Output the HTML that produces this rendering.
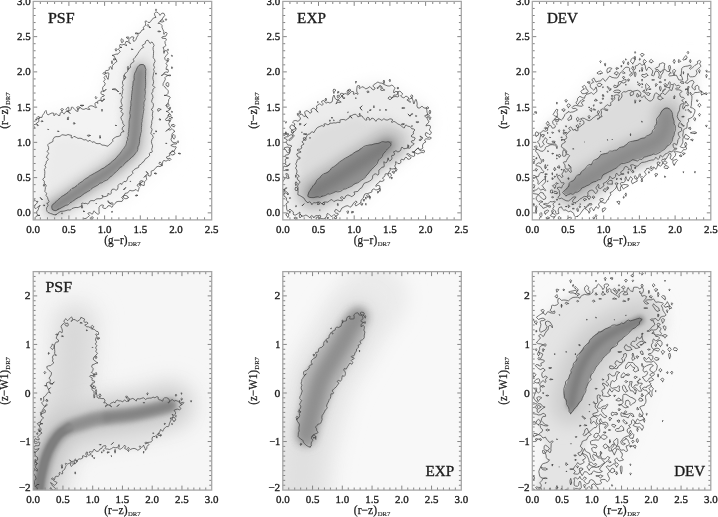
<!DOCTYPE html>
<html><head><meta charset="utf-8"><style>
html,body{margin:0;padding:0;background:#fff}
body{width:718px;height:517px;overflow:hidden}
svg{display:block}
text{font-family:"Liberation Serif",serif;fill:#1a1a1a}
.tl{font-size:10.8px;stroke:#1a1a1a;stroke-width:0.32px}
.al{font-size:12px;stroke:#1a1a1a;stroke-width:0.25px}
.sub{font-size:7px;stroke:#1a1a1a;stroke-width:0.15px}
.pn{font-size:15.1px;stroke:#1a1a1a;stroke-width:0.35px}
</style></head><body>
<svg width="718" height="517" viewBox="0 0 718 517">
<defs>
<clipPath id="c0"><rect x="33.2" y="1.4" width="178.5" height="218.5"/></clipPath>
<clipPath id="c1"><rect x="282.8" y="1.4" width="178.5" height="218.5"/></clipPath>
<clipPath id="c2"><rect x="532.3" y="1.4" width="178.5" height="218.5"/></clipPath>
<clipPath id="c3"><rect x="33.2" y="271.6" width="178.5" height="218.5"/></clipPath>
<clipPath id="c4"><rect x="282.8" y="271.6" width="178.5" height="218.5"/></clipPath>
<clipPath id="c5"><rect x="532.3" y="271.6" width="178.5" height="218.5"/></clipPath>
<filter id="b05" filterUnits="userSpaceOnUse" x="0" y="0" width="718" height="517"><feGaussianBlur stdDeviation="0.6"/></filter>
<filter id="b1" filterUnits="userSpaceOnUse" x="0" y="0" width="718" height="517"><feGaussianBlur stdDeviation="1.2"/></filter>
<filter id="b2" filterUnits="userSpaceOnUse" x="0" y="0" width="718" height="517"><feGaussianBlur stdDeviation="2.5"/></filter>
<filter id="b3" filterUnits="userSpaceOnUse" x="0" y="0" width="718" height="517"><feGaussianBlur stdDeviation="5"/></filter>
<filter id="b4" filterUnits="userSpaceOnUse" x="0" y="0" width="718" height="517"><feGaussianBlur stdDeviation="9"/></filter>
</defs>
<rect width="718" height="517" fill="#fff"/>
<g clip-path="url(#c0)">
<path d="M153.7 13.1C154.1 11.8 154.6 11.2 155.4 11.4C156.2 11.6 157.1 13.4 158.3 14.3C159.5 15.2 161.6 15.8 162.4 16.6C163.2 17.4 163.2 17.9 163 18.9C162.8 19.9 161.6 20.8 161.2 22.4C160.8 23.9 160.2 26.3 160.6 28.2C161 30.1 163 32.1 163.5 34C164 35.9 163.2 37.3 163.5 39.8C163.8 42.3 164.8 46.2 165.3 49.1C165.8 52 166.3 54.6 166.4 57.2C166.5 59.9 166.2 60.4 166 65C165.8 69.6 164.9 79.9 165.1 85C165.3 90.1 166.7 90.9 167.3 95.7C167.9 100.5 168.1 108.6 168.7 113.9C169.3 119.2 170 123.1 171 127.8C172 132.4 174.1 137.5 174.5 141.8C174.9 146.1 175.8 149.5 173.3 153.4C170.8 157.3 163.7 161.1 159.4 165C155.2 168.9 151.7 172.7 147.8 176.6C143.9 180.5 140.4 184.3 136.2 188.2C131.9 192.1 126.6 197.2 122.3 199.8C118 202.4 115.2 201.2 110.4 203.5C105.6 205.8 98.1 211 93.6 213.5C89.1 216 85.9 216.5 83.6 218.6C81.3 220.7 87.9 224.8 80 226C72.1 227.2 43.3 229.3 36 226C28.7 222.7 36.5 210 36.2 206C35.9 202 35.9 203 34.2 202C32.5 201 27.4 212.3 26 200C24.6 187.7 24.6 140 26 128C27.4 116 32.3 129 34.2 127.8C36.1 126.6 35.9 123.1 37.6 120.9C39.3 118.7 41.5 116 44.6 114.8C47.7 113.6 52 114.7 56.2 113.7C60.5 112.7 65.5 109.8 70.1 109C74.7 108.2 79.8 109.6 84 109C88.2 108.4 92.9 107.1 95.6 105.6C98.3 104.1 99.1 101.9 100.3 99.8C101.5 97.7 102 95.5 102.6 92.8C103.2 90.1 103 86.6 103.8 83.5C104.6 80.4 105.8 77.3 107.2 74.2C108.6 71.1 110.7 68.1 111.9 65C113.1 61.9 113.3 58 114.2 55.7C115.1 53.4 116.3 52.3 117.3 51C118.3 49.7 119.2 48.8 120 47.9C120.8 47 121.3 46.6 122.3 45.6C123.3 44.6 124.6 42.9 125.8 42.1C127 41.3 128 41.6 129.3 41C130.7 40.4 132.2 40.1 133.9 38.7C135.6 37.4 137.9 34.6 139.7 32.9C141.4 31.1 142.8 29.9 144.4 28.2C146 26.4 147.6 23.9 149 22.4C150.4 20.8 152.3 20.4 153.1 18.9C153.9 17.3 153.3 14.3 153.7 13.1Z" fill="#f6f6f6" filter="url(#b4)"/>
<path d="M153.7 13.1C154.1 11.8 154.6 11.2 155.4 11.4C156.2 11.6 157.1 13.4 158.3 14.3C159.5 15.2 161.6 15.8 162.4 16.6C163.2 17.4 163.2 17.9 163 18.9C162.8 19.9 161.6 20.8 161.2 22.4C160.8 23.9 160.2 26.3 160.6 28.2C161 30.1 163 32.1 163.5 34C164 35.9 163.2 37.3 163.5 39.8C163.8 42.3 164.8 46.2 165.3 49.1C165.8 52 166.3 54.6 166.4 57.2C166.5 59.9 166.2 60.4 166 65C165.8 69.6 164.9 79.9 165.1 85C165.3 90.1 166.7 90.9 167.3 95.7C167.9 100.5 168.1 108.6 168.7 113.9C169.3 119.2 170 123.1 171 127.8C172 132.4 174.1 137.5 174.5 141.8C174.9 146.1 175.8 149.5 173.3 153.4C170.8 157.3 163.7 161.1 159.4 165C155.2 168.9 151.7 172.7 147.8 176.6C143.9 180.5 140.4 184.3 136.2 188.2C131.9 192.1 126.6 197.2 122.3 199.8C118 202.4 115.2 201.2 110.4 203.5C105.6 205.8 98.1 211 93.6 213.5C89.1 216 85.9 216.5 83.6 218.6C81.3 220.7 87.9 224.8 80 226C72.1 227.2 43.3 229.3 36 226C28.7 222.7 36.5 210 36.2 206C35.9 202 35.9 203 34.2 202C32.5 201 27.4 212.3 26 200C24.6 187.7 24.6 140 26 128C27.4 116 32.3 129 34.2 127.8C36.1 126.6 35.9 123.1 37.6 120.9C39.3 118.7 41.5 116 44.6 114.8C47.7 113.6 52 114.7 56.2 113.7C60.5 112.7 65.5 109.8 70.1 109C74.7 108.2 79.8 109.6 84 109C88.2 108.4 92.9 107.1 95.6 105.6C98.3 104.1 99.1 101.9 100.3 99.8C101.5 97.7 102 95.5 102.6 92.8C103.2 90.1 103 86.6 103.8 83.5C104.6 80.4 105.8 77.3 107.2 74.2C108.6 71.1 110.7 68.1 111.9 65C113.1 61.9 113.3 58 114.2 55.7C115.1 53.4 116.3 52.3 117.3 51C118.3 49.7 119.2 48.8 120 47.9C120.8 47 121.3 46.6 122.3 45.6C123.3 44.6 124.6 42.9 125.8 42.1C127 41.3 128 41.6 129.3 41C130.7 40.4 132.2 40.1 133.9 38.7C135.6 37.4 137.9 34.6 139.7 32.9C141.4 31.1 142.8 29.9 144.4 28.2C146 26.4 147.6 23.9 149 22.4C150.4 20.8 152.3 20.4 153.1 18.9C153.9 17.3 153.3 14.3 153.7 13.1Z" fill="#f3f3f3" filter="url(#b2)"/>
<path d="M147.9 39.8C148.7 39.6 149.4 40.6 150.2 41C151 41.4 151.9 40.4 152.5 42.1C153.1 43.8 153.4 47.6 153.7 51.4C154 55.2 154.2 61.1 154.2 65C154.1 68.9 153.7 70.6 153.4 75C153.2 79.4 152.9 84.9 152.7 91.2C152.5 97.5 152.2 107.4 152 113C151.8 118.6 151.6 121.4 151.5 125C151.4 128.6 151.2 131.5 151.4 134.7C151.6 137.9 152.4 141.7 152.4 144.3C152.4 146.9 152.2 148 151.4 150.1C150.6 152.2 149.2 154.8 147.6 156.9C146 159 144.1 160.6 141.8 162.7C139.5 164.8 135.9 167.4 134 169.5C132.1 171.6 131.8 172.9 130.1 175C128.4 177.1 126.3 179.9 124 182C121.7 184.1 118.3 185.7 116 187.5C113.7 189.3 112.7 191.2 110 192.9C107.3 194.6 103 196.2 100 197.5C97 198.8 94.2 199.7 92 200.5C89.8 201.3 88.8 201.6 86.5 202.5C84.2 203.4 80.9 204.9 78 206C75.1 207.1 71.5 208.2 69 209C66.5 209.8 64.9 210.5 63 211C61.1 211.5 59.3 211.5 57.4 211.8C55.5 212.1 53.1 212.7 51.6 212.8C50.1 212.9 48.9 212.9 48.1 212.2C47.3 211.5 47 210 47 208.7C47 207.3 47.7 205.5 48.1 204.1C48.5 202.7 49.6 201.6 49.3 200C49 198.4 47.2 196.2 46.4 194.8C45.6 193.4 44.6 192.7 44.6 191.3C44.6 190 46.6 187.8 46.4 186.7C46.2 185.5 44.2 185.4 43.5 184.4C42.8 183.4 42 182.3 42.3 180.9C42.6 179.5 44.8 177.8 45.2 176.2C45.6 174.6 44.5 173.5 44.6 171.6C44.7 169.7 45.8 166.5 45.8 164.6C45.8 162.7 44.4 161.1 44.6 160C44.8 158.9 46.3 159.7 46.9 158C47.5 156.3 47.6 152.3 48 150C48.4 147.7 47.8 146.2 49.2 144.1C50.6 141.9 53.1 138.6 56.2 137.1C59.3 135.6 63.9 134.6 67.8 134.8C71.7 135 75.5 137.1 79.4 138.3C83.3 139.5 88.1 140.8 91 141.8C93.9 142.8 94.7 143.7 97 144.4C99.3 145.2 102.7 146.3 105 146.3C107.3 146.3 109 145.8 110.8 144.3C112.6 142.9 113.7 139.5 115.6 137.6C117.5 135.7 121 134.6 122.4 132.7C123.8 130.8 124 128.1 124 126C124 123.9 122.6 123.6 122.2 120.2C121.8 116.8 121.5 110.5 121.5 105.7C121.5 100.9 121.7 96 122.2 91.2C122.7 86.4 123.4 80.6 124.4 76.7C125.4 72.8 126.8 70 128 68C129.2 66 130.6 66.4 131.6 65C132.6 63.6 132.6 61.8 133.9 59.5C135.2 57.2 137.8 54.3 139.7 51.4C141.6 48.5 144.1 44 145.5 42.1C146.9 40.2 147.1 40 147.9 39.8Z" fill="#ebebeb" filter="url(#b3)"/>
<path d="M55 206.5C57.5 204.9 64.2 200.8 70 197C75.8 193.2 83.3 188 90 183.5C96.7 179 104.2 174.4 110 170C115.8 165.6 121.2 160.8 125 157C128.8 153.2 130.8 151.2 132.5 147C134.2 142.8 134.3 138.2 135 132C135.7 125.8 136 117 136.5 110C137 103 137.4 96.3 138 90C138.6 83.7 139.7 75 140 72" fill="none" stroke="#d2d2d2" stroke-width="26" stroke-linejoin="round" stroke-linecap="round" filter="url(#b3)"/>
<path d="M55 206.5C57.5 204.9 64.2 200.8 70 197C75.8 193.2 83.3 188 90 183.5C96.7 179 104.2 174.4 110 170C115.8 165.6 121.2 160.8 125 157C128.8 153.2 130.8 151.2 132.5 147C134.2 142.8 134.3 138.2 135 132C135.7 125.8 136 117 136.5 110C137 103 137.4 96.3 138 90C138.6 83.7 139.7 75 140 72" fill="none" stroke="#c0c0c0" stroke-width="16" stroke-linejoin="round" stroke-linecap="round" filter="url(#b2)"/>
<path d="M51.5 208.6C51.5 207.8 51.6 206.3 52.2 205.3C52.8 204.3 53.7 203.7 55 202.5C56.3 201.3 57.5 200.2 60 198.3C62.5 196.4 66.5 193.4 69.7 191C72.9 188.6 76.2 186 79.3 183.7C82.3 181.4 85.1 179.3 88 177.4C90.9 175.5 94 174 96.8 172.3C99.5 170.7 102.3 168.9 104.5 167.5C106.7 166.1 108 165.3 110 163.6C112 161.9 114.5 159.6 116.6 157.5C118.7 155.4 120.7 153.3 122.4 151.1C124.1 148.9 125.8 147 126.8 144.3C127.8 141.6 128.2 137.9 128.7 134.7C129.1 131.5 129.2 128.6 129.5 125C129.8 121.4 129.8 117.4 130.2 113C130.6 108.6 131.2 103.3 131.7 98.5C132.2 93.7 132.5 88.3 133.1 84C133.7 79.7 134.3 75.6 135.3 72.4C136.3 69.2 137.8 66.4 138.9 65.1C140 63.7 141 64.3 141.8 64.3C142.7 64.3 143.4 64.5 144 65.1C144.6 65.7 145.2 64.8 145.4 68C145.6 71.2 145.6 78.9 145.4 84C145.2 89.1 144.5 93.7 144 98.5C143.5 103.3 143 108.6 142.5 113C142 117.4 141.4 121.4 141 125C140.6 128.6 140.4 131.5 140 134.7C139.6 137.9 139.5 141.4 138.8 144.3C138.1 147.2 137.1 150 136 152.1C134.9 154.2 134 155 132.1 156.9C130.2 158.8 126.9 161.4 124.3 163.7C121.7 166 118.7 168.6 116.6 170.5C114.5 172.4 113.2 173.7 111.8 175C110.4 176.3 110.2 177.1 108 178.5C105.8 179.9 101.9 181.7 98.7 183.6C95.5 185.5 92.2 187.8 89 190C85.8 192.2 82.5 194.7 79.3 196.8C76.1 198.9 72.9 200.7 69.7 202.6C66.5 204.5 62.5 207.1 60 208.4C57.5 209.7 56.2 210.3 55 210.6C53.8 210.9 53.1 210.5 52.5 210.2C51.9 209.9 51.5 209.4 51.5 208.6Z" fill="#9c9c9c" filter="url(#b05)"/>
<path d="M55 206.5C57.5 204.9 64.2 200.8 70 197C75.8 193.2 83.3 188 90 183.5C96.7 179 104.2 174.4 110 170C115.8 165.6 121.2 160.8 125 157C128.8 153.2 130.8 151.2 132.5 147C134.2 142.8 134.3 138.2 135 132C135.7 125.8 136 117 136.5 110C137 103 137.4 96.3 138 90C138.6 83.7 139.7 75 140 72" fill="none" stroke="#858585" stroke-width="6" stroke-linejoin="round" stroke-linecap="round" filter="url(#b2)"/>
<path d="M156.0 10.4L155.6 9.4L156.0 8.9L156.5 9.4L156.0 10.4ZM56.0 230.2L54.7 229.4L55.5 227.4L54.5 225.4L56.0 223.9L56.4 223.4L56.0 223.1L55.3 223.4L54.0 224.7L52.0 225.0L50.0 223.4L51.2 225.4L50.0 226.9L49.3 227.4L48.0 228.2L46.0 227.8L45.0 227.4L44.0 227.2L42.0 225.4L40.0 225.0L38.0 223.4L39.3 225.4L38.0 226.2L36.0 225.4L38.0 223.4L36.0 222.4L35.3 221.4L35.0 219.4L35.2 217.4L36.0 216.4L38.0 215.4L40.0 215.4L38.0 215.4L36.7 213.4L36.7 211.4L38.0 210.4L38.3 209.4L38.8 207.4L40.0 205.9L40.2 205.4L40.0 205.1L39.7 205.4L38.0 206.9L37.2 207.4L36.0 208.6L34.0 207.4L34.4 205.4L36.0 204.3L36.7 203.4L38.0 201.4L36.0 201.4L34.0 199.4L34.0 201.4L32.0 202.4L31.0 201.4L30.4 199.4L30.0 198.9L28.0 198.7L26.7 197.4L26.4 195.4L26.5 193.4L28.0 191.4L28.0 189.4L26.0 190.8L24.0 190.4L23.0 189.4L23.1 187.4L24.0 185.9L25.2 187.4L26.0 188.0L28.0 189.4L26.4 187.4L28.0 185.4L26.0 186.4L24.7 185.4L26.0 184.6L28.0 185.4L28.4 183.4L30.0 181.8L31.0 181.4L30.0 181.0L28.0 181.2L26.0 179.4L28.0 177.4L26.0 179.4L25.3 177.4L26.0 175.4L24.0 176.4L22.9 175.4L24.0 174.3L26.0 175.4L25.0 173.4L24.0 171.4L26.0 170.1L28.0 169.4L27.0 167.4L28.0 166.7L29.3 165.4L30.0 164.7L30.6 163.4L30.0 162.7L29.0 163.4L28.0 164.4L26.0 165.4L25.3 163.4L26.0 162.4L26.2 161.4L26.7 159.4L26.7 157.4L28.0 155.9L30.0 157.4L28.4 155.4L28.0 154.6L26.8 153.4L26.0 152.1L25.3 151.4L26.0 150.7L28.0 150.4L28.3 149.4L28.0 148.6L26.0 148.1L25.6 147.4L26.0 146.7L27.0 145.4L26.0 144.6L24.8 143.4L26.0 142.5L27.0 141.4L28.0 139.4L26.0 140.3L24.8 139.4L26.0 138.4L28.0 139.4L27.2 137.4L26.0 135.9L24.5 137.4L24.0 138.1L23.0 137.4L23.0 135.4L22.9 133.4L24.0 132.3L26.0 133.4L25.0 131.4L26.0 129.4L27.5 131.4L26.0 133.4L28.0 131.7L29.7 133.4L30.0 133.9L30.4 133.4L30.0 133.2L28.2 131.4L30.0 129.9L32.0 129.4L34.0 128.1L35.0 127.4L34.0 126.4L33.5 125.4L34.0 124.7L36.0 124.1L37.0 125.4L38.0 125.8L38.5 125.4L38.0 124.9L36.3 123.4L38.0 122.1L39.0 121.4L38.7 119.4L40.0 117.4L42.0 117.4L42.5 115.4L44.0 113.4L45.0 111.4L46.0 110.4L46.4 111.4L46.7 113.4L48.0 115.0L50.0 113.8L51.0 113.4L52.0 112.9L54.0 113.4L53.7 115.4L54.0 115.6L54.7 115.4L56.0 113.4L58.0 115.4L60.0 115.4L60.0 113.4L62.0 111.9L63.5 113.4L64.0 114.1L64.5 113.4L66.0 111.4L68.0 111.4L70.0 110.4L71.3 109.4L71.3 107.4L72.0 107.0L72.7 107.4L74.0 108.4L74.8 109.4L76.0 110.9L78.0 111.4L78.0 109.4L80.0 107.4L82.0 109.0L84.0 109.4L86.0 108.4L88.0 109.4L90.0 109.4L88.0 107.4L90.0 105.9L92.0 105.8L94.0 106.7L95.2 107.4L96.0 108.0L96.6 107.4L96.0 106.6L95.2 105.4L95.0 103.4L96.0 102.1L98.0 103.4L97.3 101.4L98.0 101.1L100.0 100.1L102.0 101.4L100.8 99.4L101.3 97.4L102.0 96.6L104.0 96.1L104.4 95.4L104.0 94.9L102.0 94.4L100.8 93.4L101.3 91.4L102.0 91.0L104.0 91.4L102.6 89.4L102.7 87.4L104.0 85.7L104.7 85.4L105.2 83.4L104.0 81.9L103.6 81.4L104.0 80.9L105.2 79.4L104.0 77.4L106.0 75.4L106.8 77.4L108.0 79.4L108.5 77.4L108.6 75.4L109.0 73.4L108.0 72.7L106.0 73.4L104.0 74.6L102.8 73.4L104.0 72.5L106.0 73.4L105.1 71.4L106.0 70.5L108.0 70.4L109.3 69.4L109.3 67.4L110.0 66.6L111.3 67.4L112.0 69.4L112.2 67.4L112.4 65.4L114.0 64.1L114.5 63.4L116.0 61.9L117.0 61.4L116.0 59.4L114.0 60.0L113.0 59.4L114.0 58.6L116.0 59.4L114.7 57.4L114.0 55.9L112.0 55.4L114.0 54.9L116.0 54.1L118.0 54.1L118.4 53.4L120.0 51.8L120.3 51.4L120.0 51.0L118.4 49.4L120.0 47.4L122.0 47.4L120.0 47.4L119.6 45.4L120.0 44.4L122.0 45.0L124.0 44.3L125.6 45.4L126.0 45.7L127.0 45.4L126.0 44.7L125.2 43.4L126.0 41.4L128.0 41.7L129.7 43.4L130.0 43.9L130.5 43.4L130.0 42.7L128.7 41.4L129.0 39.4L130.0 38.4L130.7 37.4L132.0 36.7L134.0 37.4L133.0 39.4L133.7 41.4L134.0 41.6L134.3 41.4L136.0 39.4L136.7 37.4L138.0 35.4L138.0 33.4L136.0 33.9L135.0 33.4L136.0 32.7L138.0 33.4L140.0 33.1L141.1 31.4L142.0 30.0L144.0 29.4L143.2 27.4L144.0 26.6L145.5 25.4L145.6 23.4L145.0 21.4L146.0 20.9L147.0 21.4L148.0 22.4L150.0 22.4L150.7 21.4L152.0 19.4L154.0 17.8L156.0 17.4L154.8 15.4L154.4 13.4L156.0 11.8L158.0 12.7L158.7 13.4L160.0 15.4L161.6 13.4L162.0 13.1L164.0 13.4L164.8 15.4L164.0 16.7L163.0 17.4L162.0 19.4L160.0 21.4L162.0 19.4L164.0 21.4L162.0 22.1L160.0 21.4L158.0 23.4L160.0 23.4L162.0 25.4L162.0 27.4L162.8 29.4L163.8 31.4L163.6 33.4L164.0 34.4L164.4 33.4L166.0 32.1L167.1 33.4L166.3 35.4L166.0 36.1L164.0 36.4L162.0 37.0L161.8 37.4L162.0 38.1L164.0 38.4L166.0 38.7L166.4 39.4L166.0 40.4L165.0 41.4L165.1 43.4L166.0 45.4L164.0 47.2L163.0 47.4L163.8 49.4L164.0 51.4L166.0 50.4L167.2 51.4L168.0 53.4L166.3 55.4L166.0 56.1L164.7 57.4L165.0 59.4L166.0 60.6L168.0 61.4L167.2 59.4L168.0 58.1L168.8 59.4L168.0 61.4L166.0 63.4L167.3 65.4L166.4 67.4L166.0 69.4L168.0 69.4L168.4 71.4L168.0 72.4L166.0 71.9L164.0 72.9L163.8 73.4L162.0 75.2L161.3 75.4L162.0 75.7L162.4 75.4L164.0 73.8L166.0 74.6L168.0 75.4L170.0 74.9L171.0 75.4L170.0 75.8L168.0 75.4L166.0 76.4L165.0 77.4L165.3 79.4L164.3 81.4L164.0 82.1L163.2 83.4L163.0 85.4L164.0 86.4L165.5 87.4L166.0 88.4L167.0 89.4L168.0 90.4L168.3 91.4L168.0 93.4L166.0 95.4L164.0 95.4L166.0 95.4L168.0 96.1L170.0 96.9L170.3 97.4L170.0 98.1L168.7 99.4L168.5 101.4L168.0 103.4L166.0 105.4L168.0 103.4L169.3 105.4L168.0 106.5L166.0 105.4L167.2 107.4L168.0 108.5L170.0 109.4L169.7 107.4L170.0 106.9L170.5 107.4L170.0 109.4L168.0 111.0L166.0 111.4L168.0 111.9L169.5 113.4L168.0 115.4L170.0 113.8L171.0 115.4L170.0 117.0L168.0 115.4L168.0 117.4L166.0 118.5L165.5 119.4L166.0 120.6L168.0 120.4L170.0 121.4L168.8 119.4L170.0 117.9L170.9 119.4L170.0 121.4L168.7 123.4L169.3 125.4L170.0 126.4L170.5 127.4L170.0 128.1L168.0 129.4L166.0 131.4L168.0 129.4L170.0 130.1L171.0 129.4L172.0 128.6L172.8 129.4L174.0 130.9L175.0 131.4L174.0 131.8L172.4 133.4L172.0 134.4L171.8 135.4L171.8 137.4L171.0 139.4L171.8 141.4L172.0 141.7L174.0 142.7L176.0 142.7L177.0 143.4L176.0 144.1L174.0 143.9L172.0 144.7L170.8 145.4L172.0 146.0L174.0 146.9L176.0 146.7L176.3 147.4L176.0 147.7L175.0 149.4L174.0 151.4L172.0 150.7L171.6 151.4L170.0 153.0L169.3 153.4L170.0 155.4L168.0 156.4L166.0 157.4L168.0 158.9L170.0 158.2L171.0 159.4L170.0 160.5L168.0 159.9L166.0 161.2L164.0 160.4L162.8 161.4L162.5 163.4L162.0 165.4L160.0 166.6L158.0 166.2L156.0 167.4L154.5 169.4L154.0 170.1L152.0 170.8L151.0 171.4L151.3 173.4L151.0 175.4L150.0 176.2L148.0 175.4L148.2 173.4L148.0 173.1L146.0 171.4L147.7 173.4L146.0 175.4L144.0 177.4L146.0 175.4L146.3 177.4L146.7 179.4L146.0 180.2L144.8 181.4L144.3 183.4L144.3 185.4L144.0 185.7L143.0 185.4L142.0 185.0L140.0 183.4L141.0 185.4L140.0 186.1L139.3 185.4L140.0 183.4L138.0 184.1L137.0 185.4L138.0 186.2L139.2 187.4L138.7 189.4L138.0 191.4L136.0 189.4L134.0 190.6L132.0 190.9L130.0 190.3L128.7 191.4L128.0 192.7L126.0 193.2L125.0 193.4L124.0 195.4L122.0 197.0L121.6 197.4L122.0 197.9L123.2 199.4L122.0 201.4L120.0 201.4L118.0 201.4L116.0 202.1L115.2 203.4L114.0 204.6L113.0 203.4L112.0 202.7L110.0 203.4L112.0 204.4L113.2 205.4L112.0 207.4L110.0 205.7L108.0 205.8L106.9 207.4L106.0 208.4L104.0 208.4L102.6 207.4L103.5 205.4L102.0 204.9L100.5 205.4L100.0 205.9L99.0 207.4L99.0 209.4L99.0 211.4L99.3 213.4L98.0 214.4L96.7 213.4L96.0 213.1L94.5 211.4L94.0 210.8L93.5 211.4L93.0 213.4L92.0 214.2L91.0 213.4L90.0 212.6L88.0 213.2L87.8 213.4L88.0 213.8L89.6 215.4L88.0 217.0L87.5 217.4L86.0 218.4L84.0 218.7L83.0 219.4L84.0 221.4L82.0 223.4L84.0 221.4L84.4 223.4L84.0 224.4L82.0 223.4L81.0 225.4L80.0 226.2L78.5 227.4L78.0 227.8L77.3 227.4L76.0 226.6L74.0 225.4L74.0 223.4L72.0 224.8L70.0 224.2L68.0 224.6L66.0 223.4L67.3 225.4L66.0 226.7L65.0 225.4L66.0 223.4L64.0 224.3L63.0 223.4L62.0 222.9L61.0 223.4L62.0 224.4L62.9 225.4L62.0 226.9L61.6 227.4L60.0 229.0L58.7 227.4L58.0 226.4L56.7 227.4L57.3 229.4L56.0 230.2ZM166.0 19.9L165.3 19.4L166.0 18.7L166.7 19.4L166.0 19.9ZM150.2 27.4L150.0 27.1L148.3 25.4L148.0 24.4L147.0 25.4L148.0 26.4L149.0 27.4L150.0 27.7L150.2 27.4ZM160.2 31.4L160.0 31.1L158.0 31.1L157.7 31.4L158.0 31.7L160.0 31.8L160.2 31.4ZM128.0 38.4L126.0 37.4L128.0 36.9L129.0 37.4L128.0 38.4ZM122.0 42.3L121.0 41.4L121.0 39.4L122.0 38.7L122.7 39.4L123.5 41.4L122.0 42.3ZM116.0 50.7L115.0 49.4L116.0 48.7L117.3 49.4L116.0 50.7ZM132.6 49.4L132.0 48.6L131.2 49.4L132.0 49.8L132.6 49.4ZM168.0 50.1L167.5 49.4L168.0 48.9L168.4 49.4L168.0 50.1ZM164.0 51.4L164.0 53.4L164.0 51.4ZM172.0 56.1L171.3 55.4L172.0 55.0L172.3 55.4L172.0 56.1ZM112.0 63.4L111.5 61.4L112.0 60.7L112.3 61.4L112.0 63.4ZM172.0 68.2L171.0 67.4L172.0 66.8L172.7 67.4L172.0 68.2ZM168.0 86.4L166.0 85.4L166.0 83.4L168.0 82.4L168.7 83.4L168.8 85.4L168.0 86.4ZM118.2 91.4L118.0 91.2L116.3 89.4L116.0 89.0L114.0 88.7L112.0 89.4L114.0 89.6L116.0 89.9L117.7 91.4L118.0 91.9L118.2 91.4ZM106.0 89.4L104.0 91.4L106.0 89.4ZM96.0 98.4L95.0 97.4L96.0 96.5L96.9 97.4L96.0 98.4ZM104.2 99.4L104.0 98.7L103.5 99.4L102.0 101.4L104.0 99.9L104.2 99.4ZM82.0 105.8L80.0 105.4L82.0 105.1L84.0 105.4L82.0 105.8ZM68.0 111.4L66.0 109.4L67.6 107.4L68.0 107.1L68.7 107.4L68.9 109.4L68.0 111.4ZM78.0 109.4L76.7 107.4L78.0 106.7L80.0 107.4L78.0 109.4ZM62.0 111.0L60.7 109.4L62.0 108.5L63.6 109.4L62.0 111.0ZM160.8 109.4L160.0 108.8L158.0 108.7L157.5 109.4L158.0 111.4L160.0 110.0L160.8 109.4ZM102.0 109.4L102.0 111.4L102.0 109.4ZM172.0 112.1L171.3 111.4L172.0 111.0L172.4 111.4L172.0 112.1ZM70.0 113.4L68.0 111.4L70.0 113.4ZM38.0 118.7L37.0 117.4L38.0 116.4L40.0 117.4L38.0 118.7ZM68.2 119.4L68.7 117.4L68.0 116.9L67.6 117.4L67.3 119.4L68.0 119.6L68.2 119.4ZM172.0 117.8L171.0 117.4L172.0 117.0L172.3 117.4L172.0 117.8ZM36.0 119.9L35.7 119.4L36.0 118.7L37.0 119.4L36.0 119.9ZM160.3 119.4L160.0 118.6L159.0 119.4L160.0 120.4L160.3 119.4ZM42.6 121.4L42.0 120.4L41.0 121.4L42.0 121.9L42.6 121.4ZM74.7 123.4L74.0 122.3L73.4 123.4L74.0 124.4L74.7 123.4ZM28.0 125.9L27.5 125.4L28.0 125.0L28.5 125.4L28.0 125.9ZM116.2 125.4L116.0 125.0L115.3 125.4L116.0 125.7L116.2 125.4ZM174.0 126.6L172.0 125.9L171.0 125.4L172.0 124.7L174.0 124.4L174.9 125.4L174.0 126.6ZM22.0 127.9L21.3 127.4L22.0 126.4L23.0 127.4L22.0 127.9ZM30.0 128.2L29.2 127.4L30.0 126.6L31.3 127.4L30.0 128.2ZM24.0 129.9L23.7 129.4L24.0 128.7L26.0 129.4L24.0 129.9ZM48.3 129.4L48.0 129.2L47.7 129.4L48.0 129.7L48.3 129.4ZM58.6 131.4L58.0 130.7L57.5 131.4L58.0 132.0L58.6 131.4ZM156.3 131.4L156.0 130.6L155.7 131.4L156.0 132.1L156.3 131.4ZM90.1 135.4L90.0 135.2L88.0 135.1L87.3 135.4L88.0 136.4L90.0 135.7L90.1 135.4ZM174.0 138.6L172.5 137.4L172.5 135.4L174.0 134.5L174.9 135.4L175.2 137.4L174.0 138.6ZM100.3 137.4L100.0 135.4L99.8 137.4L100.0 138.4L100.3 137.4ZM24.0 142.1L23.6 141.4L24.0 140.7L24.4 141.4L24.0 142.1ZM178.0 142.4L177.3 141.4L178.0 140.7L178.5 141.4L178.0 142.4ZM166.5 143.4L166.0 143.1L165.6 143.4L166.0 143.7L166.5 143.4ZM24.0 150.7L23.1 149.4L24.0 148.4L25.3 149.4L24.0 150.7ZM174.0 154.4L172.0 155.2L170.2 153.4L172.0 151.6L174.0 151.4L175.0 153.4L174.0 154.4ZM180.0 153.8L178.0 153.4L180.0 153.1L180.4 153.4L180.0 153.8ZM24.0 156.1L22.0 156.7L21.2 155.4L22.0 154.4L24.0 154.4L25.0 155.4L24.0 156.1ZM162.0 165.4L161.5 163.4L160.0 161.9L158.8 163.4L160.0 164.4L162.0 165.4ZM30.2 173.4L30.0 173.1L28.0 173.4L26.0 175.4L28.0 173.4L30.0 173.6L30.2 173.4ZM156.0 173.7L154.0 173.4L156.0 172.9L156.5 173.4L156.0 173.7ZM28.0 177.4L26.0 175.4L28.0 177.4ZM22.0 179.8L21.3 179.4L22.0 178.7L22.3 179.4L22.0 179.8ZM130.3 181.4L130.0 181.2L129.9 181.4L130.0 181.6L130.3 181.4ZM143.0 181.4L142.0 180.6L140.0 181.2L139.8 181.4L140.0 183.4L142.0 182.1L143.0 181.4ZM124.2 189.4L126.0 187.4L124.0 189.0L123.6 189.4L124.0 189.6L124.2 189.4ZM24.0 197.4L23.0 195.4L24.0 194.4L25.3 195.4L24.0 197.4ZM136.0 195.7L135.5 195.4L136.0 194.9L138.0 195.4L136.0 195.7ZM128.0 197.8L126.0 198.9L124.0 198.1L123.0 197.4L124.0 195.4L126.0 195.4L128.0 196.7L128.4 197.4L128.0 197.8ZM26.0 200.4L25.0 199.4L26.0 198.7L26.7 199.4L26.0 200.4ZM42.1 199.4L42.0 199.2L40.0 197.4L41.7 199.4L42.0 199.7L42.1 199.4ZM28.0 203.7L26.0 203.4L26.5 201.4L28.0 200.2L29.5 201.4L29.0 203.4L28.0 203.7ZM110.0 203.4L108.5 201.4L108.0 200.7L107.9 201.4L108.0 202.1L110.0 203.4ZM96.2 203.4L96.0 203.3L95.8 203.4L96.0 203.6L96.2 203.4ZM44.4 205.4L44.0 204.7L43.4 205.4L44.0 206.1L44.4 205.4ZM84.3 211.4L84.0 210.7L83.0 211.4L84.0 211.7L84.3 211.4ZM112.0 212.1L111.6 211.4L112.0 211.0L112.5 211.4L112.0 212.1ZM92.0 219.9L91.0 219.4L91.2 217.4L92.0 216.6L93.3 217.4L92.3 219.4L92.0 219.9ZM88.0 221.7L87.3 221.4L88.0 220.7L88.5 221.4L88.0 221.7ZM32.0 223.9L31.7 223.4L32.0 222.9L33.0 223.4L32.0 223.9ZM34.0 228.0L32.0 227.4L34.0 226.6L34.6 227.4L34.0 228.0ZM40.0 228.2L39.2 227.4L40.0 226.1L41.3 227.4L40.0 228.2ZM68.0 228.2L67.0 227.4L68.0 226.4L68.7 227.4L68.0 228.2ZM38.0 231.4L37.2 229.4L38.0 228.6L38.8 229.4L38.0 231.4ZM72.0 230.2L70.0 230.4L69.5 229.4L70.0 229.0L72.0 227.8L73.6 229.4L72.0 230.2Z" fill="none" stroke="#404040" stroke-width="0.72" stroke-linejoin="round" stroke-linecap="round"/>
<path d="M56.0 214.6L54.0 214.8L52.0 213.9L50.3 213.4L50.0 213.2L48.0 212.5L47.1 211.4L46.5 209.4L46.8 207.4L48.0 205.9L48.1 205.4L48.0 204.4L46.7 203.4L48.0 203.1L49.1 201.4L48.0 199.4L47.5 197.4L46.0 195.4L46.6 193.4L46.0 192.7L44.8 191.4L45.2 189.4L45.4 187.4L46.0 186.3L46.2 185.4L46.0 184.9L44.2 183.4L44.4 181.4L44.0 181.1L42.8 179.4L44.0 177.7L44.8 177.4L44.6 175.4L44.8 173.4L44.8 171.4L44.4 169.4L45.8 167.4L44.9 165.4L46.0 163.8L46.1 163.4L46.4 161.4L48.0 159.9L48.3 159.4L48.0 158.6L46.3 157.4L47.4 155.4L48.0 154.5L48.7 153.4L48.0 152.5L46.9 151.4L48.0 150.5L48.6 149.4L48.6 147.4L48.0 145.8L47.7 145.4L48.0 144.4L49.0 143.4L50.0 143.1L52.0 142.0L53.0 141.4L53.0 139.4L54.0 137.9L54.2 137.4L56.0 136.6L58.0 136.7L60.0 136.3L61.2 135.4L62.0 134.7L64.0 135.0L66.0 135.4L68.0 134.5L70.0 135.1L71.5 135.4L71.0 137.4L72.0 138.1L73.0 137.4L74.0 136.3L76.0 137.2L76.3 137.4L78.0 138.4L80.0 138.2L82.0 138.7L82.9 139.4L84.0 140.0L86.0 139.6L88.0 141.4L90.0 140.2L91.1 141.4L92.0 142.3L94.0 141.7L96.0 143.4L98.0 143.7L100.0 143.5L102.0 145.1L104.0 145.2L105.0 145.4L106.0 145.8L108.0 146.2L108.5 145.4L110.0 144.2L110.9 143.4L112.0 142.3L112.9 141.4L112.6 139.4L114.0 138.2L115.3 137.4L116.0 136.8L118.0 136.5L120.0 135.7L120.6 135.4L120.8 133.4L122.0 131.9L124.0 131.6L124.1 131.4L124.0 131.1L122.0 129.4L122.5 127.4L124.0 126.1L124.5 125.4L124.0 124.7L122.7 123.4L122.7 121.4L122.0 120.4L121.4 119.4L120.9 117.4L122.0 115.5L122.5 115.4L123.2 113.4L122.0 112.6L120.7 111.4L122.0 109.8L122.2 109.4L122.0 108.4L120.0 108.4L119.8 107.4L120.0 107.0L122.0 106.4L122.2 105.4L122.0 104.6L121.5 103.4L121.0 101.4L121.4 99.4L122.0 98.4L122.6 97.4L122.0 96.3L121.6 95.4L122.0 94.2L122.3 93.4L122.5 91.4L123.0 89.4L122.1 87.4L123.3 85.4L122.5 83.4L122.6 81.4L124.0 79.4L126.0 77.6L126.1 77.4L126.0 77.2L124.0 75.4L125.3 77.4L124.0 79.4L123.6 77.4L124.0 75.4L125.0 73.4L126.0 72.9L127.5 71.4L128.0 69.4L130.0 67.9L130.6 67.4L130.3 65.4L131.3 63.4L132.0 63.0L134.0 61.5L134.1 61.4L134.0 60.9L133.1 59.4L134.0 58.7L135.2 57.4L136.0 55.8L136.7 55.4L137.9 53.4L138.0 53.2L139.2 51.4L140.0 50.3L140.6 49.4L142.0 48.2L143.6 47.4L142.2 45.4L144.0 44.2L145.3 43.4L145.5 41.4L146.0 40.9L148.0 40.1L148.7 41.4L150.0 43.4L152.0 41.9L153.1 43.4L154.0 45.1L154.2 45.4L154.0 45.6L153.1 47.4L153.1 49.4L153.6 51.4L153.5 53.4L153.4 55.4L153.2 57.4L154.0 58.9L154.5 59.4L155.1 61.4L154.0 63.4L153.6 65.4L154.0 66.1L154.6 67.4L154.0 68.5L153.5 69.4L154.0 70.6L154.2 71.4L154.0 72.0L153.5 73.4L153.3 75.4L152.8 77.4L153.0 79.4L153.6 81.4L153.4 83.4L152.5 85.4L154.0 86.7L155.1 87.4L154.0 88.5L152.8 89.4L152.9 91.4L152.0 92.8L151.6 93.4L152.0 94.3L152.6 95.4L153.0 97.4L152.2 99.4L152.0 99.8L151.6 101.4L152.0 102.3L153.1 103.4L153.5 105.4L152.9 107.4L152.0 109.0L151.2 109.4L152.0 110.0L152.9 111.4L152.5 113.4L152.3 115.4L152.8 117.4L152.4 119.4L152.0 120.4L151.7 121.4L151.8 123.4L151.3 125.4L150.9 127.4L152.0 129.1L152.1 129.4L152.0 129.9L151.5 131.4L150.8 133.4L152.0 134.8L152.5 135.4L153.3 137.4L152.0 139.4L151.4 141.4L151.7 143.4L152.0 144.2L152.5 145.4L152.4 147.4L152.0 148.2L151.7 149.4L152.0 150.3L152.4 151.4L152.0 152.2L150.0 152.6L149.4 153.4L149.6 155.4L148.0 157.2L147.8 157.4L146.0 158.5L144.9 159.4L144.0 161.4L142.0 162.7L141.8 163.4L140.0 164.9L138.9 165.4L138.6 167.4L138.0 167.7L136.0 168.4L134.5 169.4L134.0 169.7L132.4 171.4L132.9 173.4L132.0 174.3L130.7 175.4L130.0 176.0L128.0 177.1L127.9 177.4L127.4 179.4L126.3 181.4L126.0 181.7L124.0 181.4L122.3 183.4L122.0 184.4L120.0 183.4L118.0 185.4L118.0 187.4L117.5 189.4L116.0 190.3L114.8 189.4L114.0 189.1L112.0 189.4L111.2 191.4L111.3 193.4L110.0 194.4L108.2 193.4L108.0 193.3L107.9 193.4L108.0 195.4L106.0 196.4L104.0 196.7L102.2 195.4L102.0 195.2L101.9 195.4L102.0 195.7L103.1 197.4L102.0 198.2L100.0 198.8L98.0 198.7L96.0 199.1L95.7 199.4L94.0 200.8L92.0 200.5L90.0 201.0L89.6 201.4L88.7 203.4L88.0 204.1L86.3 203.4L86.0 203.2L85.0 203.4L84.0 203.6L83.6 203.4L82.0 203.0L81.6 203.4L82.0 205.4L80.0 206.7L78.4 207.4L78.0 207.6L76.0 207.4L74.0 207.8L72.0 208.6L71.3 209.4L70.0 210.1L68.0 209.9L66.0 210.6L64.0 211.1L62.0 211.3L61.0 211.4L60.0 211.8L58.0 213.2L57.7 213.4L56.0 214.6ZM128.0 69.4L127.4 67.4L128.0 66.3L128.7 67.4L128.0 69.4ZM156.0 73.8L155.2 73.4L156.0 73.1L156.5 73.4L156.0 73.8ZM120.0 93.6L119.9 93.4L120.0 93.2L120.7 93.4L120.0 93.6ZM154.0 133.7L153.7 133.4L154.0 133.2L154.1 133.4L154.0 133.7ZM44.0 185.8L43.3 185.4L44.0 184.1L44.8 185.4L44.0 185.8ZM82.0 207.7L81.3 207.4L82.0 205.4L82.7 207.4L82.0 207.7ZM62.0 213.6L61.8 213.4L62.0 212.7L62.1 213.4L62.0 213.6Z" fill="none" stroke="#404040" stroke-width="0.72" stroke-linejoin="round" stroke-linecap="round"/>
<path d="M58.0 209.4L56.0 210.7L54.0 210.4L52.3 209.4L52.0 208.3L51.8 207.4L51.9 205.4L52.0 205.3L54.0 203.6L54.2 203.4L56.0 201.8L56.3 201.4L58.0 199.7L58.4 199.4L60.0 198.2L60.7 197.4L62.0 196.3L63.8 195.4L64.0 195.1L66.0 193.9L66.7 193.4L68.0 192.4L69.0 191.4L70.0 190.3L71.0 189.4L72.0 188.4L74.0 187.8L74.4 187.4L76.0 186.3L77.0 185.4L78.0 184.4L79.3 183.4L80.0 182.8L82.0 181.6L82.4 181.4L84.0 179.8L84.6 179.4L86.0 178.5L88.0 177.4L90.0 175.6L90.6 175.4L92.0 174.7L94.0 173.5L94.3 173.4L96.0 172.4L97.9 171.4L98.0 171.3L100.0 170.1L101.0 169.4L102.0 168.7L104.0 168.0L104.6 167.4L106.0 166.3L107.4 165.4L108.0 164.9L110.0 163.6L110.1 163.4L112.0 161.6L112.2 161.4L114.0 160.0L114.7 159.4L116.0 158.3L116.6 157.4L118.0 155.7L118.3 155.4L120.0 153.5L120.1 153.4L121.5 151.4L122.0 150.7L122.9 149.4L124.0 148.2L124.4 147.4L125.8 145.4L126.0 144.8L126.4 143.4L126.7 141.4L127.7 139.4L127.3 137.4L128.0 136.5L128.4 135.4L128.2 133.4L128.7 131.4L128.7 129.4L129.0 127.4L129.1 125.4L129.1 123.4L129.1 121.4L129.4 119.4L130.0 117.4L130.0 117.2L130.2 115.4L130.0 114.2L129.7 113.4L130.0 111.4L130.4 109.4L130.4 107.4L130.9 105.4L130.9 103.4L130.9 101.4L131.5 99.4L131.5 97.4L131.6 95.4L131.9 93.4L132.0 92.1L132.0 91.4L132.5 89.4L132.3 87.4L132.9 85.4L133.0 83.4L133.2 81.4L134.0 80.2L134.2 79.4L134.0 77.4L134.2 75.4L134.6 73.4L135.7 71.4L136.0 70.7L136.5 69.4L137.4 67.4L138.0 66.5L139.1 65.4L140.0 64.8L142.0 64.4L144.0 64.9L144.5 65.4L145.2 67.4L145.9 69.4L145.6 71.4L145.7 73.4L145.6 75.4L145.4 77.4L145.6 79.4L145.6 81.4L145.7 83.4L145.6 85.4L145.6 87.4L145.0 89.4L145.3 91.4L145.3 93.4L144.9 95.4L144.8 97.4L145.2 99.4L144.3 101.4L144.0 102.3L143.9 103.4L144.0 105.0L144.1 105.4L144.0 105.6L143.6 107.4L143.9 109.4L143.5 111.4L143.2 113.4L142.8 115.4L142.7 117.4L142.1 119.4L142.1 121.4L142.0 121.7L141.6 123.4L141.7 125.4L141.4 127.4L141.3 129.4L141.3 131.4L140.7 133.4L140.5 135.4L140.0 137.0L139.9 137.4L139.6 139.4L139.6 141.4L139.3 143.4L138.8 145.4L138.0 146.8L137.9 147.4L137.8 149.4L137.0 151.4L136.0 152.5L135.4 153.4L134.0 155.4L132.0 157.1L131.6 157.4L130.0 158.9L129.4 159.4L128.0 160.8L127.0 161.4L126.0 162.3L124.7 163.4L124.0 164.3L123.2 165.4L122.0 166.6L120.0 167.4L118.6 169.4L118.0 170.0L116.4 171.4L116.0 171.9L114.0 173.4L112.4 175.4L112.0 175.9L110.0 177.0L109.7 177.4L108.1 179.4L108.0 179.5L106.0 180.4L104.0 181.2L103.8 181.4L102.0 182.8L100.0 183.1L99.5 183.4L98.0 185.0L97.2 185.4L96.0 186.0L94.0 187.1L93.5 187.4L92.0 188.3L90.9 189.4L90.0 190.4L88.0 191.3L87.9 191.4L86.0 192.6L84.5 193.4L84.0 193.8L82.0 195.3L81.9 195.4L80.0 196.9L78.5 197.4L78.0 197.7L76.0 198.9L75.3 199.4L74.0 200.4L72.4 201.4L72.0 201.8L70.0 202.8L69.5 203.4L68.0 204.9L66.0 205.2L65.6 205.4L64.0 206.4L62.0 207.4L60.0 208.6L58.0 209.4Z" fill="none" stroke="#404040" stroke-width="0.72" stroke-linejoin="round" stroke-linecap="round"/>
</g>
<g clip-path="url(#c1)">
<path d="M290.1 213.6C288.3 211.8 287.5 207.9 286.6 204.7C285.7 201.4 285.2 197.6 284.8 194.1C284.4 190.6 283.9 188.2 283.9 183.4C283.9 178.7 284.4 171.5 284.8 165.6C285.2 159.7 286.2 152.4 286.6 147.8C287.1 143.2 286.5 141.7 287.5 138C288.5 134.3 290.9 129.1 292.7 125.8C294.5 122.5 295.9 120.4 298.5 118C301.1 115.6 304.9 113.2 308.1 111.3C311.3 109.4 314.6 108 317.8 106.4C321 104.8 324.3 102.9 327.5 101.6C330.7 100.3 334 100.2 337.2 98.7C340.4 97.2 343.6 94.4 346.8 92.9C350 91.4 353.6 90.5 356.5 89.5C359.4 88.5 361.6 87.6 364.2 87C366.8 86.4 369.7 86.5 372 86C374.3 85.5 375.5 84.3 378.1 84C380.7 83.7 385.5 83.2 387.6 84C389.8 84.8 389.4 87.5 391 89C392.6 90.5 394.9 91.7 397 93C399.1 94.3 401.5 95.9 403.8 97C406.1 98.1 408.3 98.7 410.6 99.8C412.9 100.9 414.9 102.7 417.4 103.8C419.9 104.9 423.9 105 425.5 106.6C427.1 108.2 426.4 110.8 426.9 113.3C427.3 115.8 427.8 119 428.2 121.4C428.6 123.8 430.1 125.2 429.6 127.5C429.1 129.8 426.2 133.1 425.2 135.3C424.2 137.5 424.9 138.9 423.4 140.7C421.9 142.5 418.7 143.9 416.3 146C413.9 148.1 411.5 151 409.1 153.1C406.7 155.2 404.7 156.4 402 158.5C399.3 160.6 395.8 163.2 393.1 165.6C390.4 168 388.4 170 386 172.7C383.6 175.4 381.2 179.2 378.9 181.6C376.6 184 374.6 184.2 372 186.9C369.4 189.6 366.1 194.6 363.1 197.6C360.1 200.6 357.8 202.6 354.2 204.7C350.6 206.8 345.8 208.3 341.7 210.1C337.6 211.9 333.1 213.9 329.3 215.4C325.5 216.9 321.9 218.7 318.6 219C315.3 219.3 313.3 217.8 309.7 217.2C306.1 216.6 300.5 216 297.2 215.4C293.9 214.8 291.9 215.4 290.1 213.6Z" fill="#f0f0f0" filter="url(#b4)"/>
<path d="M290.1 213.6C288.3 211.8 287.5 207.9 286.6 204.7C285.7 201.4 285.2 197.6 284.8 194.1C284.4 190.6 283.9 188.2 283.9 183.4C283.9 178.7 284.4 171.5 284.8 165.6C285.2 159.7 286.2 152.4 286.6 147.8C287.1 143.2 286.5 141.7 287.5 138C288.5 134.3 290.9 129.1 292.7 125.8C294.5 122.5 295.9 120.4 298.5 118C301.1 115.6 304.9 113.2 308.1 111.3C311.3 109.4 314.6 108 317.8 106.4C321 104.8 324.3 102.9 327.5 101.6C330.7 100.3 334 100.2 337.2 98.7C340.4 97.2 343.6 94.4 346.8 92.9C350 91.4 353.6 90.5 356.5 89.5C359.4 88.5 361.6 87.6 364.2 87C366.8 86.4 369.7 86.5 372 86C374.3 85.5 375.5 84.3 378.1 84C380.7 83.7 385.5 83.2 387.6 84C389.8 84.8 389.4 87.5 391 89C392.6 90.5 394.9 91.7 397 93C399.1 94.3 401.5 95.9 403.8 97C406.1 98.1 408.3 98.7 410.6 99.8C412.9 100.9 414.9 102.7 417.4 103.8C419.9 104.9 423.9 105 425.5 106.6C427.1 108.2 426.4 110.8 426.9 113.3C427.3 115.8 427.8 119 428.2 121.4C428.6 123.8 430.1 125.2 429.6 127.5C429.1 129.8 426.2 133.1 425.2 135.3C424.2 137.5 424.9 138.9 423.4 140.7C421.9 142.5 418.7 143.9 416.3 146C413.9 148.1 411.5 151 409.1 153.1C406.7 155.2 404.7 156.4 402 158.5C399.3 160.6 395.8 163.2 393.1 165.6C390.4 168 388.4 170 386 172.7C383.6 175.4 381.2 179.2 378.9 181.6C376.6 184 374.6 184.2 372 186.9C369.4 189.6 366.1 194.6 363.1 197.6C360.1 200.6 357.8 202.6 354.2 204.7C350.6 206.8 345.8 208.3 341.7 210.1C337.6 211.9 333.1 213.9 329.3 215.4C325.5 216.9 321.9 218.7 318.6 219C315.3 219.3 313.3 217.8 309.7 217.2C306.1 216.6 300.5 216 297.2 215.4C293.9 214.8 291.9 215.4 290.1 213.6Z" fill="#ececec" filter="url(#b2)"/>
<path d="M313.2 131.8C315.1 130.1 315.4 128 317.8 126.7C320.2 125.4 324.3 124.6 327.5 123.8C330.7 123 334 122.9 337.2 121.9C340.4 120.9 343.6 119.3 346.8 118C350 116.7 353.6 114.2 356.5 114.2C359.4 114.2 361.3 117 364.2 118C367.1 119 370.8 119.9 373.9 120C377 120.1 380.4 118.8 383 118.5C385.6 118.2 387.3 117.5 389.3 118C391.3 118.5 393.2 120.5 395.1 121.8C397 123.1 398.6 124.9 400.9 125.7C403.2 126.5 406.4 126.1 408.7 126.7C411 127.3 413.8 128.4 414.5 129.6C415.2 130.8 413.3 132.8 412.7 134C412.1 135.2 410.9 135.4 410.9 137.1C410.9 138.8 413.6 142.4 412.7 144.2C411.8 146 407.7 146.9 405.6 147.8C403.5 148.7 402 148.7 400.2 149.6C398.4 150.5 397 151.3 394.9 153.1C392.8 154.9 390.2 157.8 387.8 160.2C385.4 162.6 383.1 165 380.7 167.4C378.3 169.8 376.1 171.7 373.6 174.5C371.1 177.3 369 181 365.8 184.3C362.6 187.6 358.4 191.6 354.3 194.1C350.2 196.6 345.5 197.7 341.1 199.1C336.7 200.5 332.4 201.8 328 202.4C323.6 203 318.5 203.1 314.8 202.6C311.1 202.1 308 200.4 306 199.5C304 198.6 303.8 197.6 302.6 197C301.4 196.4 299.9 197.5 299 195.8C298.1 194.1 297.2 189.9 297.2 186.9C297.2 183.9 299.1 181 299 178C298.9 175 296.6 172.1 296.3 169.1C296 166.1 296.8 163.1 297.2 160.2C297.6 157.2 298.4 154.1 299 151.4C299.6 148.7 299.6 146.6 300.8 144.2C302 141.8 304 139.2 306.1 137.1C308.2 135 311.2 133.5 313.2 131.8Z" fill="#dddddd" filter="url(#b3)"/>
<path d="M314 193C315.8 191.7 320.7 187.8 325 185C329.3 182.2 335 179.2 340 176C345 172.8 350.3 169 355 166C359.7 163 363.8 160.7 368 158C372.2 155.3 376.7 152.2 380 150C383.3 147.8 386.7 145.8 388 145" fill="none" stroke="#c4c4c4" stroke-width="36" stroke-linejoin="round" stroke-linecap="round" filter="url(#b3)"/>
<path d="M307.4 195C307.4 193.7 309 191.5 310 190C311 188.5 311.6 188 313.2 185.9C314.8 183.8 317.5 179.9 319.7 177.7C321.9 175.5 324.1 174.5 326.3 172.8C328.5 171.2 330.4 169.7 332.9 167.8C335.4 165.9 338.4 163.1 341.1 161.2C343.8 159.3 346.6 158.1 349.3 156.3C352.1 154.5 354.9 152.2 357.6 150.6C360.4 148.9 363.1 147.5 365.8 146.4C368.5 145.3 371.3 144.7 374 144C376.7 143.3 379.4 142.8 382.2 142.3C384.9 141.9 388.8 141.3 390.5 141.3C392.2 141.3 392.4 141.6 392.3 142.3C392.2 143 391.3 143.5 389.6 145.6C387.9 147.7 384.8 151.3 382.2 154.7C379.6 158.1 376.7 162.6 374 166.2C371.3 169.8 368.5 173.4 365.8 176.1C363.1 178.8 360.4 180.8 357.6 182.6C354.9 184.4 352.1 185.5 349.3 186.7C346.6 187.9 343.8 189 341.1 190C338.4 191 335.6 191.7 332.9 192.5C330.2 193.3 327.4 194.2 324.7 195C321.9 195.8 318.9 197 316.4 197.4C313.9 197.8 311.4 198 309.9 197.6C308.4 197.2 307.4 196.3 307.4 195Z" fill="#939393" filter="url(#b05)"/>
<path d="M314 193C315.8 191.7 320.7 187.8 325 185C329.3 182.2 335 179.2 340 176C345 172.8 350.3 169 355 166C359.7 163 363.8 160.7 368 158C372.2 155.3 376.7 152.2 380 150C383.3 147.8 386.7 145.8 388 145" fill="none" stroke="#7a7a7a" stroke-width="13" stroke-linejoin="round" stroke-linecap="round" filter="url(#b3)"/>
<path d="M389.9 81.3L388.9 80.0L389.9 79.2L390.6 80.0L389.9 81.3ZM355.9 82.7L355.5 82.0L355.9 81.0L356.6 82.0L355.9 82.7ZM383.9 83.3L383.1 82.0L383.9 80.0L384.7 82.0L383.9 83.3ZM317.9 222.0L316.9 220.0L315.9 218.0L317.9 217.0L319.9 218.0L320.9 216.0L319.9 215.3L317.9 215.7L315.9 215.6L315.2 216.0L313.9 218.0L312.6 216.0L311.9 215.5L310.9 216.0L309.9 218.0L307.9 216.0L305.9 215.0L303.9 216.0L301.9 216.0L299.9 218.0L299.2 216.0L299.9 214.0L299.9 212.0L297.9 213.7L297.2 214.0L295.9 215.0L293.9 215.0L293.2 214.0L293.4 212.0L291.9 210.8L290.6 210.0L289.9 209.0L289.2 210.0L287.9 211.3L286.9 210.0L286.6 208.0L286.6 206.0L285.9 204.0L287.9 202.4L288.6 202.0L287.9 201.7L286.2 200.0L286.6 198.0L285.9 197.3L283.9 196.0L283.9 194.0L281.9 195.3L279.9 195.0L279.2 194.0L279.9 193.0L280.9 192.0L280.9 190.0L281.9 188.0L281.9 186.0L280.9 184.0L281.9 183.0L282.6 182.0L283.9 180.0L285.2 178.0L283.9 177.3L282.6 176.0L282.7 174.0L281.9 173.0L281.1 172.0L281.9 171.0L282.9 170.0L283.2 168.0L283.9 166.0L285.9 166.7L287.9 166.0L289.9 164.3L290.1 164.0L289.9 163.5L289.5 164.0L287.9 166.0L285.9 164.7L284.9 164.0L285.9 162.0L285.1 160.0L285.9 158.7L287.9 158.4L288.6 158.0L287.9 157.7L285.9 157.3L284.6 156.0L285.9 155.0L287.9 154.7L289.1 154.0L289.9 152.0L287.9 153.0L286.9 152.0L285.9 150.0L283.9 148.0L285.9 147.3L287.9 147.0L289.9 148.0L291.9 146.0L289.9 145.2L287.9 145.0L287.2 144.0L285.9 142.0L287.5 140.0L285.9 139.0L283.9 138.0L285.9 136.9L287.9 136.7L288.9 136.0L289.9 135.0L291.9 134.7L292.9 136.0L291.9 136.8L290.7 138.0L289.9 139.0L288.6 140.0L289.9 140.6L290.5 140.0L291.9 138.8L292.4 138.0L293.9 136.3L294.3 136.0L293.9 135.3L292.3 134.0L293.9 132.0L291.9 133.0L291.2 132.0L291.9 130.0L293.9 132.0L295.9 130.0L295.9 128.0L293.9 129.6L291.9 130.0L289.9 128.0L290.2 126.0L291.9 124.8L293.9 126.0L294.9 124.0L293.9 123.4L292.5 122.0L293.9 120.8L295.9 120.5L297.9 121.3L299.9 120.0L300.6 118.0L299.9 117.3L298.6 116.0L299.9 114.7L301.9 114.0L303.4 116.0L303.9 116.5L305.9 116.0L305.1 114.0L304.6 112.0L305.9 110.7L307.9 111.0L309.1 112.0L309.9 113.3L311.9 112.0L310.9 110.0L311.9 108.8L313.9 108.0L315.9 110.0L316.9 108.0L316.4 106.0L317.9 105.0L319.4 104.0L319.9 103.6L320.4 104.0L321.9 105.5L323.4 104.0L321.9 102.5L321.5 102.0L321.9 101.0L323.9 100.5L324.9 102.0L325.9 103.2L327.9 102.2L329.9 103.0L331.9 102.0L332.6 100.0L332.6 98.0L333.4 96.0L333.9 95.0L334.4 96.0L334.9 98.0L335.9 99.3L337.9 100.0L339.9 98.0L341.9 96.0L343.9 94.0L341.9 96.0L339.9 94.0L341.9 93.2L343.9 94.0L345.9 93.5L346.6 94.0L347.9 95.0L349.2 94.0L349.9 93.0L350.9 92.0L351.9 91.3L353.9 92.0L353.2 94.0L353.9 94.4L354.9 94.0L355.9 93.0L357.2 94.0L357.9 94.4L358.1 94.0L357.9 93.3L356.9 92.0L356.7 90.0L356.9 88.0L357.2 86.0L357.9 85.5L359.9 86.0L358.9 88.0L359.9 88.7L360.6 88.0L361.9 86.7L363.9 87.3L364.4 88.0L365.9 88.9L367.9 88.0L369.9 86.6L371.3 88.0L371.9 89.0L373.9 90.0L375.2 88.0L373.9 87.2L372.9 86.0L373.9 84.5L374.9 84.0L375.9 83.3L377.9 82.0L379.9 83.0L381.9 83.2L383.2 84.0L383.9 84.4L385.9 85.3L387.9 86.0L389.9 86.0L391.9 85.0L393.2 86.0L393.9 86.7L395.2 88.0L393.9 90.0L393.6 92.0L393.9 93.0L394.9 92.0L395.9 91.3L397.9 92.0L399.9 91.0L400.9 92.0L401.9 93.0L402.7 94.0L401.9 94.7L400.6 96.0L401.9 97.0L403.9 98.0L405.9 96.0L407.9 97.2L408.9 98.0L407.9 99.3L406.9 100.0L407.9 100.5L409.4 102.0L409.9 102.3L410.6 102.0L409.9 101.5L408.4 100.0L409.9 98.8L411.9 98.0L412.9 100.0L413.2 102.0L413.9 104.0L414.6 102.0L415.4 100.0L415.9 99.3L416.4 100.0L416.9 102.0L417.2 104.0L416.9 106.0L417.9 108.0L419.9 108.0L421.9 106.0L423.9 108.0L425.9 108.0L427.9 106.7L428.9 108.0L427.9 108.7L425.9 108.0L426.9 110.0L426.9 112.0L427.9 114.0L425.9 115.2L424.6 116.0L425.9 117.0L426.9 118.0L427.9 120.0L429.1 122.0L427.9 123.2L426.9 124.0L425.9 126.0L427.9 125.3L429.9 125.5L430.4 126.0L430.3 128.0L429.9 128.7L429.2 130.0L429.9 130.8L431.4 132.0L430.7 134.0L429.9 134.8L428.6 134.0L427.9 133.3L425.9 132.5L425.2 134.0L425.9 136.0L427.9 137.5L429.9 137.0L431.4 138.0L429.9 139.2L427.9 139.0L425.9 138.8L424.4 140.0L425.9 142.0L423.9 142.9L423.0 144.0L422.4 146.0L422.9 148.0L421.9 149.0L419.9 149.5L417.9 148.0L419.5 150.0L419.9 150.5L421.9 151.0L423.9 150.0L424.6 152.0L423.9 152.7L421.9 152.5L419.9 153.0L417.9 154.0L415.9 153.2L413.9 152.0L414.6 154.0L414.6 156.0L413.9 156.5L411.9 156.0L409.9 155.0L409.2 154.0L407.9 153.6L406.6 154.0L407.9 155.3L408.9 156.0L409.9 156.4L411.2 158.0L409.9 159.0L407.9 159.3L407.1 158.0L405.9 157.0L404.9 158.0L403.9 160.0L401.9 159.2L400.6 160.0L401.0 162.0L399.9 163.6L397.9 163.5L396.4 162.0L395.9 161.5L395.5 162.0L395.9 164.0L394.7 166.0L395.9 168.0L393.9 168.7L391.9 169.1L389.9 168.0L390.4 170.0L389.9 171.0L388.9 172.0L387.9 174.0L385.9 173.6L385.2 174.0L384.9 176.0L383.9 177.0L382.4 178.0L383.9 179.5L384.3 180.0L383.9 180.5L381.9 181.5L379.9 181.0L379.6 182.0L377.9 183.2L376.9 184.0L375.9 185.5L375.7 186.0L375.9 186.5L376.6 186.0L377.9 185.2L379.9 186.0L379.9 188.0L377.9 189.5L375.9 190.0L373.9 188.8L371.9 190.0L371.9 192.0L369.9 192.7L367.9 193.5L365.9 193.7L364.9 194.0L363.9 196.0L363.3 198.0L361.9 199.4L361.1 200.0L360.9 202.0L359.9 203.3L358.9 204.0L357.9 204.7L355.9 206.0L354.9 204.0L355.9 203.3L357.2 202.0L355.9 201.0L354.6 202.0L353.9 203.0L352.9 204.0L351.9 206.0L349.9 207.3L348.6 206.0L347.9 205.7L345.9 206.0L343.9 207.0L341.9 208.0L340.9 210.0L339.9 212.0L337.9 210.7L337.2 210.0L335.9 209.3L335.1 210.0L334.7 212.0L335.9 213.2L337.9 213.3L338.3 214.0L337.9 215.0L335.9 216.0L333.9 214.5L332.4 216.0L331.9 216.7L330.9 216.0L329.9 215.3L328.6 214.0L327.9 213.3L326.9 214.0L326.9 216.0L325.9 217.0L325.2 218.0L323.9 218.8L321.9 218.7L319.9 218.0L319.1 220.0L317.9 222.0ZM384.3 90.0L383.9 89.8L382.2 88.0L381.9 86.7L380.9 86.0L379.9 85.3L379.4 86.0L377.9 87.5L376.9 88.0L377.9 88.7L378.2 88.0L379.9 86.3L381.4 88.0L380.6 90.0L381.9 90.6L383.9 90.2L384.3 90.0ZM397.9 88.5L396.9 88.0L397.9 87.3L398.9 88.0L397.9 88.5ZM333.9 93.0L333.4 92.0L333.1 90.0L333.9 89.0L335.9 90.0L334.3 92.0L333.9 93.0ZM347.9 93.2L346.9 92.0L347.9 90.0L349.9 89.2L350.9 90.0L349.9 91.3L347.9 90.0L349.4 92.0L347.9 93.2ZM337.9 92.8L337.2 92.0L337.9 91.3L339.2 92.0L337.9 92.8ZM368.6 92.0L367.9 90.7L366.8 92.0L367.9 92.9L368.6 92.0ZM397.9 92.0L397.9 94.0L397.9 92.0ZM337.9 97.5L336.9 96.0L337.9 95.0L339.9 96.0L337.9 97.5ZM391.9 98.0L393.9 96.7L395.9 96.5L397.9 97.0L398.9 96.0L397.9 94.0L395.9 95.1L393.9 95.0L393.6 96.0L391.9 98.0L389.9 96.5L387.9 98.0L389.9 100.0L391.9 98.0ZM411.9 98.0L410.4 96.0L411.9 94.8L412.9 96.0L411.9 98.0ZM344.4 98.0L343.9 97.5L341.9 96.0L342.9 98.0L343.9 99.0L344.4 98.0ZM325.9 100.5L324.9 100.0L325.9 98.0L326.6 100.0L325.9 100.5ZM317.9 102.5L317.4 102.0L317.9 101.5L318.3 102.0L317.9 102.5ZM340.6 102.0L339.9 101.0L337.9 100.0L336.9 102.0L335.9 104.0L337.9 102.3L339.9 102.6L340.6 102.0ZM361.9 106.0L359.9 108.0L361.9 106.0ZM373.9 106.0L373.9 108.0L373.9 106.0ZM404.4 108.0L403.9 107.6L401.9 107.7L401.6 108.0L401.9 108.4L403.9 108.4L404.4 108.0ZM361.9 110.0L359.9 108.0L361.9 110.0ZM370.7 110.0L369.9 109.6L369.5 110.0L369.9 111.0L370.7 110.0ZM380.1 110.0L379.9 109.8L379.4 110.0L379.9 110.3L380.1 110.0ZM386.3 110.0L385.9 109.3L385.1 110.0L385.9 110.3L386.3 110.0ZM299.9 113.3L298.9 112.0L299.9 110.7L300.9 112.0L299.9 113.3ZM317.9 112.0L315.9 110.0L317.9 112.0ZM429.9 113.5L428.9 112.0L429.9 110.0L430.9 112.0L429.9 113.5ZM297.9 115.0L296.9 114.0L297.9 113.3L298.9 114.0L297.9 115.0ZM412.3 114.0L411.9 113.5L411.4 114.0L409.9 116.0L411.9 114.3L412.3 114.0ZM409.9 116.0L407.9 114.0L409.9 116.0ZM416.4 116.0L415.9 115.5L415.2 116.0L415.9 116.3L416.4 116.0ZM427.9 117.2L426.7 116.0L427.9 114.0L429.4 116.0L427.9 117.2ZM307.9 118.0L305.9 116.0L307.9 118.0ZM332.1 118.0L331.9 117.0L331.6 118.0L331.9 118.2L332.1 118.0ZM429.9 119.3L428.9 118.0L429.9 116.7L431.2 118.0L429.9 119.3ZM285.9 122.7L285.5 122.0L285.9 121.6L286.6 122.0L285.9 122.7ZM418.3 122.0L417.9 121.7L415.9 122.0L417.9 122.8L418.3 122.0ZM300.6 124.0L299.9 123.1L299.4 124.0L299.9 125.2L300.6 124.0ZM305.9 124.0L303.9 126.0L305.9 124.0ZM295.9 128.0L293.9 126.0L295.9 128.0ZM287.9 135.0L285.9 134.0L283.9 135.3L282.9 134.0L283.9 133.2L285.9 134.0L285.4 132.0L285.9 131.6L286.4 132.0L285.9 134.0L287.9 133.5L288.9 134.0L287.9 135.0ZM420.9 140.0L421.9 139.0L422.9 138.0L421.9 137.0L419.9 136.0L421.6 138.0L419.9 139.7L418.9 140.0L419.9 140.4L420.9 140.0ZM277.9 148.8L276.6 148.0L277.9 147.3L278.9 148.0L277.9 148.8ZM290.1 150.0L289.9 148.0L288.9 150.0L289.9 152.0L290.1 150.0ZM417.9 148.0L415.9 150.0L417.9 148.0ZM413.9 152.0L415.9 150.0L413.9 152.0L411.9 152.0L413.9 152.0ZM281.9 158.0L280.6 156.0L281.9 155.2L283.2 156.0L281.9 158.0ZM279.9 160.5L279.5 160.0L279.9 159.5L280.9 160.0L279.9 160.5ZM281.9 166.0L281.2 164.0L281.9 163.5L282.9 164.0L281.9 166.0ZM288.1 170.0L287.9 169.5L285.9 169.6L285.2 170.0L285.9 170.5L287.9 170.4L288.1 170.0ZM395.9 171.0L394.9 170.0L395.9 168.0L397.2 170.0L395.9 171.0ZM393.9 173.0L391.9 172.0L393.9 171.0L394.9 172.0L393.9 173.0ZM279.9 175.0L278.9 174.0L279.9 173.5L280.6 174.0L279.9 175.0ZM288.8 178.0L288.4 176.0L287.9 174.0L285.9 173.5L285.4 174.0L285.9 174.5L287.1 176.0L286.4 178.0L287.9 178.5L288.8 178.0ZM389.9 177.5L388.4 176.0L387.9 174.0L389.9 173.0L390.9 174.0L391.4 176.0L389.9 177.5ZM279.9 178.8L279.1 178.0L279.9 176.7L281.2 178.0L279.9 178.8ZM391.9 178.4L390.9 178.0L391.9 177.0L392.3 178.0L391.9 178.4ZM286.4 188.0L285.9 187.6L285.4 188.0L283.9 190.0L285.9 188.7L286.4 188.0ZM283.9 190.0L281.9 188.0L283.9 190.0ZM379.9 191.0L378.9 190.0L379.9 188.0L380.6 190.0L379.9 191.0ZM288.1 194.0L287.9 193.0L286.9 192.0L285.9 191.3L283.9 190.0L283.9 192.0L283.9 194.0L285.9 192.7L287.2 194.0L287.9 195.0L288.1 194.0ZM377.9 192.7L377.4 192.0L377.9 191.0L378.9 192.0L377.9 192.7ZM275.9 198.7L275.4 198.0L275.4 196.0L275.9 195.5L276.4 196.0L276.6 198.0L275.9 198.7ZM367.9 197.0L366.4 196.0L367.9 194.5L369.9 196.0L367.9 197.0ZM290.2 198.0L289.9 197.8L289.2 198.0L289.9 198.5L290.2 198.0ZM365.9 198.7L365.2 198.0L365.9 197.0L366.4 198.0L365.9 198.7ZM369.9 198.5L369.4 198.0L369.9 196.0L370.6 198.0L369.9 198.5ZM363.9 200.7L362.9 200.0L363.9 199.0L364.9 200.0L363.9 200.7ZM361.9 204.9L360.4 204.0L361.9 202.8L363.1 204.0L361.9 204.9ZM365.9 204.7L365.2 204.0L365.9 203.3L366.3 204.0L365.9 204.7ZM303.9 204.0L301.9 206.0L303.9 204.0ZM289.9 212.5L288.9 212.0L289.9 211.0L290.4 212.0L289.9 212.5ZM347.9 213.0L346.6 212.0L347.9 210.7L348.9 212.0L347.9 213.0ZM351.9 212.7L351.2 212.0L351.9 211.3L353.9 212.0L351.9 212.7ZM287.9 217.0L286.6 216.0L285.9 214.0L287.9 213.0L288.4 214.0L288.9 216.0L287.9 217.0ZM301.9 216.0L299.9 214.0L301.9 216.0ZM295.9 219.3L293.9 218.0L295.9 217.0L296.6 218.0L295.9 219.3ZM327.9 218.5L326.9 218.0L327.9 217.0L328.6 218.0L327.9 218.5ZM335.9 218.8L333.9 218.0L335.9 216.0L336.9 218.0L335.9 218.8ZM329.9 220.8L329.1 220.0L329.9 219.0L330.9 220.0L329.9 220.8ZM289.9 223.0L287.9 222.0L289.9 221.3L290.6 222.0L289.9 223.0ZM293.9 223.0L293.2 222.0L293.9 221.5L294.9 222.0L293.9 223.0ZM305.9 223.0L303.9 222.0L305.9 221.6L306.6 222.0L305.9 223.0ZM327.9 222.7L325.9 222.0L323.9 222.8L322.6 222.0L323.9 221.2L325.9 222.0L327.9 221.5L328.4 222.0L327.9 222.7ZM311.9 224.7L311.4 224.0L311.9 223.0L312.3 224.0L311.9 224.7ZM319.9 225.5L318.7 224.0L319.9 223.0L320.9 224.0L319.9 225.5ZM329.9 225.0L328.7 224.0L329.9 223.0L330.8 224.0L329.9 225.0Z" fill="none" stroke="#404040" stroke-width="0.72" stroke-linejoin="round" stroke-linecap="round"/>
<path d="M355.9 98.2L355.4 98.0L355.9 97.8L356.2 98.0L355.9 98.2ZM347.9 112.3L347.7 112.0L347.9 111.8L348.2 112.0L347.9 112.3ZM367.9 112.2L367.7 112.0L367.9 111.7L368.1 112.0L367.9 112.2ZM359.9 115.3L358.9 114.0L359.9 113.3L360.2 114.0L359.9 115.3ZM311.9 204.2L311.6 204.0L310.2 202.0L309.9 201.8L308.6 202.0L307.9 203.0L307.2 202.0L305.9 201.3L305.1 200.0L303.9 198.0L301.9 196.8L300.6 196.0L299.9 195.6L297.9 194.7L297.7 194.0L297.9 193.3L298.1 192.0L297.9 190.0L295.9 190.7L295.1 190.0L295.2 188.0L295.9 187.0L297.4 188.0L297.9 190.0L298.1 188.0L297.9 187.0L297.4 186.0L297.9 185.3L298.3 184.0L299.9 182.6L300.3 182.0L299.9 181.5L297.9 180.0L297.1 178.0L297.9 177.6L299.3 176.0L297.9 174.9L296.3 174.0L297.0 172.0L296.8 170.0L295.9 168.7L295.4 168.0L295.9 167.3L296.8 166.0L295.9 164.4L295.7 164.0L295.9 163.5L296.8 162.0L297.2 160.0L297.9 159.2L299.9 158.8L300.3 158.0L299.9 157.3L297.9 157.0L297.4 156.0L296.6 154.0L297.9 153.2L299.9 152.5L301.1 152.0L299.9 151.1L297.9 150.9L297.0 150.0L297.9 149.1L299.9 149.3L301.9 148.0L301.1 146.0L301.9 145.3L303.9 144.3L304.2 144.0L303.9 143.6L301.9 142.0L303.9 140.0L305.9 140.3L306.0 140.0L305.9 138.0L303.9 140.0L303.2 138.0L303.9 137.6L305.9 138.0L306.8 136.0L307.9 134.3L309.9 134.0L311.4 132.0L311.9 131.7L312.9 132.0L313.9 132.7L314.2 132.0L315.5 130.0L315.9 129.3L316.9 128.0L317.9 127.3L319.9 126.4L320.9 126.0L321.9 125.5L322.9 126.0L323.9 126.6L324.5 126.0L323.9 124.0L325.9 123.8L326.1 124.0L327.9 124.8L329.7 124.0L329.9 123.0L331.9 123.3L333.9 122.8L335.9 123.0L337.9 122.2L339.9 122.7L340.1 122.0L339.9 120.0L341.9 119.5L343.9 119.5L345.4 120.0L345.9 120.2L346.1 120.0L347.9 118.6L349.1 118.0L349.9 116.0L351.9 115.5L353.9 114.4L355.9 114.3L357.5 116.0L357.9 116.9L359.9 116.1L360.9 116.0L361.9 115.8L362.1 116.0L363.4 118.0L363.9 118.6L365.5 120.0L365.9 120.2L366.9 120.0L366.6 118.0L367.9 117.2L369.2 118.0L369.2 120.0L369.9 120.2L370.4 120.0L371.9 118.0L373.9 118.8L374.9 120.0L375.9 121.4L376.8 120.0L377.9 118.8L379.9 119.1L381.0 120.0L381.9 120.4L382.3 120.0L383.9 118.7L385.9 120.0L387.9 120.0L389.9 118.8L391.9 119.1L392.8 120.0L391.9 121.1L391.3 122.0L391.9 122.5L393.0 122.0L393.9 121.3L395.1 122.0L395.9 122.4L397.9 124.0L399.9 124.8L401.6 126.0L401.9 126.3L403.6 128.0L403.9 128.2L404.3 128.0L405.1 126.0L405.9 124.9L407.6 126.0L407.9 126.2L409.9 126.6L411.4 128.0L411.9 128.8L413.9 129.0L415.0 130.0L413.9 131.0L413.2 132.0L413.5 134.0L411.9 135.0L411.1 136.0L411.9 137.0L413.9 137.3L415.2 138.0L414.3 140.0L413.9 140.7L411.9 140.7L411.1 142.0L411.9 142.5L413.9 143.6L414.3 144.0L413.9 144.4L411.9 145.5L411.1 146.0L410.2 148.0L409.9 148.2L407.9 148.0L405.9 148.4L403.9 148.8L403.3 148.0L401.9 147.1L401.3 148.0L400.8 150.0L399.9 151.1L397.9 152.0L395.9 150.7L393.9 151.9L393.4 152.0L393.9 152.4L394.6 154.0L393.9 155.3L391.9 155.4L391.5 156.0L391.9 157.5L392.2 158.0L391.9 158.5L391.1 160.0L389.9 161.1L388.5 160.0L388.4 158.0L387.9 157.8L387.8 158.0L387.6 160.0L386.9 162.0L385.9 163.0L384.1 162.0L383.9 161.7L383.8 162.0L383.9 163.0L384.1 164.0L384.2 166.0L383.9 167.0L381.9 167.2L381.5 168.0L379.9 169.2L378.9 170.0L378.8 172.0L378.8 174.0L377.9 175.2L376.2 174.0L375.9 173.8L374.9 174.0L373.9 174.4L372.6 176.0L372.6 178.0L371.9 179.2L371.3 180.0L369.9 180.9L367.9 182.0L365.9 182.6L363.9 183.5L363.7 184.0L362.6 186.0L361.9 187.6L361.2 188.0L359.9 188.7L359.0 190.0L357.9 191.4L355.9 191.7L353.9 192.0L354.9 194.0L353.9 195.2L352.7 196.0L351.9 196.7L350.6 196.0L349.9 195.7L347.9 194.9L345.9 195.9L345.7 196.0L344.8 198.0L343.9 199.0L343.1 198.0L341.9 196.4L340.3 198.0L341.9 199.2L342.9 200.0L341.9 200.7L339.9 200.5L337.9 200.0L335.9 200.5L333.9 201.6L332.3 200.0L331.9 199.5L330.6 200.0L329.9 200.3L328.2 202.0L327.9 202.2L325.9 202.0L323.9 202.0L321.9 204.0L319.9 202.0L317.9 202.0L315.9 202.9L313.9 202.6L312.2 204.0L311.9 204.2ZM351.9 118.0L349.9 116.0L351.9 118.0ZM329.9 121.0L329.6 120.0L329.9 119.8L330.3 120.0L329.9 121.0ZM333.9 120.4L333.5 120.0L333.9 119.7L334.2 120.0L333.9 120.4ZM403.9 124.2L401.9 125.0L401.5 124.0L401.9 123.7L403.9 123.8L404.3 124.0L403.9 124.2ZM411.9 126.4L411.6 126.0L411.9 125.5L412.4 126.0L411.9 126.4ZM301.9 132.3L301.7 132.0L301.9 131.8L302.1 132.0L301.9 132.3ZM305.9 134.4L303.9 134.4L303.3 134.0L303.9 133.6L305.9 133.8L306.9 134.0L305.9 134.4ZM310.0 138.0L309.9 137.6L309.6 138.0L309.9 138.2L310.0 138.0ZM408.7 146.0L407.9 144.7L407.6 146.0L407.9 148.0L408.7 146.0ZM295.9 177.0L295.2 176.0L295.9 174.8L296.4 176.0L295.9 177.0ZM295.9 185.2L295.2 184.0L295.6 182.0L295.9 181.7L296.4 182.0L297.3 184.0L295.9 185.2ZM317.9 204.4L317.7 204.0L317.9 202.0L319.9 204.0L317.9 204.4ZM323.9 204.5L321.9 204.0L323.9 202.0L324.9 204.0L323.9 204.5ZM337.9 205.3L337.1 204.0L337.9 203.3L338.4 204.0L337.9 205.3ZM295.9 206.4L295.5 206.0L295.9 205.4L296.6 206.0L295.9 206.4ZM319.9 210.2L319.7 210.0L319.9 209.8L320.1 210.0L319.9 210.2Z" fill="none" stroke="#404040" stroke-width="0.72" stroke-linejoin="round" stroke-linecap="round"/>
<path d="M321.9 196.3L319.9 197.4L317.9 196.8L315.9 197.0L313.9 197.6L311.9 197.6L309.9 197.5L307.9 196.5L307.5 196.0L307.9 195.5L308.4 194.0L308.9 192.0L309.9 190.8L310.3 190.0L311.5 188.0L311.9 187.6L312.8 186.0L313.9 184.7L315.0 184.0L315.9 182.2L316.0 182.0L316.9 180.0L317.9 179.1L319.6 178.0L319.9 177.7L321.0 176.0L321.9 175.1L323.7 174.0L323.9 173.8L325.9 173.1L327.9 172.2L328.1 172.0L329.9 170.4L330.3 170.0L331.5 168.0L331.9 167.6L333.9 166.8L334.8 166.0L335.9 165.1L337.5 164.0L337.9 163.4L339.5 162.0L339.9 161.8L341.9 160.3L342.5 160.0L343.9 159.0L345.6 158.0L345.9 157.9L347.9 156.8L349.4 156.0L349.9 155.4L351.9 154.6L352.5 154.0L353.9 152.9L355.3 152.0L355.9 151.5L357.9 150.9L359.5 150.0L359.9 149.2L361.9 148.1L362.0 148.0L363.9 146.5L365.1 146.0L365.9 145.7L367.9 145.3L369.9 144.8L371.9 144.8L373.9 144.0L375.9 143.6L377.9 143.5L379.9 142.8L381.4 142.0L381.9 141.7L383.9 141.7L384.9 142.0L385.9 142.1L386.9 142.0L387.9 141.7L389.0 142.0L389.9 142.4L391.1 144.0L390.6 146.0L389.9 146.7L388.3 148.0L387.9 148.4L386.6 150.0L385.9 150.7L385.0 152.0L383.9 153.2L383.1 154.0L382.4 156.0L381.9 156.9L380.9 158.0L379.9 158.6L378.6 160.0L377.9 161.7L377.8 162.0L376.9 164.0L375.9 165.0L375.0 166.0L373.9 167.1L373.1 168.0L371.9 169.3L371.1 170.0L369.9 171.4L369.5 172.0L368.0 174.0L367.9 174.1L366.0 176.0L365.9 176.3L364.8 178.0L363.9 178.6L361.9 179.9L361.7 180.0L359.9 181.3L359.1 182.0L357.9 182.8L355.9 183.4L354.7 184.0L353.9 184.4L352.1 186.0L351.9 186.1L349.9 187.0L347.9 187.8L347.7 188.0L345.9 188.9L343.9 189.1L342.4 190.0L341.9 190.6L339.9 191.5L337.9 191.9L335.9 191.6L335.0 192.0L333.9 192.6L331.9 193.3L330.2 194.0L329.9 194.2L328.9 194.0L327.9 193.9L327.8 194.0L325.9 195.2L323.9 195.9L323.1 196.0L321.9 196.3Z" fill="none" stroke="#404040" stroke-width="0.72" stroke-linejoin="round" stroke-linecap="round"/>
</g>
<g clip-path="url(#c2)">
<path d="M543.6 212.8C540.4 212.2 537.5 210.2 535.9 207C534.3 203.8 534 198.3 534 193.5C534 188.7 535.8 183.2 535.9 178C536 172.8 534.9 167.4 534.9 162.6C534.9 157.8 535.4 153.5 535.9 149C536.4 144.5 536.9 138.5 537.8 135.5C538.7 132.5 540.2 132.9 541.3 131.2C542.4 129.4 543.1 126.8 544.4 125C545.7 123.2 547.2 122 549 120.4C550.8 118.9 552.9 117.2 555.2 115.7C557.5 114.2 560.7 112.9 563 111.1C565.3 109.3 567.2 106.7 569.2 104.9C571.2 103.1 573.2 101.8 575.3 100.2C577.3 98.7 580 97.4 581.5 95.6C583 93.8 583.3 91.2 584.6 89.4C585.9 87.6 588.3 86.6 589.3 84.8C590.3 83 589.2 80.1 590.8 78.6C592.3 77 596 76.5 598.6 75.5C601.2 74.5 604.1 73.4 606.3 72.4C608.5 71.4 609.8 69.9 612 69.3C614.2 68.7 616.5 70 619.7 69C622.9 68 627.8 64.8 631.3 63.2C634.8 61.6 638.4 59 641 59.3C643.6 59.6 644.2 64.1 646.8 65.1C649.4 66.1 653.3 64.8 656.5 65.1C659.7 65.4 663 66.4 666.2 67.1C669.4 67.8 672.6 69.7 675.8 69C679 68.3 681.6 63.9 685.5 63.2C689.4 62.6 696.4 63.5 699 65.1C701.6 66.7 701.3 70.6 701 72.9C700.7 75.2 697.4 76.1 697.1 78.7C696.8 81.3 699.3 85.2 699 88.4C698.7 91.6 696.5 94.8 695.2 98C693.9 101.2 691.9 104.5 691.3 107.7C690.6 110.9 691.7 114.5 691.3 117.4C690.9 120.3 689.9 123 689 125C688.1 127 687 127 686 129.3C685 131.6 684.4 135.8 682.9 138.6C681.4 141.4 679 144.2 676.7 146.3C674.4 148.4 671.7 149.2 668.9 151C666.1 152.8 662.5 155.1 659.7 157.2C656.9 159.2 654.8 161.2 651.9 163.3C649 165.4 645.4 167.9 642.6 169.5C639.8 171.1 637.5 171 634.9 172.6C632.3 174.2 629.8 176.7 627.2 178.8C624.6 180.9 622 182.9 619.4 185C616.8 187.1 614 189.1 611.7 191.2C609.4 193.3 608.1 195.1 605.5 197.4C602.9 199.7 599 203.5 595.8 205.1C592.6 206.7 589.4 206.3 586.2 207C583 207.7 579.7 208.3 576.5 209C573.3 209.7 570.3 210.6 566.8 210.9C563.2 211.2 559.1 210.6 555.2 210.9C551.3 211.2 546.8 213.5 543.6 212.8Z" fill="#f5f5f5" filter="url(#b4)"/>
<path d="M543.6 212.8C540.4 212.2 537.5 210.2 535.9 207C534.3 203.8 534 198.3 534 193.5C534 188.7 535.8 183.2 535.9 178C536 172.8 534.9 167.4 534.9 162.6C534.9 157.8 535.4 153.5 535.9 149C536.4 144.5 536.9 138.5 537.8 135.5C538.7 132.5 540.2 132.9 541.3 131.2C542.4 129.4 543.1 126.8 544.4 125C545.7 123.2 547.2 122 549 120.4C550.8 118.9 552.9 117.2 555.2 115.7C557.5 114.2 560.7 112.9 563 111.1C565.3 109.3 567.2 106.7 569.2 104.9C571.2 103.1 573.2 101.8 575.3 100.2C577.3 98.7 580 97.4 581.5 95.6C583 93.8 583.3 91.2 584.6 89.4C585.9 87.6 588.3 86.6 589.3 84.8C590.3 83 589.2 80.1 590.8 78.6C592.3 77 596 76.5 598.6 75.5C601.2 74.5 604.1 73.4 606.3 72.4C608.5 71.4 609.8 69.9 612 69.3C614.2 68.7 616.5 70 619.7 69C622.9 68 627.8 64.8 631.3 63.2C634.8 61.6 638.4 59 641 59.3C643.6 59.6 644.2 64.1 646.8 65.1C649.4 66.1 653.3 64.8 656.5 65.1C659.7 65.4 663 66.4 666.2 67.1C669.4 67.8 672.6 69.7 675.8 69C679 68.3 681.6 63.9 685.5 63.2C689.4 62.6 696.4 63.5 699 65.1C701.6 66.7 701.3 70.6 701 72.9C700.7 75.2 697.4 76.1 697.1 78.7C696.8 81.3 699.3 85.2 699 88.4C698.7 91.6 696.5 94.8 695.2 98C693.9 101.2 691.9 104.5 691.3 107.7C690.6 110.9 691.7 114.5 691.3 117.4C690.9 120.3 689.9 123 689 125C688.1 127 687 127 686 129.3C685 131.6 684.4 135.8 682.9 138.6C681.4 141.4 679 144.2 676.7 146.3C674.4 148.4 671.7 149.2 668.9 151C666.1 152.8 662.5 155.1 659.7 157.2C656.9 159.2 654.8 161.2 651.9 163.3C649 165.4 645.4 167.9 642.6 169.5C639.8 171.1 637.5 171 634.9 172.6C632.3 174.2 629.8 176.7 627.2 178.8C624.6 180.9 622 182.9 619.4 185C616.8 187.1 614 189.1 611.7 191.2C609.4 193.3 608.1 195.1 605.5 197.4C602.9 199.7 599 203.5 595.8 205.1C592.6 206.7 589.4 206.3 586.2 207C583 207.7 579.7 208.3 576.5 209C573.3 209.7 570.3 210.6 566.8 210.9C563.2 211.2 559.1 210.6 555.2 210.9C551.3 211.2 546.8 213.5 543.6 212.8Z" fill="#efefef" filter="url(#b2)"/>
<path d="M552.9 193.2C552.9 194.5 552.3 196.1 553.3 197.4C554.3 198.7 556.5 200.2 559.1 201.2C561.7 202.2 565.2 202.9 568.8 203.2C572.3 203.5 576.9 203.9 580.4 203.2C583.9 202.5 587.6 200.2 590 199C592.4 197.8 592.5 197.5 594.6 195.9C596.7 194.3 599.8 191.8 602.4 189.7C605 187.6 607.5 185.6 610.1 183.5C612.7 181.4 615.6 179.1 617.9 177.3C620.2 175.5 621.8 174.2 624.1 172.6C626.4 171 629.2 169.3 631.8 168C634.4 166.7 636.7 166.2 639.5 164.9C642.3 163.6 645.7 161.8 648.8 160.2C651.9 158.6 655 157.1 658.1 155.6C661.2 154.1 664.7 153.1 667.4 151C670.1 148.9 672.8 146.8 674.4 143.2C676 139.6 675.5 134.2 676.7 129.3C677.9 124.4 680.5 118.1 681.6 113.5C682.8 108.9 683.6 105.5 683.6 101.9C683.6 98.4 682.6 95.1 681.6 92.2C680.6 89.3 679.7 85.5 677.8 84.5C675.9 83.5 673.2 84.8 670 86.4C666.8 88 662.3 92.6 658.4 94.2C654.5 95.8 650.7 96.8 646.8 96.1C642.9 95.4 638.8 92.2 635.2 90.3C631.7 88.4 629.4 83.2 625.5 84.5C621.6 85.8 616 93.8 612 98C608 102.2 605.3 106.9 601.6 109.6C597.9 112.3 593.6 112.3 590 114C586.4 115.7 583.3 117.8 580 120C576.7 122.2 573.2 123.8 570 127C566.8 130.2 562.5 135.6 561 139.3C559.5 143 560.4 145.8 561 149C561.6 152.2 564.6 155.5 564.9 158.7C565.2 161.9 563.6 165.5 563 168.4C562.4 171.3 562 173.5 561 176.1C560 178.7 558.4 181.6 557.1 183.8C555.8 186.1 554 188 553.3 189.6C552.6 191.2 552.9 191.9 552.9 193.2Z" fill="#dcdcdc" filter="url(#b3)"/>
<path d="M570 190C572.5 188.5 580 184 585 181C590 178 595 175.2 600 172C605 168.8 610 165 615 162C620 159 625 156.5 630 154C635 151.5 640.3 149.3 645 147C649.7 144.7 654.7 142.8 658 140C661.3 137.2 663.5 134.2 665 130C666.5 125.8 666.7 117.5 667 115" fill="none" stroke="#c8c8c8" stroke-width="32" stroke-linejoin="round" stroke-linecap="round" filter="url(#b3)"/>
<path d="M563.9 192.5C563.7 191.6 565.1 190.4 566 189C566.9 187.6 567.8 185.9 569.3 184.1C570.8 182.3 573.2 180.2 575.1 178.3C577 176.4 578.8 174.4 580.9 172.5C583 170.6 585.6 168.6 587.9 166.7C590.2 164.8 592.5 162.9 594.8 160.9C597.1 158.9 599.5 155.9 601.8 154.5C604.1 153.1 606.4 153.2 608.7 152.5C611 151.8 613.7 151.2 615.7 150.4C617.8 149.6 618.3 148.9 621 147.5C623.7 146.1 628.4 143.2 631.8 141.7C635.1 140.2 638.3 139.6 641.1 138.6C643.9 137.6 646.5 137.1 648.8 135.5C651.1 133.9 653.7 131.4 655 129.3C656.3 127.2 656 125 656.6 123.1C657.2 121.2 657.7 119.8 658.4 118C659.1 116.2 660 113.7 661 112C662 110.3 663 108.8 664.2 108C665.4 107.2 666.9 107 668 107.5C669.1 108 670.1 108.9 671 111C671.9 113.1 673 117 673.6 120C674.2 123 674.6 126.1 674.4 129.3C674.2 132.5 673.6 136.1 672.4 139C671.2 141.9 669.1 144.4 667 146.5C664.9 148.6 662.5 150.2 660 151.5C657.5 152.8 654.6 153.6 652 154.5C649.4 155.4 647.2 156.2 644.6 157C642 157.8 639 158.8 636.4 159.5C633.8 160.2 631.3 160.9 628.7 161.5C626.1 162.1 623.2 162.2 621 163.3C618.8 164.4 617.6 166.6 615.7 167.9C613.9 169.2 611.8 170.2 609.9 171.3C608 172.5 606 173.4 604.1 174.8C602.2 176.2 600.6 177.9 598.3 179.5C596 181.1 592.7 182.8 590.2 184.1C587.7 185.4 585.7 186.2 583.2 187.6C580.7 188.9 577.8 191 575.1 192.2C572.4 193.3 568.9 194.4 567 194.5C565.1 194.6 564.1 193.4 563.9 192.5Z" fill="#999999" filter="url(#b05)"/>
<path d="M570 190C572.5 188.5 580 184 585 181C590 178 595 175.2 600 172C605 168.8 610 165 615 162C620 159 625 156.5 630 154C635 151.5 640.3 149.3 645 147C649.7 144.7 654.7 142.8 658 140C661.3 137.2 663.5 134.2 665 130C666.5 125.8 666.7 117.5 667 115" fill="none" stroke="#868686" stroke-width="9" stroke-linejoin="round" stroke-linecap="round" filter="url(#b3)"/>
<path d="M635.1 52.9L634.6 52.3L635.1 51.5L635.7 52.3L635.1 52.9ZM688.0 53.3L687.0 52.3L688.0 51.3L689.0 52.3L688.0 53.3ZM642.0 56.3L640.3 54.6L642.0 53.2L644.3 54.6L642.0 56.3ZM635.1 59.2L634.1 56.9L635.1 56.3L635.7 56.9L635.1 59.2ZM685.7 59.2L683.4 60.2L682.8 59.2L683.4 58.6L684.6 56.9L685.7 55.5L687.2 56.9L686.3 59.2L685.7 59.2ZM625.9 59.8L625.3 59.2L625.9 58.7L626.4 59.2L625.9 59.8ZM632.8 63.7L630.5 61.5L631.3 59.2L632.8 57.7L635.1 59.2L634.3 61.5L632.8 63.7ZM639.7 59.8L639.1 59.2L639.7 58.3L640.6 59.2L639.7 59.8ZM600.6 62.4L599.7 61.5L600.6 60.6L601.2 61.5L600.6 62.4ZM623.6 63.5L622.6 61.5L623.6 60.9L624.3 61.5L623.6 63.5ZM644.3 63.7L643.3 61.5L644.3 59.4L646.5 61.5L644.3 63.7ZM651.2 62.6L648.9 61.5L651.2 59.3L653.4 61.5L651.2 62.6ZM674.2 63.0L673.1 61.5L674.2 59.3L675.3 61.5L674.2 63.0ZM678.8 62.1L678.1 61.5L678.8 59.4L680.8 61.5L678.8 62.1ZM690.3 62.2L689.3 61.5L690.3 59.4L691.2 61.5L690.3 62.2ZM577.6 216.3L575.3 216.7L574.2 215.6L573.7 213.3L573.0 212.8L570.7 211.1L568.4 211.7L567.2 211.0L566.1 209.9L563.8 210.2L562.2 208.7L561.5 206.8L559.2 207.6L558.5 208.7L558.1 211.0L559.0 213.3L556.9 214.0L555.8 213.3L555.6 211.0L554.6 210.5L552.8 208.7L554.1 206.4L552.9 204.1L554.6 202.2L555.4 201.8L554.6 201.3L552.3 201.8L552.0 201.8L550.0 201.6L549.9 201.8L547.7 204.0L545.4 203.4L543.4 204.1L545.4 204.8L547.7 205.7L550.0 205.7L551.0 206.4L550.0 207.3L547.7 206.4L545.4 207.5L543.1 208.4L541.9 206.4L540.8 205.8L539.1 204.1L540.8 202.3L543.0 201.8L540.8 200.8L538.5 201.8L536.2 199.5L536.3 197.2L538.5 194.9L540.8 197.1L540.9 197.2L543.1 199.5L545.4 199.0L545.9 197.2L545.4 196.2L544.2 194.9L543.1 192.9L541.3 192.6L540.8 191.9L540.4 192.6L538.5 194.6L536.2 194.0L533.9 193.7L531.6 193.2L530.6 192.6L531.6 191.6L533.9 190.3L536.2 190.0L538.5 188.1L540.8 190.1L543.1 189.1L544.5 190.3L545.4 190.7L545.9 190.3L545.4 189.7L543.8 188.0L543.1 186.8L542.1 185.7L543.1 184.6L544.3 183.4L545.4 182.1L545.7 181.1L545.4 178.8L543.1 179.9L541.9 181.1L540.8 182.2L539.5 183.4L538.5 184.4L537.9 183.4L538.2 181.1L536.8 178.8L536.4 176.5L538.5 176.4L539.3 174.2L540.8 172.4L543.1 172.8L544.1 171.9L543.1 170.8L542.0 169.6L540.8 167.4L540.7 167.3L538.5 166.1L536.2 165.7L535.5 165.0L536.2 164.3L538.5 162.8L540.8 163.4L541.4 162.7L541.3 160.4L540.8 158.9L539.6 158.1L539.2 155.8L538.5 155.6L537.7 153.5L536.2 151.9L535.5 151.2L536.2 149.1L538.5 149.8L540.8 151.2L543.1 151.2L545.3 148.9L545.4 147.5L546.5 146.6L547.7 146.4L550.0 144.9L552.3 144.7L554.6 145.1L556.5 146.6L556.9 148.7L557.3 146.6L556.9 145.7L556.0 144.3L554.6 143.8L552.3 144.0L550.0 144.0L547.7 143.5L546.2 142.0L547.2 139.7L545.4 137.6L544.2 139.7L543.1 140.9L542.6 142.0L543.1 143.0L544.2 144.3L543.1 145.5L541.9 146.6L540.8 147.3L539.7 146.6L539.4 144.3L538.5 142.8L537.4 142.0L538.5 140.9L539.6 139.7L540.1 137.4L540.8 135.1L539.8 132.8L540.8 132.7L543.1 130.6L545.4 131.3L547.5 130.5L547.7 128.2L548.9 125.9L550.0 124.8L551.0 125.9L552.3 128.2L554.6 127.9L555.5 125.9L554.6 125.2L553.0 123.6L552.6 121.3L554.6 119.1L555.5 121.3L556.9 121.9L558.3 121.3L559.2 119.0L561.5 120.0L562.6 119.0L563.8 116.8L564.1 116.7L565.0 114.4L566.1 113.3L568.4 112.1L568.4 111.4L569.7 112.1L570.7 112.4L571.2 112.1L573.0 112.0L575.3 110.9L577.4 109.8L575.3 108.3L573.0 108.6L571.9 107.5L573.0 106.4L575.3 105.4L577.6 105.7L579.9 106.1L582.2 106.2L583.1 105.2L582.2 104.0L581.4 102.9L582.2 101.7L584.4 100.6L582.2 99.5L581.1 100.6L579.9 101.4L579.0 102.9L577.6 104.7L575.9 102.9L577.4 100.6L577.6 98.3L579.9 96.3L582.2 97.6L584.5 98.3L585.1 96.0L586.8 94.2L589.0 93.7L589.1 93.6L591.4 92.6L592.6 93.7L593.7 94.3L594.4 93.7L596.0 92.1L597.0 91.4L596.7 89.1L596.0 86.9L594.9 89.1L593.7 90.1L592.6 89.1L591.4 88.3L590.3 86.8L590.3 84.5L591.4 83.3L593.7 82.2L591.8 79.9L593.7 77.9L594.8 79.9L596.0 82.1L598.3 81.2L600.6 81.0L601.4 79.9L602.9 78.4L604.1 79.9L605.2 81.3L606.7 79.9L607.5 78.7L608.2 77.6L609.8 76.1L612.1 77.5L613.3 77.6L614.4 77.9L616.7 78.0L617.7 77.6L619.0 75.3L620.1 73.0L621.3 71.9L622.6 73.0L623.6 73.4L625.2 73.0L623.6 72.0L622.4 70.7L623.6 69.5L624.3 68.4L625.9 67.2L628.2 67.3L629.7 68.4L629.5 70.7L630.5 71.9L631.9 73.0L630.5 73.8L629.5 75.3L630.5 76.1L631.8 75.3L632.8 73.8L633.0 73.0L633.5 70.7L635.1 68.9L635.5 68.4L635.2 66.1L637.4 65.3L639.1 63.8L639.7 63.2L640.3 63.8L642.0 65.4L644.3 63.9L645.4 66.1L645.5 68.4L646.6 70.6L647.5 68.4L648.9 67.1L650.7 68.4L651.2 69.1L652.8 70.7L652.4 73.0L651.5 75.3L653.5 75.8L654.2 75.3L654.6 73.0L655.8 70.8L658.1 71.7L658.9 73.0L659.3 75.3L658.4 77.6L660.4 78.6L660.8 77.6L661.1 75.3L662.7 73.0L662.9 73.0L663.3 70.7L665.0 69.2L666.2 70.7L667.3 71.4L669.6 71.6L671.3 73.0L669.6 73.3L668.7 75.3L669.6 76.0L671.9 75.7L674.2 75.3L673.1 73.0L672.7 70.7L674.2 69.2L675.7 70.7L674.3 73.0L674.2 75.3L676.5 75.3L677.6 77.6L678.8 79.9L678.9 79.9L681.1 80.1L682.7 79.9L682.2 77.6L681.1 75.4L679.9 75.3L681.1 75.2L681.4 73.0L681.5 70.7L681.8 68.4L683.4 66.8L685.7 66.3L687.1 66.1L688.0 66.0L690.3 65.0L691.4 66.1L690.3 67.7L689.4 68.4L690.3 69.3L691.3 68.4L692.6 67.6L694.2 66.1L694.9 65.4L697.2 63.9L697.9 63.8L697.3 61.5L699.5 60.4L700.9 61.5L699.6 63.8L701.0 66.1L699.5 67.7L698.4 68.4L697.2 69.6L696.2 70.7L697.2 73.0L696.0 75.3L694.9 76.4L692.6 76.8L690.3 76.8L688.7 75.3L688.0 73.4L687.5 75.3L687.5 77.6L687.9 79.9L685.7 81.6L685.5 82.2L685.7 83.0L688.0 83.2L688.7 82.2L690.3 81.0L692.6 80.3L694.1 82.2L692.7 84.5L692.6 84.6L691.9 86.8L692.6 88.3L693.8 89.1L694.9 90.1L695.5 89.1L694.9 86.8L697.2 85.1L698.9 86.8L698.8 89.1L699.5 90.3L701.8 91.4L699.5 92.1L697.2 92.5L694.9 92.5L693.7 93.7L692.6 94.8L691.2 93.7L690.3 92.2L690.1 93.7L690.3 94.2L691.9 96.0L691.9 98.3L691.7 100.6L691.4 102.9L691.4 105.2L690.6 107.5L692.6 108.1L694.9 109.7L695.0 109.8L694.9 111.0L694.8 112.1L693.8 114.4L692.8 116.7L692.6 116.9L690.3 118.3L688.2 119.0L688.7 121.3L688.0 121.9L687.2 123.6L687.1 125.9L686.8 128.2L685.7 128.3L683.4 129.9L683.1 130.5L683.3 132.8L682.7 135.1L683.3 137.4L682.7 139.7L683.0 142.0L681.9 144.3L681.1 145.6L680.1 146.6L681.1 147.3L683.4 147.8L685.7 146.6L686.7 148.9L685.7 149.6L683.4 149.7L682.3 151.2L681.1 152.8L678.8 152.0L676.5 151.6L675.8 151.2L674.2 151.0L674.1 151.2L674.2 151.6L675.7 153.5L675.3 155.8L674.2 157.0L673.0 158.1L671.9 160.1L670.0 158.1L671.1 155.8L670.4 153.5L669.6 153.2L669.2 153.5L668.1 155.8L667.3 156.6L666.7 158.1L665.0 160.1L662.7 159.0L661.7 160.4L662.7 162.6L665.0 160.8L667.3 162.7L665.0 164.5L662.7 162.8L661.9 165.0L660.4 166.1L658.2 165.0L660.3 162.7L658.1 161.9L657.0 162.7L657.8 165.0L656.9 167.3L655.8 169.3L654.3 167.3L653.5 167.0L653.4 167.3L652.8 169.6L651.2 170.8L650.0 169.6L648.9 168.3L646.6 168.5L646.3 169.6L644.4 171.9L646.3 174.2L644.4 176.5L644.3 176.6L642.1 178.8L642.6 181.1L642.0 182.0L641.0 181.1L641.8 178.8L640.0 176.5L640.5 174.2L639.7 173.8L639.3 174.2L638.7 176.5L637.4 178.8L636.1 176.5L635.1 175.6L634.1 176.5L635.1 178.8L636.6 178.8L637.3 181.1L635.1 182.2L632.9 183.4L632.8 183.9L632.1 183.4L631.3 181.1L632.8 178.8L630.5 176.6L629.3 178.8L628.2 181.1L626.6 178.8L625.9 176.6L625.0 178.8L625.3 181.1L623.6 182.5L621.3 182.5L620.3 183.4L621.3 185.6L623.6 184.5L625.9 184.6L628.2 185.0L628.3 185.7L628.2 186.2L625.9 187.3L624.8 188.0L623.6 189.1L622.8 188.0L621.3 185.8L620.2 188.0L620.9 190.3L619.0 191.0L618.3 190.3L617.4 188.0L616.7 185.8L616.0 188.0L614.4 189.6L613.6 190.3L612.1 191.8L610.1 192.6L610.9 194.9L609.8 196.1L608.9 197.2L608.4 199.5L607.5 199.6L606.3 201.8L605.2 203.3L602.9 202.5L600.6 201.8L602.9 200.6L603.6 199.5L602.9 198.5L600.6 198.5L599.9 199.5L600.6 201.8L598.4 204.1L599.4 206.4L598.3 208.5L596.0 206.6L594.8 208.7L593.7 210.9L592.5 208.7L591.4 207.6L589.4 208.7L590.2 211.0L589.1 213.3L588.4 211.0L586.8 209.8L585.1 208.7L586.8 207.4L587.8 206.4L589.1 204.7L591.4 205.1L592.0 204.1L591.4 203.5L589.1 203.7L588.8 204.1L586.8 205.8L586.3 206.4L584.5 208.4L584.0 208.7L582.2 211.0L580.6 213.3L579.9 214.3L578.6 215.6L577.6 216.3ZM605.2 65.7L604.3 63.8L605.2 63.2L605.8 63.8L605.2 65.7ZM628.2 64.4L627.3 63.8L628.2 61.8L628.8 63.8L628.2 64.4ZM660.4 72.1L658.6 70.7L658.1 69.7L655.8 69.5L655.3 68.4L655.8 67.9L658.1 67.2L659.2 66.1L659.5 63.8L660.4 63.7L662.7 62.7L664.9 63.8L664.3 66.1L664.3 68.4L662.7 70.1L662.3 70.7L660.4 72.1ZM715.6 64.7L715.0 63.8L715.6 63.3L716.1 63.8L715.6 64.7ZM621.3 66.7L620.7 66.1L621.3 65.2L622.2 66.1L621.3 66.7ZM669.6 70.5L668.9 68.4L668.6 66.1L669.6 65.1L670.3 66.1L670.6 68.4L669.6 70.5ZM720.2 66.7L719.7 66.1L720.2 65.3L720.7 66.1L720.2 66.7ZM609.8 71.4L607.5 73.0L606.8 70.7L607.5 68.5L607.6 68.4L609.8 67.7L611.9 68.4L609.9 70.7L609.8 71.4ZM616.7 69.1L615.7 68.4L616.7 67.5L618.7 68.4L616.7 69.1ZM632.8 69.5L631.7 68.4L632.8 66.2L634.0 68.4L632.8 69.5ZM642.4 70.7L642.7 68.4L642.0 67.3L641.4 68.4L641.8 70.7L642.0 71.5L642.4 70.7ZM699.5 72.7L698.4 70.7L699.5 69.6L700.1 70.7L699.5 72.7ZM706.4 71.6L705.8 70.7L706.4 70.1L707.3 70.7L706.4 71.6ZM600.6 73.7L598.3 74.1L596.9 73.0L598.3 71.9L600.6 71.0L602.7 73.0L600.6 73.7ZM616.7 74.7L614.4 73.7L614.3 73.0L614.4 72.9L616.7 71.6L618.5 73.0L616.7 74.7ZM647.7 75.3L646.6 73.5L644.3 74.6L642.0 74.4L641.6 75.3L642.0 76.2L644.3 77.5L646.6 76.3L647.7 75.3ZM706.4 77.3L705.8 75.3L706.4 74.3L707.3 75.3L706.4 77.3ZM617.3 86.8L619.0 85.2L620.0 84.5L621.3 82.4L623.6 83.0L625.7 82.2L625.9 81.7L626.1 79.9L625.9 79.4L624.1 79.9L623.6 80.1L621.3 81.5L619.0 81.6L618.4 82.2L618.3 84.5L616.7 86.2L614.4 85.0L613.7 86.8L614.4 87.7L616.7 87.4L617.3 86.8ZM654.0 79.9L653.5 79.5L651.7 79.9L653.5 80.4L654.0 79.9ZM589.1 83.2L587.1 82.2L589.1 81.6L590.2 82.2L589.1 83.2ZM637.8 82.2L637.4 82.0L637.0 82.2L637.4 82.4L637.8 82.2ZM661.0 82.2L660.4 81.3L658.9 82.2L660.4 82.7L661.0 82.2ZM724.8 82.7L724.3 82.2L724.8 81.7L725.3 82.2L724.8 82.7ZM601.6 84.5L600.6 83.4L598.3 83.3L597.2 84.5L598.3 86.7L600.6 86.3L601.6 84.5ZM642.5 84.5L642.0 83.3L641.9 84.5L642.0 84.7L642.5 84.5ZM672.0 84.5L671.9 84.3L671.8 84.5L671.9 84.8L672.0 84.5ZM729.4 86.4L728.8 84.5L729.4 83.9L730.0 84.5L729.4 86.4ZM586.8 93.0L584.5 93.6L582.2 93.7L580.9 91.4L582.2 90.0L584.4 89.1L582.2 86.8L584.5 85.4L585.8 86.8L586.1 89.1L586.8 89.1L588.3 91.4L586.8 93.0ZM610.8 89.1L609.8 88.4L608.0 86.8L607.5 86.5L607.0 86.8L607.5 87.6L608.9 89.1L609.8 90.9L610.8 89.1ZM650.7 89.1L648.9 89.0L648.8 89.1L648.9 89.7L650.7 89.1ZM662.9 91.4L665.0 89.5L665.7 89.1L665.0 88.8L664.3 89.1L662.7 90.9L662.5 91.4L662.7 91.5L662.9 91.4ZM649.9 93.7L648.9 92.6L646.6 93.2L644.8 91.4L644.3 89.8L642.6 91.4L644.3 92.3L645.7 93.7L646.6 94.6L648.9 95.6L649.9 93.7ZM701.8 94.7L701.1 93.7L701.8 91.4L704.1 93.7L701.8 94.7ZM706.4 94.3L704.1 93.7L706.4 92.7L707.3 93.7L706.4 94.3ZM603.7 96.0L602.9 94.2L602.2 96.0L602.9 96.3L603.7 96.0ZM612.5 96.0L612.1 95.1L611.2 96.0L612.1 96.4L612.5 96.0ZM566.1 101.7L564.7 100.6L566.1 99.5L567.5 100.6L566.1 101.7ZM596.9 100.6L596.0 98.9L594.1 100.6L596.0 101.1L596.9 100.6ZM697.2 101.2L696.2 100.6L697.2 99.7L698.1 100.6L697.2 101.2ZM556.9 103.5L556.0 102.9L556.9 102.3L557.7 102.9L556.9 103.5ZM601.5 102.9L600.6 101.9L599.6 102.9L600.6 103.9L601.5 102.9ZM684.4 107.5L685.7 105.3L688.0 105.9L688.7 105.2L688.0 104.2L686.6 102.9L685.7 101.0L685.5 102.9L683.4 105.0L683.1 105.2L682.5 107.5L683.4 109.2L684.4 107.5ZM568.4 107.5L566.9 105.2L568.4 103.7L570.6 105.2L568.4 107.5ZM699.5 106.7L697.7 105.2L699.5 103.4L701.0 105.2L699.5 106.7ZM589.3 107.5L589.1 106.8L588.7 107.5L589.1 107.7L589.3 107.5ZM556.9 116.7L554.6 115.9L553.1 114.4L554.6 112.1L555.9 109.8L556.9 109.2L557.9 109.8L557.0 112.1L557.6 114.4L556.9 116.7ZM563.8 111.2L561.7 109.8L563.8 108.7L565.3 109.8L563.8 111.2ZM595.2 109.8L593.7 108.6L593.5 109.8L593.7 110.1L595.2 109.8ZM691.2 112.1L690.3 111.2L688.8 109.8L688.0 109.3L687.8 109.8L688.0 110.3L689.7 112.1L690.3 112.7L691.2 112.1ZM536.2 113.1L534.3 112.1L536.2 111.5L536.8 112.1L536.2 113.1ZM699.5 115.8L698.5 114.4L699.5 113.4L700.5 114.4L699.5 115.8ZM529.3 117.3L528.7 116.7L529.3 114.8L530.2 116.7L529.3 117.3ZM571.3 119.0L571.7 116.7L570.7 114.9L570.0 116.7L568.4 118.3L567.7 119.0L568.4 120.6L570.7 119.5L571.3 119.0ZM683.7 116.7L683.4 116.0L681.7 116.7L683.4 117.2L683.7 116.7ZM556.9 119.8L554.7 119.0L556.9 116.7L559.2 119.0L556.9 119.8ZM694.9 120.4L693.4 119.0L694.9 117.6L695.9 119.0L694.9 120.4ZM580.4 121.3L579.9 121.1L579.7 121.3L579.9 121.5L580.4 121.3ZM531.6 124.5L531.1 123.6L531.6 123.1L532.2 123.6L531.6 124.5ZM547.7 125.1L546.3 123.6L547.7 121.3L549.2 123.6L547.7 125.1ZM683.8 125.9L683.4 125.3L681.5 123.6L681.1 123.4L680.9 123.6L681.1 124.2L682.6 125.9L683.4 126.4L683.8 125.9ZM706.4 126.5L705.4 125.9L706.4 124.9L707.3 125.9L706.4 126.5ZM545.4 128.9L544.4 128.2L545.4 127.2L547.7 128.2L545.4 128.9ZM690.3 129.2L688.3 128.2L690.3 127.2L690.9 128.2L690.3 129.2ZM531.6 133.8L530.9 132.8L529.3 131.2L528.6 130.5L529.3 128.5L531.6 129.8L532.6 130.5L532.3 132.8L531.6 133.8ZM536.2 136.1L535.2 135.1L535.5 132.8L536.2 131.8L538.4 132.8L538.4 135.1L536.2 136.1ZM553.2 132.8L552.3 131.8L551.8 132.8L552.3 133.4L553.2 132.8ZM566.3 132.8L566.1 132.4L563.8 132.6L563.0 132.8L563.8 134.3L566.1 133.0L566.3 132.8ZM694.9 133.5L692.6 133.5L690.3 132.8L692.6 132.1L694.9 131.8L696.8 132.8L694.9 133.5ZM544.1 135.1L543.1 134.4L540.8 135.1L543.1 137.3L544.1 135.1ZM688.0 139.1L685.7 138.9L684.1 137.4L685.0 135.1L685.7 134.1L686.4 135.1L688.0 136.0L689.7 137.4L688.0 139.1ZM529.3 138.0L528.8 137.4L529.3 136.9L530.2 137.4L529.3 138.0ZM550.3 137.4L550.0 137.1L549.5 137.4L550.0 137.7L550.3 137.4ZM561.9 137.4L561.5 137.1L560.8 137.4L561.5 137.6L561.9 137.4ZM692.6 140.6L690.5 139.7L692.6 139.1L693.2 139.7L692.6 140.6ZM531.6 142.6L530.6 142.0L531.6 141.0L532.6 142.0L531.6 142.6ZM524.7 144.9L523.8 144.3L524.7 143.4L525.6 144.3L524.7 144.9ZM685.7 146.6L684.6 144.3L685.7 142.1L686.8 144.3L685.7 146.6ZM536.2 148.7L534.2 146.6L536.2 145.9L537.2 146.6L536.2 148.7ZM548.2 151.2L547.7 150.8L547.2 151.2L547.7 151.5L548.2 151.2ZM531.6 154.5L531.0 153.5L531.6 152.6L532.5 153.5L531.6 154.5ZM683.4 154.5L682.3 153.5L683.4 152.8L685.3 153.5L683.4 154.5ZM557.0 155.8L556.9 154.5L556.4 155.8L556.9 155.9L557.0 155.8ZM681.1 156.4L679.1 155.8L681.1 154.7L682.1 155.8L681.1 156.4ZM531.6 159.1L530.6 158.1L531.6 157.1L532.3 158.1L531.6 159.1ZM536.2 158.7L535.6 158.1L536.2 157.5L537.2 158.1L536.2 158.7ZM527.0 161.3L526.1 160.4L527.0 159.5L527.6 160.4L527.0 161.3ZM533.9 162.5L532.4 160.4L533.9 159.3L535.0 160.4L533.9 162.5ZM674.2 165.0L673.9 165.0L672.8 162.7L672.9 160.4L674.2 160.1L676.5 159.3L677.6 160.4L676.5 161.5L675.6 162.7L674.4 165.0L674.2 165.0ZM546.0 167.3L545.6 165.0L545.4 164.5L545.0 165.0L544.7 167.3L545.4 169.0L546.0 167.3ZM529.3 168.4L528.2 167.3L529.3 166.3L531.4 167.3L529.3 168.4ZM635.5 167.3L635.1 167.2L634.7 167.3L635.1 169.0L635.5 167.3ZM667.3 168.4L665.0 168.4L663.9 167.3L665.0 165.7L667.3 165.8L668.8 167.3L667.3 168.4ZM527.0 171.0L525.6 169.6L527.0 168.1L528.5 169.6L527.0 171.0ZM536.2 170.6L534.8 169.6L536.2 168.5L537.6 169.6L536.2 170.6ZM561.7 169.6L561.5 169.3L561.1 169.6L561.5 170.2L561.7 169.6ZM628.3 169.6L628.2 169.5L628.0 169.6L628.2 169.7L628.3 169.6ZM531.6 172.5L530.6 171.9L531.6 171.3L532.5 171.9L531.6 172.5ZM633.5 171.9L632.8 169.9L631.6 171.9L632.8 172.9L633.5 171.9ZM648.9 172.8L648.3 171.9L648.9 171.3L649.5 171.9L648.9 172.8ZM683.4 172.4L682.9 171.9L683.4 171.4L683.9 171.9L683.4 172.4ZM694.9 172.4L694.3 171.9L694.9 171.4L695.7 171.9L694.9 172.4ZM529.3 175.5L528.0 174.2L529.3 172.5L530.6 174.2L529.3 175.5ZM655.8 176.3L654.8 174.2L655.8 173.5L658.0 174.2L655.8 176.3ZM533.9 178.2L532.6 176.5L533.9 175.2L536.2 176.5L533.9 178.2ZM545.7 176.5L545.4 176.3L544.6 176.5L545.4 178.7L545.7 176.5ZM665.0 177.0L664.1 176.5L665.0 175.9L665.6 176.5L665.0 177.0ZM552.9 178.8L552.3 177.5L551.9 178.8L552.3 179.7L552.9 178.8ZM531.6 181.8L530.9 181.1L531.6 179.0L533.7 181.1L531.6 181.8ZM529.3 184.3L528.4 183.4L529.3 182.8L529.9 183.4L529.3 184.3ZM557.7 183.4L556.9 182.6L555.6 183.4L556.9 184.3L557.7 183.4ZM617.7 183.4L616.7 182.8L615.1 183.4L616.7 185.6L617.7 183.4ZM533.9 187.8L532.0 185.7L533.9 184.7L534.9 185.7L533.9 187.8ZM608.3 188.0L607.5 186.7L606.8 188.0L607.5 189.8L608.3 188.0ZM552.5 192.6L552.7 190.3L552.3 189.9L550.5 190.3L550.4 192.6L552.3 193.1L552.5 192.6ZM625.9 195.9L624.9 194.9L625.9 192.9L626.5 194.9L625.9 195.9ZM553.2 197.2L552.3 196.6L551.5 197.2L552.3 197.8L553.2 197.2ZM623.6 197.8L623.0 197.2L623.6 196.3L624.5 197.2L623.6 197.8ZM517.8 200.0L517.3 199.5L517.8 199.0L518.3 199.5L517.8 200.0ZM619.0 204.0L616.7 201.8L619.0 201.1L620.0 201.8L619.0 204.0ZM533.9 204.7L532.1 204.1L533.9 203.5L534.5 204.1L533.9 204.7ZM559.5 204.1L559.2 203.8L558.7 204.1L559.2 204.9L559.5 204.1ZM573.3 204.1L573.0 203.9L571.6 204.1L573.0 204.8L573.3 204.1ZM580.2 204.1L579.9 203.9L579.7 204.1L579.9 204.2L580.2 204.1ZM536.2 208.7L535.5 206.4L536.2 205.8L537.1 206.4L536.2 208.7ZM566.3 206.4L566.1 206.0L565.6 206.4L566.1 207.1L566.3 206.4ZM573.9 208.7L573.0 207.9L572.2 208.7L573.0 209.2L573.9 208.7ZM578.1 211.0L578.2 208.7L577.6 208.2L576.7 208.7L577.3 211.0L577.6 211.4L578.1 211.0ZM602.9 211.6L602.3 211.0L602.4 208.7L602.9 208.6L605.2 207.7L605.8 208.7L605.2 209.7L603.9 211.0L602.9 211.6ZM536.2 212.9L535.2 211.0L536.2 208.7L536.8 211.0L536.2 212.9ZM545.4 213.9L544.4 213.3L544.9 211.0L545.4 211.0L547.7 209.9L548.8 211.0L547.7 212.1L546.0 213.3L545.4 213.9ZM552.3 213.2L551.6 211.0L552.3 209.9L553.5 211.0L552.3 213.2ZM540.8 217.0L539.8 215.6L540.1 213.3L540.8 212.6L541.9 213.3L541.9 215.6L540.8 217.0ZM554.6 217.0L552.3 216.7L550.2 215.6L552.3 213.4L554.6 214.1L555.7 215.6L554.6 217.0ZM596.0 216.6L595.3 215.6L596.0 214.6L596.9 215.6L596.0 216.6ZM547.7 218.9L545.8 217.9L547.7 216.9L549.8 217.9L547.7 218.9ZM559.2 220.2L558.1 217.9L559.2 216.4L560.7 217.9L559.2 220.2ZM568.4 220.9L566.5 220.2L568.3 217.9L568.4 217.6L570.7 217.3L571.7 217.9L570.7 218.9L569.5 220.2L568.4 220.9ZM593.7 218.9L592.7 217.9L593.7 216.8L595.1 217.9L593.7 218.9ZM575.3 223.6L573.9 222.5L575.3 220.3L576.7 222.5L575.3 223.6ZM589.1 223.1L588.5 222.5L589.1 221.9L591.1 222.5L589.1 223.1ZM538.5 225.4L537.6 224.8L538.5 223.9L539.1 224.8L538.5 225.4ZM568.4 225.4L567.9 224.8L568.4 224.3L568.9 224.8L568.4 225.4ZM598.3 225.4L597.7 224.8L598.3 222.9L599.2 224.8L598.3 225.4ZM554.6 229.1L554.0 227.1L554.6 226.1L555.5 227.1L554.6 229.1ZM566.1 228.0L565.5 227.1L566.1 226.5L566.7 227.1L566.1 228.0ZM575.3 230.4L573.9 229.4L575.3 228.0L576.7 229.4L575.3 230.4Z" fill="none" stroke="#404040" stroke-width="0.72" stroke-linejoin="round" stroke-linecap="round"/>
<path d="M639.7 71.0L639.1 70.7L639.7 70.3L639.9 70.7L639.7 71.0ZM635.1 76.3L634.3 75.3L634.4 73.0L635.1 71.8L636.0 73.0L635.8 75.3L635.1 76.3ZM683.4 73.7L683.2 73.0L683.4 71.5L683.9 73.0L683.4 73.7ZM623.6 78.4L622.4 77.6L623.6 76.1L624.8 77.6L623.6 78.4ZM628.2 80.9L627.5 79.9L628.2 78.9L629.8 79.9L628.2 80.9ZM642.0 80.5L641.3 79.9L642.0 79.2L642.9 79.9L642.0 80.5ZM665.0 80.4L664.6 79.9L665.0 79.1L665.5 79.9L665.0 80.4ZM669.6 87.9L667.3 87.3L665.5 86.8L667.3 85.7L668.0 84.5L669.0 82.2L669.6 81.6L670.2 82.2L670.2 84.5L670.1 86.8L669.6 87.9ZM683.4 83.2L681.1 83.2L680.1 82.2L681.1 81.7L683.4 81.6L683.9 82.2L683.4 83.2ZM625.9 84.8L625.3 84.5L625.9 84.3L626.3 84.5L625.9 84.8ZM639.7 85.4L637.7 84.5L639.7 83.3L640.5 84.5L639.7 85.4ZM646.6 90.3L646.0 89.1L645.7 86.8L645.6 84.5L646.6 83.6L647.5 84.5L648.9 86.1L649.8 86.8L648.9 87.3L647.2 89.1L646.6 90.3ZM655.8 86.1L655.4 84.5L655.8 83.6L657.5 84.5L655.8 86.1ZM665.0 86.5L664.0 84.5L665.0 83.4L666.5 84.5L665.0 86.5ZM575.3 202.9L573.0 202.3L572.4 201.8L573.0 200.3L573.5 199.5L575.3 197.9L576.1 197.2L575.3 196.9L573.1 197.2L573.0 197.4L570.7 199.4L570.6 199.5L568.4 201.0L566.1 200.7L563.8 199.5L561.5 198.1L559.2 198.9L557.9 197.2L559.2 196.2L559.9 194.9L559.5 192.6L559.2 190.5L559.1 190.3L557.0 188.0L559.2 187.1L561.2 188.0L561.5 188.1L561.6 188.0L562.4 185.7L563.8 184.1L564.1 183.4L563.8 182.7L561.5 182.9L560.3 181.1L559.2 179.3L558.4 178.8L557.2 176.5L559.2 175.2L560.8 176.5L561.5 177.5L563.1 176.5L561.8 174.2L563.3 171.9L563.6 169.6L563.8 169.3L564.7 169.6L565.2 171.9L566.1 172.2L566.4 171.9L568.4 170.2L569.9 171.9L570.7 172.6L571.4 171.9L570.9 169.6L570.9 167.3L570.7 166.7L569.0 165.0L568.4 164.6L568.0 165.0L568.4 165.1L570.5 167.3L568.4 169.2L566.1 169.1L565.1 167.3L565.0 165.0L563.8 163.3L563.4 162.7L563.8 161.9L566.1 161.8L566.6 160.4L568.0 158.1L568.4 157.3L569.7 155.8L568.4 154.5L566.1 153.9L565.6 155.8L563.8 156.4L562.7 155.8L562.7 153.5L562.9 151.2L563.8 149.5L565.4 151.2L566.1 153.4L566.9 151.2L566.1 150.6L564.3 148.9L563.8 148.5L561.5 147.1L561.4 146.6L561.5 145.9L561.8 144.3L563.8 143.1L565.5 142.0L563.9 139.7L566.1 138.9L566.8 137.4L566.1 135.7L565.8 135.1L566.1 134.9L568.1 132.8L568.4 132.1L570.6 130.5L568.6 128.2L570.7 126.8L571.8 128.2L573.0 130.3L575.3 129.2L575.6 130.5L577.6 130.8L577.9 130.5L577.9 128.2L579.9 126.6L581.0 125.9L582.2 124.8L584.0 123.6L583.9 121.3L582.2 120.1L580.5 119.0L582.2 118.1L584.5 118.4L585.1 119.0L586.8 119.8L589.1 120.8L591.4 119.6L591.8 119.0L593.7 117.4L594.8 116.7L596.0 115.6L598.3 114.8L600.3 116.7L598.3 118.5L597.2 119.0L598.3 119.2L598.7 119.0L600.6 116.9L602.1 116.7L601.1 114.4L601.6 112.1L600.7 109.8L602.9 108.7L604.7 109.8L605.2 110.2L607.5 110.7L607.8 109.8L607.5 109.3L605.2 109.2L604.3 107.5L605.2 106.4L606.8 105.2L607.5 104.7L608.1 105.2L609.8 105.8L611.0 105.2L610.6 102.9L612.1 101.3L613.2 100.6L614.4 99.3L614.8 98.3L614.4 96.8L614.1 96.0L614.4 95.4L616.7 94.7L619.0 95.3L619.8 96.0L619.0 96.8L618.6 98.3L618.4 100.6L619.0 100.8L619.1 100.6L620.8 98.3L621.3 97.9L622.1 96.0L621.6 93.7L623.6 91.6L625.9 92.0L626.9 91.4L628.2 90.6L630.5 90.4L632.6 91.4L630.5 92.6L630.1 93.7L630.5 95.8L632.8 95.0L633.6 93.7L633.0 91.4L635.1 90.8L637.4 90.3L639.7 91.3L639.7 91.4L641.0 93.7L640.3 96.0L642.0 97.6L643.8 96.0L644.3 95.6L644.7 96.0L645.7 98.3L646.6 98.8L648.6 100.6L648.9 100.9L651.2 101.0L651.6 100.6L653.5 98.4L653.6 98.3L654.0 96.0L655.0 93.7L655.8 92.8L657.6 93.7L658.1 94.4L660.4 95.7L660.9 93.7L662.7 92.9L663.9 93.7L665.0 94.8L666.1 93.7L667.3 92.3L668.2 91.4L669.6 89.7L671.9 90.5L672.3 89.1L673.0 86.8L673.4 84.5L674.2 83.5L675.1 84.5L676.5 85.8L678.8 85.2L680.2 86.8L678.8 88.2L676.5 87.9L675.6 89.1L676.5 89.8L678.8 89.8L681.1 90.4L682.1 91.4L681.1 92.1L679.7 93.7L680.2 96.0L681.1 97.1L683.4 97.4L684.4 98.3L683.4 99.4L681.7 100.6L683.4 101.8L684.1 102.9L683.4 103.6L681.1 104.0L680.3 105.2L679.7 107.5L679.5 109.8L678.8 111.9L678.3 112.1L677.7 114.4L677.2 116.7L678.3 119.0L678.8 120.0L680.6 121.3L679.1 123.6L678.8 124.3L678.2 125.9L678.8 127.1L681.1 127.7L681.7 128.2L681.5 130.5L681.1 131.3L678.8 132.3L678.2 132.8L678.4 135.1L678.8 135.6L679.9 137.4L678.8 138.8L677.9 139.7L677.7 142.0L676.9 144.3L676.5 145.2L676.0 144.3L674.2 143.4L672.9 144.3L673.3 146.6L674.2 148.3L676.5 148.1L676.9 148.9L676.5 149.2L674.2 149.2L672.5 151.2L671.9 152.0L669.6 151.3L667.3 153.2L666.4 153.5L665.0 154.1L663.8 155.8L662.7 156.9L661.0 155.8L660.4 155.3L659.9 155.8L659.5 158.1L658.1 159.4L656.4 158.1L655.8 157.3L655.6 158.1L653.5 159.9L651.2 160.1L650.4 160.4L648.9 160.7L646.6 161.6L644.3 162.2L642.0 162.4L641.4 162.7L639.7 164.1L638.6 165.0L637.4 166.3L635.1 165.8L633.6 165.0L632.8 164.7L630.5 165.0L630.5 165.1L631.5 167.3L631.1 169.6L630.5 170.4L629.9 169.6L628.2 167.7L627.8 167.3L625.9 166.4L624.4 167.3L623.7 169.6L623.6 169.8L621.3 171.5L620.7 171.9L621.3 174.1L623.6 173.4L623.9 174.2L623.6 174.5L621.3 174.2L619.0 175.6L617.3 174.2L616.7 173.1L615.8 174.2L615.5 176.5L614.4 177.9L612.1 178.7L610.3 176.5L609.8 176.3L609.6 176.5L609.1 178.8L607.5 180.5L607.0 181.1L605.2 182.6L603.2 183.4L604.0 185.7L602.9 186.6L601.1 188.0L600.6 188.5L598.5 188.0L599.0 185.7L598.3 184.2L597.4 185.7L596.0 187.6L595.9 188.0L596.0 188.7L597.8 190.3L596.7 192.6L596.0 193.6L594.5 192.6L593.7 190.9L592.9 190.3L591.4 190.1L590.7 190.3L589.1 190.9L587.8 192.6L588.0 194.9L586.8 196.7L584.5 196.4L582.8 197.2L582.2 197.9L579.9 199.1L579.5 199.5L577.6 201.4L576.6 201.8L575.3 202.9ZM602.9 87.5L602.7 86.8L602.9 86.5L603.3 86.8L602.9 87.5ZM642.0 87.0L641.8 86.8L642.0 86.7L642.2 86.8L642.0 87.0ZM660.4 90.5L659.6 89.1L659.4 86.8L660.4 86.2L660.9 86.8L661.2 89.1L660.4 90.5ZM688.0 89.0L687.7 86.8L688.0 86.4L689.3 86.8L688.0 89.0ZM685.7 89.6L685.3 89.1L685.7 88.8L687.9 89.1L685.7 89.6ZM607.5 92.1L606.8 91.4L607.5 91.1L607.8 91.4L607.5 92.1ZM619.0 92.8L616.7 92.4L614.4 92.4L613.6 91.4L614.4 90.6L616.7 90.1L619.0 90.1L620.7 91.4L619.0 92.8ZM688.0 95.0L687.0 93.7L687.4 91.4L688.0 89.2L688.4 91.4L688.6 93.7L688.0 95.0ZM639.0 96.0L637.8 93.7L637.4 93.4L637.2 93.7L636.5 96.0L637.4 97.2L639.0 96.0ZM674.4 98.3L675.1 96.0L674.2 95.8L674.0 96.0L673.8 98.3L674.2 98.8L674.4 98.3ZM602.9 99.1L602.1 98.3L602.9 98.1L603.7 98.3L602.9 99.1ZM612.1 99.4L611.2 98.3L612.1 97.9L613.2 98.3L612.1 99.4ZM662.8 98.3L662.7 98.2L660.4 96.1L658.1 96.3L657.9 98.3L658.1 99.0L660.4 99.9L662.7 98.5L662.8 98.3ZM635.2 102.9L635.9 100.6L635.1 99.8L634.7 100.6L635.0 102.9L635.1 103.0L635.2 102.9ZM640.4 100.6L639.7 100.2L639.1 100.6L639.7 101.9L640.4 100.6ZM593.7 105.8L593.2 105.2L593.7 104.7L594.4 105.2L593.7 105.8ZM591.4 111.2L589.5 109.8L591.4 108.0L592.0 109.8L591.4 111.2ZM685.7 110.0L685.5 109.8L685.7 109.6L685.8 109.8L685.7 110.0ZM598.3 113.9L597.3 112.1L598.3 110.5L599.7 112.1L598.3 113.9ZM589.1 118.1L588.1 116.7L589.1 115.4L590.1 116.7L589.1 118.1ZM577.6 121.1L576.2 119.0L577.6 117.3L579.4 119.0L577.6 121.1ZM556.9 123.8L556.7 123.6L556.9 123.5L557.1 123.6L556.9 123.8ZM579.9 123.9L579.6 123.6L579.9 123.4L580.2 123.6L579.9 123.9ZM566.1 126.7L565.4 125.9L566.1 125.5L566.5 125.9L566.1 126.7ZM577.6 127.7L575.9 125.9L577.6 124.8L578.8 125.9L577.6 127.7ZM559.2 131.8L558.2 130.5L559.2 129.9L560.0 130.5L559.2 131.8ZM563.8 131.0L563.1 130.5L563.8 129.6L564.7 130.5L563.8 131.0ZM547.7 133.0L547.1 132.8L547.7 132.6L548.1 132.8L547.7 133.0ZM561.5 140.1L561.0 139.7L561.5 139.5L563.6 139.7L561.5 140.1ZM612.2 139.7L612.1 139.6L612.0 139.7L612.1 139.8L612.2 139.7ZM554.6 142.4L552.3 142.2L552.0 142.0L552.3 141.2L554.6 141.2L555.3 142.0L554.6 142.4ZM573.3 148.9L573.0 148.5L572.7 148.9L573.0 149.3L573.3 148.9ZM552.3 153.8L552.0 153.5L552.3 153.2L553.7 153.5L552.3 153.8ZM559.2 157.0L558.1 155.8L559.2 154.2L561.1 155.8L559.2 157.0ZM556.9 158.7L556.6 158.1L556.9 157.9L557.1 158.1L556.9 158.7ZM665.0 158.2L664.9 158.1L665.0 158.0L665.1 158.1L665.0 158.2ZM543.1 161.3L542.7 160.4L543.1 159.1L544.0 160.4L543.1 161.3ZM547.7 165.3L547.6 165.0L547.7 164.8L547.9 165.0L547.7 165.3ZM559.2 167.9L557.0 167.3L559.2 165.5L560.0 167.3L559.2 167.9ZM651.2 168.6L650.1 167.3L651.2 166.3L652.1 167.3L651.2 168.6ZM547.7 169.8L547.5 169.6L547.7 169.3L547.9 169.6L547.7 169.8ZM554.6 170.3L553.6 169.6L554.6 167.3L556.0 169.6L554.6 170.3ZM628.2 173.1L627.5 171.9L628.2 171.4L628.9 171.9L628.2 173.1ZM545.4 174.7L544.7 174.2L545.4 173.5L547.4 174.2L545.4 174.7ZM552.3 174.5L551.8 174.2L552.3 172.6L552.7 174.2L552.3 174.5ZM556.9 175.1L556.6 174.2L556.9 173.8L557.1 174.2L556.9 175.1ZM554.6 176.9L554.3 176.5L554.6 176.1L555.6 176.5L554.6 176.9ZM642.0 176.6L641.9 176.5L642.0 176.3L642.1 176.5L642.0 176.6ZM568.7 178.8L568.4 177.6L567.8 178.8L568.4 179.5L568.7 178.8ZM616.7 179.3L616.1 178.8L616.7 178.4L617.6 178.8L616.7 179.3ZM621.3 179.5L619.9 178.8L621.3 178.2L622.0 178.8L621.3 179.5ZM547.7 181.4L547.5 181.1L547.7 180.8L548.1 181.1L547.7 181.4ZM612.1 184.0L609.8 184.1L607.5 183.8L607.0 183.4L607.5 182.7L609.0 181.1L609.8 180.3L612.1 180.5L612.2 181.1L612.4 183.4L612.1 184.0ZM554.6 188.0L552.4 185.7L554.6 184.7L555.9 185.7L555.1 188.0L554.6 188.0ZM605.2 191.6L602.9 190.3L605.2 188.4L606.5 190.3L605.2 191.6ZM556.9 193.5L554.6 193.5L553.9 192.6L554.6 191.0L556.9 192.1L557.7 192.6L556.9 193.5ZM589.1 199.1L587.1 197.2L589.1 195.8L591.0 197.2L589.1 199.1ZM593.7 198.2L592.0 197.2L593.7 195.9L594.9 197.2L593.7 198.2ZM556.9 199.9L556.4 199.5L556.9 198.9L557.8 199.5L556.9 199.9ZM584.5 200.5L583.2 199.5L584.5 198.4L586.7 199.5L584.5 200.5ZM568.4 207.2L568.1 206.4L568.4 204.8L569.9 206.4L568.4 207.2ZM579.9 207.3L579.0 206.4L579.9 205.9L580.6 206.4L579.9 207.3ZM584.5 206.5L584.3 206.4L584.5 206.2L584.6 206.4L584.5 206.5Z" fill="none" stroke="#404040" stroke-width="0.72" stroke-linejoin="round" stroke-linecap="round"/>
<path d="M566.1 195.7L565.4 194.9L563.8 193.9L562.6 192.6L563.8 191.1L565.0 190.3L566.1 189.0L567.3 188.0L568.4 187.0L568.9 185.7L569.2 183.4L570.7 181.6L572.3 181.1L573.0 180.9L574.9 178.8L575.3 177.8L576.2 176.5L577.6 174.9L579.9 174.6L580.3 174.2L581.2 171.9L582.2 171.0L584.3 169.6L584.5 169.4L586.2 167.3L586.8 166.5L588.3 165.0L589.1 164.5L591.4 164.7L592.3 162.7L593.6 160.4L593.7 160.4L596.0 159.4L598.2 158.1L598.3 158.1L600.1 155.8L600.6 154.8L602.9 154.0L605.2 153.6L605.6 153.5L607.5 153.0L609.6 151.2L609.8 151.0L611.8 151.2L612.1 151.2L612.2 151.2L614.4 150.3L616.7 150.1L618.1 148.9L619.0 147.9L621.3 147.1L623.6 146.7L623.7 146.6L625.9 144.8L626.8 144.3L628.2 142.6L629.5 142.0L630.5 141.6L632.8 141.2L635.1 140.7L637.4 140.4L639.0 139.7L639.7 139.1L642.0 138.2L644.3 138.0L645.1 137.4L646.6 136.0L648.9 135.1L651.2 133.6L652.0 132.8L652.6 130.5L653.5 129.6L655.0 128.2L654.8 125.9L655.8 125.1L656.5 123.6L656.6 121.3L656.6 119.0L658.1 116.8L658.3 116.7L660.0 114.4L660.4 113.8L661.1 112.1L662.7 110.0L663.0 109.8L665.0 108.3L667.3 108.1L669.6 109.0L670.5 109.8L671.9 112.0L672.0 112.1L672.5 114.4L672.7 116.7L673.4 119.0L674.1 121.3L674.1 123.6L674.2 124.0L675.3 125.9L675.3 128.2L675.3 130.5L674.4 132.8L674.2 134.7L674.1 135.1L673.0 137.4L672.5 139.7L671.9 141.7L671.4 142.0L670.0 144.3L669.6 144.8L667.3 145.9L666.9 146.6L665.1 148.9L665.0 149.0L662.7 150.5L661.5 151.2L660.4 152.1L658.1 153.3L657.9 153.5L655.8 154.3L653.5 154.1L651.2 155.2L648.9 155.8L648.7 155.8L646.6 156.6L644.3 157.2L643.0 158.1L642.0 159.4L639.7 159.2L638.4 160.4L637.4 161.0L635.2 160.4L635.1 160.4L632.8 159.6L631.4 160.4L630.5 161.3L628.2 162.3L626.3 162.7L625.9 162.9L623.6 163.5L621.3 163.6L619.4 165.0L619.0 165.3L617.1 167.3L616.7 167.9L614.4 169.0L613.1 169.6L612.1 170.4L609.8 171.4L608.9 171.9L607.5 172.6L605.2 173.8L604.0 174.2L602.9 175.0L602.2 176.5L601.0 178.8L600.6 179.3L598.3 179.9L596.3 181.1L596.0 181.4L593.7 181.9L591.4 183.0L590.8 183.4L589.1 184.9L586.8 185.7L584.5 187.0L582.2 187.8L581.8 188.0L580.3 190.3L579.9 190.5L577.6 192.0L575.3 192.4L575.0 192.6L573.0 194.3L570.7 193.7L568.4 194.7L567.7 194.9L566.1 195.7ZM642.0 121.9L641.4 121.3L642.0 121.1L642.2 121.3L642.0 121.9ZM630.5 135.3L630.2 135.1L630.5 133.6L630.8 135.1L630.5 135.3ZM607.5 139.9L607.4 139.7L607.5 139.5L607.8 139.7L607.5 139.9ZM584.5 142.0ZM600.6 151.3L600.6 151.2L600.6 151.1L600.7 151.2L600.6 151.3Z" fill="none" stroke="#404040" stroke-width="0.72" stroke-linejoin="round" stroke-linecap="round"/>
</g>
<g clip-path="url(#c3)">
<path d="M33 272 L212 272 L212 490 L33 490Z" fill="#f6f6f6"/>
<path d="M75 325C74.8 328.3 74.5 337.5 74 345C73.5 352.5 73 361.7 72 370C71 378.3 70.3 386.7 68 395C65.7 403.3 61.3 411.7 58 420C54.7 428.3 50.7 436.7 48 445C45.3 453.3 43 465.8 42 470" fill="none" stroke="#ececec" stroke-width="60" stroke-linejoin="round" stroke-linecap="round" filter="url(#b4)"/>
<path d="M39 492C39.2 490.3 39.5 485.3 40 482C40.5 478.7 41.2 475.3 42 472C42.8 468.7 43.5 465.3 44.5 462C45.5 458.7 46.6 455.2 48 452C49.4 448.8 51 445.6 53 442.5C55 439.4 57.3 436 60 433.5C62.7 431 65.5 429.2 69 427.5C72.5 425.8 76.6 424.8 80.8 423.5C85 422.2 89.7 420.5 94 419.5C98.3 418.5 103.1 418 106.5 417.5C109.9 417 110.1 417 114.2 416.5C118.3 416 125.2 415.5 131.3 414.5C137.4 413.5 145.4 411.7 150.7 410.5C156 409.3 159.8 408.3 163 407.5C166.2 406.7 168.8 405.8 170 405.5" fill="none" stroke="#e6e6e6" stroke-width="60" stroke-linejoin="round" stroke-linecap="round" filter="url(#b4)"/>
<path d="M75.6 318.8C76.7 318.7 77.3 319.9 78.3 320C79.3 320.1 80.6 319.2 81.8 319.7C83 320.2 83.7 322 85.2 323.2C86.7 324.4 89.4 325.8 91 327.1C92.6 328.4 93.9 329.1 94.9 331C95.9 332.9 96.5 335.8 96.8 338.7C97.1 341.6 97.1 345.2 96.8 348.4C96.5 351.6 95.5 354.8 94.9 358C94.3 361.2 93.3 364.5 93 367.7C92.7 370.9 92.7 374.2 93 377.4C93.3 380.6 94.8 384.7 94.9 387C95 389.3 93.3 389.5 93.5 391C93.7 392.5 94.8 394.6 96 396C97.2 397.4 98.6 398.4 101 399.7C103.4 400.9 107 403.3 110.4 403.5C113.9 403.7 118.2 401.8 121.7 401C125.2 400.2 128.1 399.5 131.3 399C134.5 398.5 137.8 398.3 141 398C144.2 397.7 147.5 396.9 150.7 397.1C153.9 397.3 157.2 398.7 160.4 399C163.6 399.3 167.1 398.8 170 399C172.9 399.2 175.7 399.5 177.8 400C179.9 400.5 182.3 400.8 182.6 401.9C182.9 403 181.1 404.4 179.7 406.8C178.2 409.2 176.2 413.2 173.9 416.4C171.7 419.6 168.8 423.2 166.2 426.1C163.6 429 161 431.2 158.4 433.8C155.8 436.4 152.6 439.3 150.7 441.6C148.8 443.9 148.4 446.4 146.8 447.4C145.2 448.4 143.6 447.1 141 447.4C138.4 447.7 134.2 449.2 131.3 449.3C128.5 449.4 126.8 448.4 123.9 448C121.1 447.6 117.4 447.1 114.2 447.1C111 447.1 107.8 447.4 104.6 448C101.4 448.6 97.8 449.6 94.9 450.9C92 452.2 89.8 454.4 87.2 455.8C84.6 457.2 82 458.3 79.4 459.6C76.8 460.9 74.3 462.2 71.7 463.5C69.1 464.8 65.9 465.8 64 467.4C62.1 469 61.7 471.3 60.1 473.2C58.5 475.1 55.6 476.2 54.3 479C53 481.8 52.7 487.2 52.3 490C51.9 492.8 54.7 495 52 496C49.3 497 38.6 497 35.9 496C33.2 495 36.1 492.8 35.9 490C35.7 487.2 35.1 482.8 34.9 479C34.7 475.2 34.7 471.6 34.9 467.4C35.1 463.2 35.6 458.3 35.9 453.8C36.2 449.3 36.5 444.5 36.9 440.3C37.3 436.1 37.8 432.2 38.5 428.7C39.2 425.1 40.2 422.4 41 419C41.8 415.6 42.8 411.3 43.5 408C44.2 404.7 44.1 401.8 45 399C45.9 396.2 48.6 393.3 49 391C49.4 388.7 47.3 387.3 47.5 385C47.7 382.7 49.8 379.9 50 377C50.2 374.1 48.5 370.8 49 367.6C49.5 364.4 52.5 361.2 53 358C53.5 354.8 52.1 351.3 52.3 348.4C52.5 345.5 53.7 342.9 54.3 340.6C54.9 338.3 55 336.2 56 334.8C57 333.4 59.3 333.5 60.5 332C61.7 330.5 61.9 327.7 63 326C64.1 324.3 65.5 322.9 67 322C68.5 321.1 70.3 321 71.7 320.5C73.1 320 74.5 318.9 75.6 318.8Z" fill="#e4e4e4" filter="url(#b2)"/>
<path d="M75 325C74.8 328.3 74.5 337.5 74 345C73.5 352.5 73 361.7 72 370C71 378.3 70.3 386.7 68 395C65.7 403.3 61.3 411.7 58 420C54.7 428.3 50.7 436.7 48 445C45.3 453.3 43 465.8 42 470" fill="none" stroke="#d8d8d8" stroke-width="28" stroke-linejoin="round" stroke-linecap="round" filter="url(#b4)"/>
<path d="M39 492C39.2 490.3 39.5 485.3 40 482C40.5 478.7 41.2 475.3 42 472C42.8 468.7 43.5 465.3 44.5 462C45.5 458.7 46.6 455.2 48 452C49.4 448.8 51 445.6 53 442.5C55 439.4 57.3 436 60 433.5C62.7 431 65.5 429.2 69 427.5C72.5 425.8 76.6 424.8 80.8 423.5C85 422.2 89.7 420.5 94 419.5C98.3 418.5 103.1 418 106.5 417.5C109.9 417 110.1 417 114.2 416.5C118.3 416 125.2 415.5 131.3 414.5C137.4 413.5 145.4 411.7 150.7 410.5C156 409.3 159.8 408.3 163 407.5C166.2 406.7 168.8 405.8 170 405.5" fill="none" stroke="#c8c8c8" stroke-width="32" stroke-linejoin="round" stroke-linecap="round" filter="url(#b4)"/>
<path d="M39 492C39.2 490.3 39.5 485.3 40 482C40.5 478.7 41.2 475.3 42 472C42.8 468.7 43.5 465.3 44.5 462C45.5 458.7 46.6 455.2 48 452C49.4 448.8 51 445.6 53 442.5C55 439.4 57.3 436 60 433.5C62.7 431 65.5 429.2 69 427.5C72.5 425.8 76.6 424.8 80.8 423.5C85 422.2 89.7 420.5 94 419.5C98.3 418.5 103.1 418 106.5 417.5C109.9 417 110.1 417 114.2 416.5C118.3 416 125.2 415.5 131.3 414.5C137.4 413.5 145.4 411.7 150.7 410.5C156 409.3 159.8 408.3 163 407.5C166.2 406.7 168.8 405.8 170 405.5" fill="none" stroke="#9c9c9c" stroke-width="15" stroke-linejoin="round" stroke-linecap="round" filter="url(#b2)"/>
<path d="M39 492C39.2 490.3 39.5 485.3 40 482C40.5 478.7 41.2 475.3 42 472C42.8 468.7 43.5 465.3 44.5 462C45.5 458.7 46.6 455.2 48 452C49.4 448.8 51 445.6 53 442.5C55 439.4 57.3 436 60 433.5C62.7 431 67.5 428.5 69 427.5" fill="none" stroke="#7e7e7e" stroke-width="9" stroke-linejoin="round" stroke-linecap="round" filter="url(#b1)"/>
<path d="M69 427.5C71 426.8 76.6 424.8 80.8 423.5C85 422.2 89.7 420.5 94 419.5C98.3 418.5 104.4 417.8 106.5 417.5" fill="none" stroke="#8c8c8c" stroke-width="7" stroke-linejoin="round" stroke-linecap="round" filter="url(#b2)"/>
<path d="M106.5 417.5C107.8 417.3 110.1 417 114.2 416.5C118.3 416 125.2 415.5 131.3 414.5C137.4 413.5 145.4 411.7 150.7 410.5C156 409.3 159.8 408.3 163 407.5C166.2 406.7 168.8 405.8 170 405.5" fill="none" stroke="#828282" stroke-width="8" stroke-linejoin="round" stroke-linecap="round" filter="url(#b2)"/>
<path d="M46.7 498.8L44.8 497.8L46.7 495.9L44.8 497.8L42.9 496.3L41.0 496.9L39.1 497.8L37.2 498.8L35.3 497.8L36.1 495.9L35.9 494.0L35.6 492.1L37.2 490.2L37.3 488.3L37.2 487.7L35.3 486.4L37.2 484.5L39.1 484.5L37.2 484.5L35.3 486.4L34.3 484.5L34.5 482.6L34.0 480.7L35.3 480.1L36.1 478.8L35.6 476.9L35.3 475.9L34.3 475.0L33.4 473.1L33.4 471.2L35.3 469.9L37.2 471.2L37.4 469.3L37.2 468.9L35.3 467.4L35.9 465.5L37.2 463.6L35.3 464.9L34.3 463.6L35.3 461.7L37.2 460.4L37.6 459.8L37.6 457.9L37.2 457.0L35.3 456.0L34.9 454.1L35.3 452.2L33.4 452.8L31.5 452.2L33.4 450.9L35.3 452.2L37.2 450.9L37.8 450.3L39.1 448.4L37.2 449.2L35.3 449.4L33.4 448.4L34.3 446.5L35.3 445.6L37.2 445.8L39.1 445.6L39.4 444.6L39.9 442.7L39.1 441.8L37.7 442.7L37.2 443.0L35.3 443.6L34.0 442.7L34.5 440.8L34.9 438.9L35.3 438.6L35.9 438.9L37.2 439.7L39.1 439.7L39.4 438.9L39.1 438.6L37.5 437.0L39.1 435.3L39.3 435.1L41.0 433.6L41.9 433.2L41.0 431.9L39.1 431.3L41.0 430.4L41.2 429.4L41.0 428.8L40.0 427.5L39.1 425.6L41.0 423.7L42.9 423.7L41.0 423.7L39.1 425.6L37.2 423.7L39.1 422.4L41.0 423.7L40.0 421.8L41.0 421.2L41.4 419.9L42.9 418.4L43.5 418.0L42.9 417.2L41.0 416.1L41.0 414.2L42.9 413.2L44.8 412.5L45.3 412.3L45.3 410.4L44.8 409.9L43.4 408.5L44.8 406.6L46.7 405.6L47.3 404.7L46.7 404.1L45.9 404.7L44.8 406.6L42.9 404.7L41.6 402.8L42.9 401.5L43.8 400.9L43.7 399.0L43.5 397.1L44.8 396.5L45.9 395.2L46.7 394.2L47.4 393.3L48.6 391.9L50.5 393.3L49.2 391.4L48.6 389.5L50.5 387.6L48.6 389.5L47.6 387.6L46.7 385.7L44.8 386.0L44.5 385.7L44.8 385.4L46.7 385.7L46.4 383.8L46.7 382.9L48.6 382.2L50.5 383.8L49.9 381.9L50.5 380.0L49.0 378.1L50.5 376.2L51.4 374.3L51.4 372.4L50.5 371.6L49.0 370.5L48.6 370.1L47.3 368.6L46.7 366.7L48.6 365.8L50.5 365.6L51.4 364.8L52.4 364.0L53.8 362.9L52.4 361.0L53.0 359.1L52.4 357.2L53.3 355.3L54.3 354.7L55.2 355.3L56.2 355.5L56.5 355.3L56.2 355.1L54.6 353.4L54.8 351.5L54.6 349.6L54.5 347.7L54.3 345.8L53.8 347.7L52.4 349.6L50.5 347.7L51.8 345.8L52.4 343.9L54.3 345.8L54.9 343.9L56.2 342.0L58.1 342.0L58.6 340.1L58.1 339.9L56.2 338.2L56.8 336.3L58.1 334.4L56.2 335.0L55.8 334.4L56.2 334.0L58.1 334.4L58.6 332.5L60.0 331.4L61.4 332.5L61.9 332.9L62.1 332.5L62.4 330.6L61.9 328.7L61.0 326.8L61.9 324.9L63.8 323.4L65.3 324.9L65.7 325.7L67.6 326.2L68.4 324.9L67.6 323.0L65.7 323.6L65.1 323.0L63.8 321.1L65.4 319.2L65.7 318.6L66.1 319.2L67.6 320.7L69.1 319.2L69.5 318.8L71.0 317.3L71.4 316.9L71.9 317.3L72.7 319.2L71.4 320.5L70.9 321.1L71.4 321.6L71.8 321.1L73.3 319.6L75.2 319.6L76.7 321.1L77.1 321.3L77.6 321.1L79.0 320.3L80.3 319.2L80.9 317.3L82.8 318.2L84.7 319.2L83.8 321.1L84.7 322.4L86.6 322.1L88.1 323.0L86.6 324.5L84.7 324.9L86.6 326.8L88.5 326.8L90.4 327.8L91.3 328.7L92.3 329.0L94.2 329.3L95.7 330.6L96.1 331.2L98.0 331.7L98.5 332.5L98.6 334.4L98.0 334.8L97.0 334.4L96.1 333.8L95.5 334.4L96.1 334.9L96.9 336.3L96.1 337.7L95.8 338.2L95.5 340.1L96.1 341.1L96.7 342.0L96.1 342.9L95.3 343.9L96.1 344.9L97.0 345.8L96.1 346.8L95.7 347.7L96.1 349.0L96.6 349.6L96.1 350.6L95.8 351.5L96.1 351.8L97.5 353.4L96.1 355.0L95.7 355.3L94.2 356.8L93.8 357.2L93.2 359.1L94.2 360.4L95.2 361.0L96.1 361.9L98.0 362.9L96.1 363.2L94.2 364.2L92.3 364.8L91.7 366.7L92.3 367.6L93.2 368.6L92.8 370.5L92.3 371.4L91.3 372.4L92.3 373.0L94.2 374.3L96.1 372.4L97.0 374.3L96.1 374.7L94.2 374.3L95.0 376.2L94.2 377.0L92.8 376.2L94.2 374.3L92.3 375.6L90.4 375.4L89.6 376.2L90.4 377.1L92.3 378.1L91.9 380.0L92.3 380.6L94.2 380.9L94.7 381.9L94.2 382.9L92.3 382.9L92.0 383.8L90.4 385.5L90.3 385.7L90.4 386.1L92.3 387.6L90.9 385.7L92.3 384.6L93.7 385.7L92.3 387.6L94.2 386.1L96.1 387.6L94.2 388.9L92.3 387.6L91.9 389.5L92.3 389.9L93.8 391.4L94.2 393.3L93.7 395.2L93.9 397.1L94.2 398.1L94.8 397.1L94.6 395.2L96.1 393.3L97.0 395.2L97.0 397.1L98.0 398.1L99.9 398.1L101.8 398.6L103.7 398.5L104.2 399.0L105.1 400.9L103.7 402.8L105.6 402.8L107.5 404.7L105.6 405.6L105.5 406.6L105.6 406.8L106.0 406.6L107.5 404.7L109.4 405.2L110.8 406.6L111.3 406.8L111.7 406.6L111.3 406.4L109.6 404.7L111.3 403.0L112.2 402.8L113.2 401.9L115.1 402.8L116.0 400.9L117.0 399.9L118.9 400.9L120.8 400.9L122.7 401.9L123.3 400.9L124.6 400.1L125.9 400.9L126.5 401.5L128.4 400.9L130.3 399.3L131.2 399.0L132.2 398.4L134.1 399.0L135.8 400.9L136.0 401.2L136.4 400.9L136.9 399.0L137.9 398.7L139.8 399.0L141.7 398.3L143.6 397.7L144.9 399.0L145.5 399.6L146.1 399.0L147.4 398.4L149.3 398.1L151.2 398.1L153.1 397.1L155.0 397.9L155.9 397.1L156.9 396.6L158.2 397.1L158.2 399.0L158.8 399.6L160.7 400.1L162.0 400.9L162.6 401.2L162.8 400.9L163.2 399.0L164.5 397.9L166.4 397.7L168.3 398.4L168.7 399.0L169.9 400.9L168.3 402.6L168.1 402.8L168.3 403.0L168.6 402.8L170.2 401.4L170.7 400.9L172.1 399.3L173.7 400.9L174.0 401.2L174.9 400.9L175.9 400.4L176.8 400.9L177.8 401.1L179.5 402.8L179.7 403.2L181.6 404.7L180.7 402.8L181.6 402.5L183.5 402.3L184.0 402.8L183.5 403.4L181.6 404.7L179.7 406.2L179.3 406.6L179.7 407.2L181.0 408.5L179.7 409.8L177.8 409.1L175.9 409.4L174.0 410.4L175.5 412.3L175.4 414.2L174.0 415.5L172.1 414.2L173.2 416.1L172.1 418.0L170.2 418.0L171.2 419.9L170.2 421.8L169.4 423.7L168.9 425.6L168.3 426.6L166.4 426.6L165.4 427.5L164.5 428.1L163.7 429.4L162.6 431.3L160.7 429.4L159.9 431.3L158.8 433.2L156.9 434.6L156.4 435.1L155.0 436.5L153.1 436.5L152.5 437.0L152.0 438.9L152.3 440.8L151.2 441.9L149.3 442.3L147.4 442.5L145.5 442.2L145.0 442.7L145.5 444.0L147.4 442.9L148.9 444.6L147.4 446.1L146.9 446.5L146.8 448.4L145.5 450.3L145.0 448.4L144.1 446.5L143.6 445.2L142.7 446.5L141.7 447.5L140.8 446.5L139.8 446.0L139.2 446.5L139.8 447.5L140.8 448.4L139.8 449.0L137.9 450.3L136.0 449.0L134.1 448.4L132.2 448.7L130.3 449.5L129.2 448.4L128.4 447.3L127.4 448.4L126.5 449.5L124.6 448.4L125.7 446.5L124.6 445.1L123.7 446.5L122.7 447.5L121.6 448.4L120.8 449.0L118.9 449.0L118.3 448.4L118.9 447.5L119.4 446.5L118.9 444.6L118.4 446.5L117.0 447.6L115.1 447.8L113.2 447.3L111.8 448.4L111.3 448.7L109.4 449.5L107.5 449.0L105.6 449.0L105.0 448.4L105.6 447.5L105.9 446.5L105.6 445.6L103.7 445.9L102.6 446.5L101.8 448.4L99.9 449.0L99.4 450.3L98.0 451.4L96.1 451.2L95.2 450.3L94.2 449.0L93.4 450.3L92.3 452.2L90.4 451.6L89.0 452.2L90.4 453.6L91.3 454.1L90.4 454.7L88.5 455.2L87.1 454.1L87.5 452.2L86.6 452.0L86.4 452.2L85.7 454.1L86.6 455.4L87.0 456.0L86.6 457.0L84.7 456.3L83.8 456.0L82.8 455.6L82.4 456.0L82.8 457.9L80.9 459.0L79.0 458.9L77.7 459.8L77.1 461.7L75.2 463.6L73.3 464.1L72.3 465.5L71.4 466.5L70.7 465.5L70.4 463.6L71.4 463.0L73.3 463.0L75.2 463.6L74.2 461.7L75.2 460.4L77.1 461.7L76.2 459.8L75.2 458.9L75.0 459.8L73.3 461.3L71.4 461.4L69.5 459.8L71.1 461.7L69.5 463.4L68.5 463.6L67.6 464.1L66.7 463.6L65.7 463.2L65.3 463.6L65.7 464.6L66.2 465.5L65.7 466.5L65.4 467.4L64.6 469.3L63.8 470.1L62.3 471.2L62.8 473.1L61.9 474.2L60.8 473.1L60.0 472.3L59.0 473.1L59.5 475.0L58.1 476.4L56.2 476.3L55.1 476.9L54.7 478.8L54.3 479.8L53.7 478.8L52.4 478.0L51.4 478.8L52.4 479.3L54.0 480.7L54.3 481.2L56.2 482.0L57.1 482.6L56.2 483.9L55.6 484.5L54.3 485.4L53.3 484.5L52.4 483.7L50.5 482.6L51.8 484.5L52.4 485.8L53.0 486.4L54.3 487.2L55.4 488.3L54.7 490.2L54.3 490.7L53.3 490.2L52.4 489.7L51.3 488.3L50.5 487.7L50.1 488.3L50.5 489.1L51.9 490.2L52.4 491.1L52.9 492.1L52.4 493.1L52.1 494.0L50.5 494.9L48.9 495.9L48.6 496.5L46.7 495.9L47.8 497.8L46.7 498.8ZM81.8 323.0L80.9 322.1L79.9 323.0L80.9 323.2L81.8 323.0ZM92.3 328.4L90.7 326.8L92.3 325.4L93.9 326.8L92.3 328.4ZM86.9 330.6L86.6 329.7L86.4 330.6L86.6 330.7L86.9 330.6ZM63.0 336.3L61.9 335.5L61.4 336.3L61.9 336.7L63.0 336.3ZM98.0 339.0L96.7 338.2L98.0 337.6L99.9 338.2L98.0 339.0ZM92.5 347.7L92.3 347.5L92.1 347.7L92.3 347.9L92.5 347.7ZM48.6 353.8L48.0 353.4L48.6 352.4L49.5 353.4L48.6 353.8ZM96.1 358.1L94.7 357.2L96.1 355.8L97.0 357.2L96.1 358.1ZM44.8 373.4L44.0 372.4L44.8 371.4L45.8 372.4L44.8 373.4ZM52.4 383.8L54.3 381.9L52.4 383.8L50.5 383.8L52.4 383.8ZM96.1 393.3L95.2 391.4L96.1 389.5L96.6 391.4L96.1 393.3ZM147.4 394.6L146.9 393.3L147.4 392.8L148.2 393.3L147.4 394.6ZM181.6 393.8L180.8 393.3L181.6 392.8L182.1 393.3L181.6 393.8ZM99.9 396.8L98.8 395.2L99.9 393.8L101.1 395.2L99.9 396.8ZM175.9 395.7L175.3 395.2L175.9 394.2L176.8 395.2L175.9 395.7ZM126.5 397.7L125.5 397.1L126.5 395.8L127.8 397.1L126.5 397.7ZM41.0 399.8L40.2 399.0L41.0 398.1L41.9 399.0L41.0 399.8ZM128.4 400.9L127.8 399.0L128.4 397.7L129.7 399.0L128.4 400.9ZM181.6 399.8L180.7 399.0L181.6 398.2L182.7 399.0L181.6 399.8ZM47.6 400.9L46.7 399.0L45.8 400.9L46.7 401.3L47.6 400.9ZM179.7 401.9L178.8 400.9L179.7 400.5L180.0 400.9L179.7 401.9ZM191.1 401.7L190.5 400.9L191.1 400.3L191.6 400.9L191.1 401.7ZM144.2 402.8L143.6 402.2L143.3 402.8L143.6 403.1L144.2 402.8ZM118.9 404.7L117.0 406.6L118.9 404.7ZM42.9 411.4L42.3 410.4L42.9 409.4L43.8 410.4L42.9 411.4ZM41.0 414.2L40.4 412.3L41.0 411.7L41.9 412.3L41.0 414.2ZM175.9 416.5L175.4 416.1L175.9 415.5L176.4 416.1L175.9 416.5ZM174.0 421.2L172.3 419.9L172.1 418.0L174.0 417.1L174.8 418.0L175.9 419.9L174.0 421.2ZM165.0 423.7L164.5 423.3L164.3 423.7L164.5 424.6L165.0 423.7ZM172.1 424.2L171.5 423.7L172.1 423.3L172.5 423.7L172.1 424.2ZM39.1 431.3L38.1 429.4L39.1 428.8L40.0 429.4L39.1 431.3ZM37.2 434.1L36.6 433.2L37.2 432.7L38.1 433.2L37.2 434.1ZM153.5 433.2L153.1 432.9L152.6 433.2L153.1 433.5L153.5 433.2ZM160.7 435.7L158.8 435.4L157.8 435.1L158.8 433.2L160.7 434.7L161.7 435.1L160.7 435.7ZM33.4 437.4L32.9 437.0L33.4 436.4L33.7 437.0L33.4 437.4ZM156.9 437.5L155.9 437.0L156.9 436.1L157.2 437.0L156.9 437.5ZM100.8 444.6L99.9 444.3L99.3 444.6L99.9 445.2L100.8 444.6ZM113.2 442.7L111.3 444.6L113.2 442.7ZM103.7 450.9L103.2 450.3L103.7 449.7L104.3 450.3L103.7 450.9ZM115.1 452.5L114.5 452.2L114.6 450.3L115.1 449.4L115.5 450.3L115.5 452.2L115.1 452.5ZM128.4 451.0L127.3 450.3L128.4 449.4L129.3 450.3L128.4 451.0ZM101.8 452.5L101.2 452.2L101.8 451.7L102.4 452.2L101.8 452.5ZM107.5 452.8L107.0 452.2L107.5 451.8L109.4 452.2L107.5 452.8ZM143.6 452.7L143.3 452.2L143.6 451.2L144.2 452.2L143.6 452.7ZM31.5 456.6L31.1 456.0L31.5 455.6L32.4 456.0L31.5 456.6ZM92.3 456.6L91.7 456.0L92.3 455.1L92.9 456.0L92.3 456.6ZM111.3 456.3L110.9 456.0L111.3 455.6L111.6 456.0L111.3 456.3ZM94.2 458.3L93.6 457.9L94.2 457.3L94.6 457.9L94.2 458.3ZM35.3 461.7L34.9 459.8L35.3 459.2L35.9 459.8L35.3 461.7ZM37.2 463.6L35.3 461.7L37.2 463.6ZM62.2 467.4L62.5 465.5L61.9 464.6L61.4 465.5L61.7 467.4L61.9 468.4L62.2 467.4ZM33.4 471.2L32.0 469.3L33.4 467.9L35.0 469.3L33.4 471.2ZM75.2 473.6L74.7 473.1L75.2 471.8L75.7 473.1L75.2 473.6ZM31.5 483.4L31.0 482.6L31.5 482.1L32.0 482.6L31.5 483.4ZM33.4 490.6L32.9 490.2L33.4 488.3L34.0 490.2L33.4 490.6ZM54.3 498.1L52.4 498.8L50.5 498.8L49.9 497.8L50.5 497.5L52.1 495.9L52.4 494.9L53.0 495.9L54.3 497.2L55.2 497.8L54.3 498.1ZM39.1 500.2L38.5 499.7L39.1 497.8L39.5 499.7L39.1 500.2Z" fill="none" stroke="#404040" stroke-width="0.72" stroke-linejoin="round" stroke-linecap="round"/>
</g>
<g clip-path="url(#c4)">
<path d="M283 272 L462 272 L462 490 L283 490Z" fill="#f8f8f8"/>
<path d="M298 500C298.3 495 299 480 300 470C301 460 303 445.7 304 440C305 434.3 305.1 439.3 306 436C306.9 432.7 308.1 426 309.6 420C311.1 414 313.1 406.7 315 400C316.9 393.3 318.2 386.7 321 380C323.8 373.3 328.2 366.7 332 360C335.8 353.3 340.7 345.8 344 340C347.3 334.2 349.7 328.8 352 325C354.3 321.2 354.7 321.5 358 317C361.3 312.5 369.7 301.2 372 298" fill="none" stroke="#ebebeb" stroke-width="72" stroke-linejoin="round" stroke-linecap="round" filter="url(#b4)"/>
<path d="M300 495C300.3 490 301.2 474.2 302 465C302.8 455.8 304.3 444.8 305 440C305.7 435.2 305.2 439.3 306 436C306.8 432.7 308.1 426 309.6 420C311.1 414 313.1 406.7 315 400C316.9 393.3 318.2 386.7 321 380C323.8 373.3 328.2 366.7 332 360C335.8 353.3 340.7 345.8 344 340C347.3 334.2 349.7 328.8 352 325C354.3 321.2 357 318.3 358 317" fill="none" stroke="#e0e0e0" stroke-width="40" stroke-linejoin="round" stroke-linecap="round" filter="url(#b4)"/>
<path d="M362.3 312.6C363.5 312.4 363.6 313 363.8 313.5C364 314 363.6 313.6 363.3 315.5C363.1 317.4 362.2 321.9 362.3 325.1C362.4 328.3 364.5 331.9 364.2 334.8C363.9 337.7 361.7 340 360.4 342.6C359.1 345.2 357.8 347.7 356.5 350.3C355.2 352.9 354.2 355.1 352.6 358C351 360.9 348.7 364.5 346.8 367.7C344.9 370.9 342.9 374.2 341 377.4C339.1 380.6 336.8 383.9 335.2 387C333.6 390.1 332.4 393.9 331.4 396C330.4 398.1 330.5 397.5 329.4 399.7C328.3 401.9 325.9 406.1 324.6 409.3C323.3 412.5 323 416.1 321.7 419C320.4 421.9 317.8 424.5 316.8 426.8C315.8 429.1 316.7 430.4 315.9 432.6C315.1 434.9 313 438.2 312 440.3C311 442.4 311.1 444.3 310.1 445.1C309.1 445.9 307.5 445.6 306.2 445.1C304.9 444.6 303.4 443.6 302.3 442.2C301.2 440.8 300.4 438.6 299.9 436.4C299.3 434.1 299.3 431.6 299 428.7C298.7 425.8 298.2 422.2 298.3 419C298.4 415.8 298.8 412.5 299.3 409.3C299.8 406.1 300.9 403.1 301.3 399.7C301.7 396.3 301.5 392.7 301.8 389C302.1 385.3 302.6 380.6 303.3 377.4C304 374.2 304.8 372.2 306.2 369.6C307.6 367 310.4 364.5 312 361.9C313.6 359.3 314.3 356.8 315.9 354.2C317.5 351.6 319.8 349 321.7 346.4C323.6 343.8 325.6 341.3 327.5 338.7C329.4 336.1 331.1 333.3 333.3 331C335.6 328.7 338.8 327.1 341 325.1C343.2 323.2 344.2 321.1 346.8 319.3C349.4 317.5 353.9 315.6 356.5 314.5C359.1 313.4 361.1 312.8 362.3 312.6Z" fill="#d0d0d0" filter="url(#b3)"/>
<path d="M362.3 312.6C363.5 312.4 363.6 313 363.8 313.5C364 314 363.6 313.6 363.3 315.5C363.1 317.4 362.2 321.9 362.3 325.1C362.4 328.3 364.5 331.9 364.2 334.8C363.9 337.7 361.7 340 360.4 342.6C359.1 345.2 357.8 347.7 356.5 350.3C355.2 352.9 354.2 355.1 352.6 358C351 360.9 348.7 364.5 346.8 367.7C344.9 370.9 342.9 374.2 341 377.4C339.1 380.6 336.8 383.9 335.2 387C333.6 390.1 332.4 393.9 331.4 396C330.4 398.1 330.5 397.5 329.4 399.7C328.3 401.9 325.9 406.1 324.6 409.3C323.3 412.5 323 416.1 321.7 419C320.4 421.9 317.8 424.5 316.8 426.8C315.8 429.1 316.7 430.4 315.9 432.6C315.1 434.9 313 438.2 312 440.3C311 442.4 311.1 444.3 310.1 445.1C309.1 445.9 307.5 445.6 306.2 445.1C304.9 444.6 303.4 443.6 302.3 442.2C301.2 440.8 300.4 438.6 299.9 436.4C299.3 434.1 299.3 431.6 299 428.7C298.7 425.8 298.2 422.2 298.3 419C298.4 415.8 298.8 412.5 299.3 409.3C299.8 406.1 300.9 403.1 301.3 399.7C301.7 396.3 301.5 392.7 301.8 389C302.1 385.3 302.6 380.6 303.3 377.4C304 374.2 304.8 372.2 306.2 369.6C307.6 367 310.4 364.5 312 361.9C313.6 359.3 314.3 356.8 315.9 354.2C317.5 351.6 319.8 349 321.7 346.4C323.6 343.8 325.6 341.3 327.5 338.7C329.4 336.1 331.1 333.3 333.3 331C335.6 328.7 338.8 327.1 341 325.1C343.2 323.2 344.2 321.1 346.8 319.3C349.4 317.5 353.9 315.6 356.5 314.5C359.1 313.4 361.1 312.8 362.3 312.6Z" fill="#b8b8b8" filter="url(#b1)"/>
<path d="M306 436C306.6 433.3 308.1 426 309.6 420C311.1 414 313.1 406.7 315 400C316.9 393.3 318.2 386.7 321 380C323.8 373.3 328.2 366.7 332 360C335.8 353.3 340.7 345.8 344 340C347.3 334.2 349.7 328.8 352 325C354.3 321.2 357 318.3 358 317" fill="none" stroke="#9e9e9e" stroke-width="20" stroke-linejoin="round" stroke-linecap="round" filter="url(#b3)"/>
<path d="M306 436C306.6 433.3 308.1 426 309.6 420C311.1 414 313.1 406.7 315 400C316.9 393.3 318.2 386.7 321 380C323.8 373.3 328.2 366.7 332 360C335.8 353.3 340.7 345.8 344 340C347.3 334.2 349.7 328.8 352 325C354.3 321.2 357 318.3 358 317" fill="none" stroke="#8c8c8c" stroke-width="11" stroke-linejoin="round" stroke-linecap="round" filter="url(#b3)"/>
<path d="M310.1 446.9L308.2 446.6L307.4 446.0L306.3 445.4L305.0 444.1L304.4 443.4L303.4 442.2L302.8 440.3L302.5 440.0L300.6 439.0L300.2 438.4L298.7 437.3L298.1 436.5L298.3 434.6L298.3 432.7L298.7 432.2L299.2 430.8L298.9 428.9L299.0 427.0L299.5 425.1L299.0 423.2L298.7 423.1L297.4 421.3L296.8 419.4L298.7 417.7L299.0 417.5L299.7 415.6L299.3 413.7L300.6 411.8L298.7 412.3L298.2 411.8L298.7 410.5L300.6 411.8L299.0 409.9L300.6 408.0L300.8 406.1L300.6 405.8L299.6 404.2L300.6 402.5L300.7 402.3L301.6 400.4L300.6 399.4L299.7 398.5L300.0 396.6L300.6 395.5L301.1 394.7L301.6 392.8L302.3 390.9L301.3 389.0L301.2 387.1L302.0 385.2L301.1 383.3L301.7 381.4L301.9 379.5L302.5 378.8L303.2 377.6L304.4 375.9L304.5 375.7L306.3 373.8L304.4 375.5L303.6 373.8L303.6 371.9L304.4 371.1L306.3 370.6L306.9 370.0L308.2 368.9L309.2 368.1L309.2 366.2L310.1 365.2L312.0 364.5L312.3 364.3L312.0 363.9L311.3 362.4L311.4 360.5L312.0 360.0L313.7 358.6L313.9 358.3L315.8 357.3L316.1 356.7L316.9 354.8L315.8 353.7L315.3 352.9L315.8 352.3L317.7 352.3L318.5 351.0L318.6 349.1L319.6 347.9L321.5 347.5L321.7 347.2L323.4 345.7L323.7 345.3L323.7 343.4L324.2 341.5L325.3 340.6L326.4 341.5L327.2 342.5L327.5 341.5L327.2 341.1L325.9 339.6L327.2 338.7L329.1 337.7L329.1 335.8L330.2 333.9L331.0 332.5L332.4 333.9L332.9 334.2L333.2 333.9L332.9 333.3L331.6 332.0L332.9 331.1L334.8 330.2L335.1 330.1L335.6 328.2L336.7 327.0L338.6 327.5L340.5 326.5L341.0 326.3L341.5 324.4L342.4 322.5L344.3 321.3L346.2 320.8L346.5 320.6L346.6 318.7L347.6 316.8L348.1 316.5L350.0 316.2L350.5 316.8L350.0 317.3L349.6 318.7L350.0 319.0L351.9 319.0L353.8 318.9L354.0 318.7L354.2 316.8L353.8 314.9L355.7 313.2L356.6 313.0L357.6 312.8L358.1 313.0L359.1 314.9L359.5 315.1L361.4 315.1L362.7 316.8L363.1 318.7L361.4 320.1L360.8 320.6L361.4 321.7L363.3 322.5L365.2 321.8L366.0 322.5L365.2 323.2L363.3 322.5L361.4 324.0L361.2 324.4L361.0 326.3L361.4 326.9L361.6 326.3L363.3 325.4L364.2 326.3L364.3 328.2L363.8 330.1L364.9 332.0L364.5 333.9L364.2 335.8L364.2 337.7L363.3 339.1L362.7 339.6L361.4 340.2L359.9 341.5L360.9 343.4L359.5 344.8L358.0 345.3L358.6 347.2L357.6 348.2L356.5 349.1L356.4 351.0L355.7 352.0L354.9 352.9L354.5 354.8L353.8 355.8L351.9 356.1L351.2 356.7L351.9 357.5L353.8 357.8L354.2 358.6L353.8 358.9L351.9 359.7L351.2 360.5L351.9 361.3L352.8 362.4L351.9 364.3L350.0 363.0L349.0 364.3L348.1 365.9L347.8 366.2L346.8 368.1L346.2 369.1L344.3 368.5L343.7 370.0L344.3 370.8L345.2 371.9L345.4 373.8L344.9 375.7L344.3 376.3L342.4 375.7L341.9 377.6L341.7 379.5L340.5 381.3L338.6 380.4L337.1 381.4L338.6 383.1L339.1 383.3L338.6 383.5L337.4 385.2L336.7 386.2L336.1 387.1L334.8 388.1L333.7 389.0L332.9 389.9L332.2 390.9L332.9 391.9L333.6 392.8L332.9 393.9L331.0 393.8L330.8 394.7L330.7 396.6L330.2 398.5L329.1 399.6L328.9 400.4L328.1 402.3L327.2 403.9L327.1 404.2L326.5 406.1L327.2 407.6L327.4 408.0L327.2 408.3L325.3 409.9L324.5 411.8L323.4 413.7L322.1 415.6L321.8 417.5L322.1 419.4L321.5 421.3L320.7 423.2L319.6 423.8L317.7 424.3L317.4 425.1L315.8 426.8L315.4 427.0L315.8 427.6L316.6 428.9L316.8 430.8L317.7 431.8L317.9 432.7L317.7 433.0L315.8 433.6L313.9 434.6L312.0 436.1L311.7 436.5L311.4 438.4L312.0 438.8L312.8 440.3L312.0 441.4L311.5 442.2L311.1 444.1L311.3 446.0L310.1 446.9ZM363.3 315.3L362.4 314.9L361.4 314.7L360.1 313.0L361.4 312.2L363.3 312.4L364.2 313.0L363.9 314.9L363.3 315.3ZM365.2 317.6L364.2 316.8L365.2 315.5L365.8 316.8L365.2 317.6ZM342.4 322.5L342.1 320.6L342.4 320.1L343.2 320.6L342.4 322.5ZM331.0 328.5L330.8 328.2L331.0 328.0L331.5 328.2L331.0 328.5ZM359.5 351.4L359.1 351.0L359.5 350.1L359.8 351.0L359.5 351.4ZM313.9 355.6L312.8 354.8L313.9 354.2L314.9 354.8L313.9 355.6ZM296.8 419.4L296.1 417.5L296.8 416.3L298.4 417.5L296.8 419.4ZM313.9 437.9L312.3 436.5L313.9 434.6L315.8 436.5L313.9 437.9ZM315.8 439.0L315.4 438.4L315.8 436.5L315.9 438.4L315.8 439.0ZM300.6 444.9L300.0 444.1L300.6 443.3L302.1 444.1L300.6 444.9Z" fill="none" stroke="#404040" stroke-width="0.72" stroke-linejoin="round" stroke-linecap="round"/>
</g>
<g clip-path="url(#c5)">
<path d="M532 272 L712 272 L712 490 L532 490Z" fill="#f9f9f9"/>
<path d="M541 330C541.6 326.7 541.6 323.6 543.6 320C545.6 316.4 549.8 312.2 553.3 308.7C556.8 305.2 561 301.7 564.9 299.1C568.8 296.5 572.3 294.6 576.5 293.3C580.7 292 585.5 291.6 590 291.3C594.5 291 599.4 291.6 603.6 291.3C607.8 291 611.3 290 615.2 289.4C619.1 288.8 623.3 287.6 626.8 287.5C630.3 287.4 633 288.1 636 289C639 289.9 642.3 291.7 645 293C647.7 294.3 649.8 295.3 652 297C654.2 298.7 656.3 300.8 658 303C659.7 305.2 661.5 307.8 662 310C662.5 312.2 662 313.8 661 316C660 318.2 658.2 320.3 656 323C653.8 325.7 650.7 329.2 648 332C645.3 334.8 643 337 640 340C637 343 633.3 346.3 630 350C626.7 353.7 623.3 357.3 620 362C616.7 366.7 613 372.5 610 378C607 383.5 604.3 389.3 602 395C599.7 400.7 598 405.8 596 412C594 418.2 592 425.3 590 432C588 438.7 586 445.7 584 452C582 458.3 579.8 462.7 578 470C576.2 477.3 579.7 491.7 573 496C566.3 500.3 543.4 500.1 538 496C532.6 491.9 539.4 476.6 540.5 471.5C541.6 466.4 543.7 467.9 544.8 465.1C545.9 462.3 546.9 458.1 546.9 454.5C546.9 450.9 545.9 447.4 544.8 443.8C543.7 440.2 541.6 436.7 540.5 433.2C539.4 429.7 539.1 426.2 538.4 422.6C537.7 419.1 536.3 415.4 536.3 411.9C536.3 408.3 537.7 404.9 538.4 401.3C539.1 397.8 539.8 394.2 540.5 390.6C541.2 387.1 542.5 385.1 542.6 380C542.7 374.9 541.4 366.7 541 360C540.6 353.3 540 345 540 340C540 335 540.4 333.3 541 330Z" fill="#ececec" filter="url(#b4)"/>
<path d="M612 372C615.2 365.7 620.3 357.7 625 352C629.7 346.3 635.5 342.3 640 338C644.5 333.7 648.7 329.3 652 326C655.3 322.7 658.3 316.5 660 318C661.7 319.5 662.5 328 662 335C661.5 342 659 351.7 657 360C655 368.3 652.5 376.7 650 385C647.5 393.3 645 401.7 642 410C639 418.3 635.7 427 632 435C628.3 443 624.3 450.8 620 458C615.7 465.2 610 472.3 606 478C602 483.7 600.3 489.7 596 492C591.7 494.3 581.7 496.5 580 492C578.3 487.5 583.7 474.5 586 465C588.3 455.5 591.7 444.2 594 435C596.3 425.8 598 417.5 600 410C602 402.5 604 396.3 606 390C608 383.7 608.8 378.3 612 372Z" fill="#f0f0f0" filter="url(#b4)"/>
<path d="M541 330C541.6 326.7 541.6 323.6 543.6 320C545.6 316.4 549.8 312.2 553.3 308.7C556.8 305.2 561 301.7 564.9 299.1C568.8 296.5 572.3 294.6 576.5 293.3C580.7 292 585.5 291.6 590 291.3C594.5 291 599.4 291.6 603.6 291.3C607.8 291 611.3 290 615.2 289.4C619.1 288.8 623.3 287.6 626.8 287.5C630.3 287.4 633 288.1 636 289C639 289.9 642.3 291.7 645 293C647.7 294.3 649.8 295.3 652 297C654.2 298.7 656.3 300.8 658 303C659.7 305.2 661.5 307.8 662 310C662.5 312.2 662 313.8 661 316C660 318.2 658.2 320.3 656 323C653.8 325.7 650.7 329.2 648 332C645.3 334.8 643 337 640 340C637 343 633.3 346.3 630 350C626.7 353.7 623.3 357.3 620 362C616.7 366.7 613 372.5 610 378C607 383.5 604.3 389.3 602 395C599.7 400.7 598 405.8 596 412C594 418.2 592 425.3 590 432C588 438.7 586 445.7 584 452C582 458.3 579.8 462.7 578 470C576.2 477.3 579.7 491.7 573 496C566.3 500.3 543.4 500.1 538 496C532.6 491.9 539.4 476.6 540.5 471.5C541.6 466.4 543.7 467.9 544.8 465.1C545.9 462.3 546.9 458.1 546.9 454.5C546.9 450.9 545.9 447.4 544.8 443.8C543.7 440.2 541.6 436.7 540.5 433.2C539.4 429.7 539.1 426.2 538.4 422.6C537.7 419.1 536.3 415.4 536.3 411.9C536.3 408.3 537.7 404.9 538.4 401.3C539.1 397.8 539.8 394.2 540.5 390.6C541.2 387.1 542.5 385.1 542.6 380C542.7 374.9 541.4 366.7 541 360C540.6 353.3 540 345 540 340C540 335 540.4 333.3 541 330Z" fill="#e4e4e4" filter="url(#b2)"/>
<path d="M571 405C571.5 402.5 572.5 395.8 574 390C575.5 384.2 577.3 376.3 580 370C582.7 363.7 586.2 357.2 590 352C593.8 346.8 598.3 342.7 603 339C607.7 335.3 613.2 332.5 618 330C622.8 327.5 628.3 325.7 632 324C635.7 322.3 638.7 320.7 640 320" fill="none" stroke="#cccccc" stroke-width="40" stroke-linejoin="round" stroke-linecap="round" filter="url(#b4)"/>
<path d="M642.3 318.4C641.3 318.1 637.9 318.8 635.5 319.3C633.1 319.8 630.4 320.5 627.8 321.3C625.2 322.1 622.9 323.2 620 324.2C617.1 325.2 613.6 326 610.4 327.1C607.2 328.2 603.6 329.4 600.7 331C597.8 332.6 595.2 334.6 592.9 336.8C590.6 339.1 589 342.2 587.1 344.5C585.2 346.8 582.9 348.1 581.3 350.3C579.7 352.6 578.8 355.4 577.5 358C576.2 360.6 574.9 362.9 573.6 365.8C572.3 368.7 571 372.2 569.7 375.4C568.4 378.6 566.9 382.2 565.9 385.1C564.9 388 564.2 390.8 563.9 392.8C563.6 394.8 563.2 394.9 563.9 397C564.6 399.1 567.1 402.7 568.2 405.5C569.3 408.3 569.6 412.9 570.3 414C571 415.1 570.6 414 572.4 411.9C574.2 409.8 578.8 404.9 580.9 401.3C583 397.8 583.5 394.9 585.2 390.6C586.9 386.3 589.1 379.5 591 375.4C592.9 371.3 594.5 369 596.8 365.8C599.1 362.6 602 359 604.6 356.1C607.2 353.2 609.7 351 612.3 348.4C614.9 345.8 617.4 343.2 620 340.6C622.6 338 625.2 335.1 627.8 332.9C630.4 330.6 633.2 329 635.5 327.1C637.8 325.2 640.2 322.8 641.3 321.3C642.4 319.9 643.3 318.7 642.3 318.4Z" fill="#939393" filter="url(#b05)"/>
<path d="M571 405C571.5 402.5 572.5 395.8 574 390C575.5 384.2 577.3 376.3 580 370C582.7 363.7 586.2 357.2 590 352C593.8 346.8 598.3 342.7 603 339C607.7 335.3 613.2 332.5 618 330C622.8 327.5 628.3 325.7 632 324C635.7 322.3 638.7 320.7 640 320" fill="none" stroke="#7e7e7e" stroke-width="8" stroke-linejoin="round" stroke-linecap="round" filter="url(#b2)"/>
<path d="M598.3 271.8L597.8 271.3L598.3 270.8L598.8 271.3L598.3 271.8ZM662.7 272.1L662.2 271.3L662.7 270.8L663.2 271.3L662.7 272.1ZM642.0 274.6L641.0 273.6L642.0 272.6L643.4 273.6L642.0 274.6ZM632.8 276.6L630.8 275.9L632.8 273.8L633.5 275.9L632.8 276.6ZM605.2 280.2L604.3 278.2L605.2 277.3L606.2 278.2L605.2 280.2ZM612.1 279.1L610.0 278.2L612.1 277.5L613.1 278.2L612.1 279.1ZM570.7 282.5L569.7 280.5L570.7 279.8L571.6 280.5L570.7 282.5ZM596.0 281.3L595.5 280.5L596.0 280.0L596.5 280.5L596.0 281.3ZM625.9 281.6L624.5 280.5L625.9 279.0L627.4 280.5L625.9 281.6ZM632.8 281.4L632.2 280.5L632.8 279.9L633.7 280.5L632.8 281.4ZM665.0 281.0L664.5 280.5L665.0 280.0L665.5 280.5L665.0 281.0ZM573.0 286.1L572.4 285.1L573.0 284.5L574.0 285.1L573.0 286.1ZM570.7 501.8L570.6 501.3L568.4 501.3L566.1 499.0L568.4 497.8L569.9 496.7L570.7 495.5L571.7 494.4L571.5 492.1L570.7 491.1L569.7 492.1L570.2 494.4L568.4 495.8L567.0 494.4L566.1 493.6L564.6 494.4L563.8 495.1L561.5 496.5L560.2 494.4L559.2 492.4L557.4 492.1L556.9 491.0L554.6 490.0L553.5 492.1L554.6 494.4L556.9 492.2L558.0 494.4L556.9 495.5L554.6 494.5L553.9 496.7L554.5 499.0L553.4 501.3L552.3 502.3L551.6 501.3L551.6 499.0L550.8 496.7L550.0 496.6L548.7 494.4L547.7 493.8L545.4 493.7L543.1 493.3L542.3 492.1L541.5 489.8L540.8 487.5L541.3 485.2L540.8 484.2L539.7 482.9L540.8 481.7L541.8 480.6L543.1 478.3L540.8 477.5L539.7 476.0L539.2 473.7L538.8 471.4L539.6 469.1L540.8 466.8L542.1 469.1L543.1 469.7L545.4 470.1L547.5 469.1L545.4 468.0L543.1 468.1L540.8 466.8L541.9 464.5L543.1 463.7L545.4 463.0L547.7 462.2L549.5 459.9L547.7 459.4L546.3 457.6L546.1 455.3L545.4 453.1L543.1 453.5L542.8 453.0L542.5 450.7L543.1 450.0L544.2 450.7L545.4 453.0L547.5 450.7L545.4 450.2L544.0 448.4L544.3 446.1L545.4 445.0L547.0 446.1L547.7 446.6L549.5 448.4L547.9 450.7L550.0 452.9L551.0 450.7L550.9 448.4L551.1 446.1L551.1 443.8L552.3 442.5L553.2 441.5L552.3 441.0L551.2 441.5L550.0 442.6L548.5 441.5L547.7 440.4L546.6 439.2L545.4 437.1L543.1 438.0L541.9 436.9L540.8 435.4L538.5 434.6L540.8 432.4L541.5 432.3L542.8 430.0L540.8 428.0L540.6 427.7L540.1 425.4L540.8 424.2L543.1 425.1L543.5 425.4L545.4 425.8L547.7 426.0L547.9 425.4L547.7 425.2L545.4 424.8L543.7 423.1L543.1 422.6L541.3 420.8L541.6 418.5L543.1 416.3L545.4 416.5L545.7 416.2L545.4 414.7L544.7 413.9L543.1 413.3L542.1 413.9L540.8 414.7L538.5 415.0L536.2 414.1L534.0 413.9L533.9 413.9L531.6 413.0L529.3 413.1L528.2 411.6L529.3 409.4L531.5 409.3L531.6 409.1L531.7 407.0L531.6 405.8L529.3 405.4L527.6 407.0L527.0 407.6L526.4 407.0L526.8 404.7L527.0 404.6L529.3 404.1L531.6 404.6L533.9 404.0L536.2 403.6L537.4 404.7L536.2 405.5L534.7 407.0L536.2 408.5L537.4 409.3L537.0 411.6L538.5 412.7L539.4 411.6L540.8 409.8L541.9 409.3L543.1 408.0L545.1 407.0L543.1 406.7L541.4 404.7L540.8 403.9L538.5 403.7L537.3 402.4L538.5 401.1L539.0 400.1L540.8 398.3L541.7 397.8L540.8 397.2L538.5 396.7L536.6 397.8L537.8 400.1L536.2 401.6L535.1 400.1L533.9 398.4L533.3 397.8L533.9 396.7L534.4 395.5L535.0 393.2L536.2 391.0L538.5 393.1L540.7 390.9L540.1 388.6L540.4 386.3L539.6 384.0L540.8 382.8L541.5 381.7L543.1 380.6L544.3 381.7L545.4 382.5L545.9 381.7L545.5 379.4L547.4 377.1L545.4 376.1L543.8 377.1L543.1 377.8L542.4 377.1L541.7 374.8L542.3 372.5L543.1 371.7L545.2 370.2L543.1 368.0L540.8 369.6L538.5 368.6L537.8 367.9L536.2 366.3L535.2 365.6L536.2 364.6L538.5 364.8L538.6 365.6L540.8 366.1L541.4 365.6L540.8 363.3L543.1 362.4L544.6 361.0L543.1 359.9L540.8 359.6L538.5 359.7L537.9 358.7L538.5 357.6L540.8 358.5L541.8 356.4L542.9 354.1L540.8 353.0L538.5 351.8L539.6 349.5L539.7 347.2L540.8 346.0L543.1 345.0L545.4 346.3L546.2 344.9L545.4 343.8L543.1 344.8L540.8 343.9L538.5 343.7L536.4 342.6L538.5 340.3L540.5 338.0L538.6 335.7L540.8 334.2L542.0 335.7L543.1 336.5L544.1 335.7L545.0 333.4L545.4 332.9L546.4 331.1L547.7 330.2L548.3 328.8L548.4 326.5L550.0 325.3L551.8 326.5L552.3 327.9L552.5 326.5L552.3 325.7L551.4 324.2L550.0 322.0L549.8 321.9L547.7 321.1L545.5 321.9L545.5 324.2L547.0 326.5L546.2 328.8L545.4 330.0L543.1 331.1L540.8 332.3L539.7 331.1L539.7 328.8L540.6 326.5L540.8 324.7L541.1 324.2L540.8 324.1L540.1 321.9L540.8 320.8L543.1 320.7L545.3 319.6L543.1 318.1L540.8 318.5L538.5 319.5L536.4 317.3L538.5 315.7L539.6 315.0L540.8 314.2L543.1 312.8L545.4 314.9L547.0 312.7L547.7 311.7L550.0 312.3L550.0 312.7L552.3 313.2L554.6 313.3L554.9 312.7L554.6 310.9L552.3 312.0L550.0 310.4L551.5 308.1L551.6 305.8L552.3 305.1L554.6 305.6L556.9 304.9L558.4 303.5L557.7 301.2L558.1 298.9L559.2 298.2L559.9 298.9L561.5 300.4L563.8 300.0L566.1 300.2L568.4 300.9L570.5 298.9L570.7 298.8L573.0 297.4L575.3 297.3L577.6 297.1L579.9 298.3L580.6 296.6L582.2 295.4L584.5 294.4L586.8 294.8L589.1 294.8L590.1 294.3L591.4 293.5L592.9 292.0L592.9 289.7L593.7 288.6L596.0 287.5L596.5 287.4L597.2 285.1L598.3 284.0L599.8 285.1L600.6 285.8L601.8 287.4L602.9 289.6L604.5 287.4L604.1 285.1L605.2 284.0L607.5 284.0L609.0 285.1L607.5 286.6L606.4 287.4L606.7 289.7L606.4 292.0L607.5 292.6L608.5 292.0L607.6 289.7L609.8 288.6L610.9 289.7L611.0 292.0L612.1 292.5L614.4 294.2L614.5 294.3L616.7 295.4L618.0 296.6L619.0 297.5L619.4 296.6L619.0 294.3L621.1 292.0L621.3 291.8L623.6 290.9L625.8 292.0L623.6 293.2L623.1 294.3L623.6 294.9L625.9 294.8L627.9 294.3L626.7 292.0L627.1 289.7L628.2 287.5L629.3 289.7L630.5 290.8L632.8 291.7L633.2 289.7L633.7 287.4L635.1 287.2L637.4 287.3L637.5 287.4L639.7 288.8L642.0 287.4L641.0 285.1L642.0 284.1L643.1 285.1L642.5 287.4L643.5 289.7L643.1 292.0L642.0 293.6L640.3 292.0L639.7 291.2L639.2 292.0L639.7 292.6L641.3 294.3L642.0 296.3L644.3 295.5L646.6 296.6L645.5 298.9L644.3 300.2L643.7 301.2L644.3 302.1L645.2 303.5L646.6 304.1L648.6 303.5L646.6 302.0L645.4 301.2L646.6 300.1L648.9 299.7L651.2 299.9L653.5 298.9L655.1 301.2L655.8 302.3L658.1 301.9L660.4 302.4L662.7 302.9L663.4 303.5L662.7 304.2L661.3 305.8L662.7 308.1L662.7 308.6L663.0 310.4L664.5 312.7L665.0 313.4L666.1 315.0L665.0 316.1L662.7 316.3L660.4 317.3L659.6 319.6L658.1 320.7L656.6 319.6L655.8 318.5L653.5 319.0L651.2 319.1L650.4 319.6L651.2 320.6L653.5 320.7L653.6 321.9L654.9 324.2L653.5 326.0L652.4 326.5L651.2 327.8L650.5 328.8L648.9 330.5L646.9 331.1L648.9 331.4L649.8 331.1L651.2 329.9L653.5 330.1L655.8 329.7L657.3 328.8L658.1 326.5L660.4 327.7L661.1 328.8L660.4 329.9L659.7 331.1L660.4 332.2L661.5 333.4L660.4 335.6L658.1 334.7L655.8 335.2L654.0 333.4L653.5 331.5L651.9 333.4L653.5 333.6L655.6 335.7L655.8 336.5L658.1 336.4L659.6 338.0L658.1 339.7L657.0 340.3L655.8 341.0L655.1 340.3L653.5 338.9L652.8 340.3L652.9 342.6L651.3 344.9L651.6 347.2L653.5 349.4L655.8 348.4L658.1 348.2L659.8 349.5L658.1 351.2L655.8 350.3L653.5 349.6L652.7 351.8L651.2 353.4L648.9 353.6L648.3 354.1L648.9 355.1L651.2 355.2L653.1 356.4L652.6 358.7L651.2 360.5L649.8 358.7L648.9 357.2L647.3 358.7L646.6 359.4L645.4 358.7L644.3 357.0L643.7 358.7L644.3 359.8L645.0 361.0L646.6 361.9L648.9 361.8L651.2 362.1L653.5 361.2L655.8 363.3L657.3 365.6L657.0 367.9L656.3 370.2L655.8 370.6L653.9 372.5L654.2 374.8L653.5 375.5L651.2 376.4L649.7 374.8L651.2 373.7L653.3 372.5L651.2 371.4L649.7 370.2L650.5 367.9L651.2 367.1L653.4 365.6L651.2 364.1L648.9 364.8L646.8 365.6L646.6 365.8L644.3 367.1L642.6 365.6L642.0 363.3L641.6 365.6L642.0 366.2L643.6 367.9L642.9 370.2L644.3 372.2L646.6 371.1L647.7 372.5L646.9 374.8L646.6 375.0L644.3 376.6L642.3 377.1L644.1 379.4L644.3 380.2L646.6 381.7L648.8 379.4L648.9 378.5L651.2 377.5L653.5 379.4L653.6 379.4L653.5 379.9L651.2 381.0L648.9 381.7L651.1 384.0L648.9 385.6L646.8 386.3L646.6 387.5L644.3 387.2L642.2 388.6L644.3 390.1L646.6 390.2L646.6 390.9L648.9 393.2L646.6 394.7L645.8 395.5L645.5 397.8L646.0 400.1L645.8 402.4L644.4 404.7L644.3 405.4L642.0 405.9L639.7 407.0L640.8 409.3L642.0 411.4L642.2 411.6L643.1 413.9L642.2 416.2L644.3 418.5L642.0 420.1L639.7 420.8L637.4 418.9L636.3 420.8L635.1 423.1L634.3 420.8L632.8 419.7L631.4 420.8L631.7 423.1L630.5 424.7L628.6 425.4L630.5 427.7L628.2 428.4L627.1 430.0L627.5 432.3L628.2 432.8L630.0 434.6L628.2 436.0L625.9 436.5L625.8 436.9L623.6 437.8L622.5 439.2L621.3 440.9L620.7 441.5L621.3 443.6L621.4 443.8L623.6 444.8L625.4 443.8L623.6 443.1L621.9 441.5L623.6 440.3L625.8 439.2L625.9 438.0L626.5 439.2L628.2 440.2L628.4 441.5L629.6 443.8L628.2 445.5L626.0 446.1L626.7 448.4L627.7 450.7L625.9 451.7L625.1 450.7L623.6 449.8L621.3 450.2L619.5 448.4L619.0 446.3L616.7 446.1L617.9 443.8L617.9 441.5L617.7 439.2L616.7 438.2L616.0 439.2L614.4 440.4L613.5 441.5L614.3 443.8L612.1 444.7L611.4 446.1L609.8 447.7L607.9 446.1L607.5 445.5L605.2 443.9L603.0 446.1L604.8 448.4L605.2 449.0L605.7 448.4L607.5 446.5L608.9 448.4L608.9 450.7L609.8 451.1L612.0 450.7L611.3 448.4L612.1 447.6L613.6 446.1L614.4 443.9L616.7 446.1L615.5 448.4L614.4 448.5L612.2 450.7L613.4 453.0L614.4 455.1L615.1 453.0L616.4 450.7L616.7 448.8L619.0 449.4L620.2 450.7L621.3 452.8L622.1 453.0L622.4 455.3L621.4 457.6L623.5 459.9L621.3 460.6L619.0 461.0L617.9 459.9L616.7 457.8L614.6 459.9L615.6 462.2L614.4 463.4L612.6 464.5L612.1 464.9L609.8 466.5L607.5 465.8L606.1 466.8L607.5 468.3L608.3 469.1L609.7 471.4L607.5 473.7L608.3 476.0L609.6 478.3L608.6 480.6L607.5 481.7L606.0 480.6L605.2 479.5L602.9 479.4L600.6 479.9L600.4 480.6L600.6 481.3L601.7 482.9L600.6 483.8L598.3 484.4L596.0 484.3L595.1 482.9L593.7 480.7L593.5 480.6L591.4 479.6L589.5 480.6L589.1 482.9L586.8 484.0L585.6 482.9L584.5 481.7L583.8 480.6L584.5 479.9L586.5 478.3L584.5 476.8L583.6 478.3L582.2 479.7L580.4 478.3L579.9 476.3L578.8 478.3L577.6 479.0L576.8 478.3L575.3 477.7L573.9 478.3L574.5 480.6L574.1 482.9L574.2 485.2L575.3 486.0L577.6 486.3L578.7 485.2L578.9 482.9L579.9 481.0L580.9 482.9L581.1 485.2L581.4 487.5L579.9 489.4L577.6 488.7L575.3 488.7L573.9 489.8L575.3 492.1L575.2 494.4L575.3 495.1L577.6 496.0L579.9 495.6L581.9 496.7L579.9 498.7L578.5 499.0L577.6 499.7L575.3 500.1L573.0 500.2L570.7 501.3L570.7 501.8ZM619.0 285.7L618.5 285.1L619.0 284.6L619.5 285.1L619.0 285.7ZM653.5 286.7L652.2 285.1L653.5 283.8L655.1 285.1L653.5 286.7ZM575.3 288.5L574.3 287.4L575.3 286.4L576.3 287.4L575.3 288.5ZM589.1 293.6L586.8 293.3L586.0 292.0L584.5 289.7L584.7 287.4L586.8 285.4L588.9 287.4L588.0 289.7L589.1 290.8L590.3 292.0L589.1 293.6ZM623.6 288.9L621.5 287.4L623.6 286.0L625.1 287.4L623.6 288.9ZM556.9 291.8L556.0 289.7L556.9 289.1L558.9 289.7L556.9 291.8ZM563.8 290.3L562.8 289.7L563.8 289.1L564.7 289.7L563.8 290.3ZM577.6 290.8L576.5 289.7L577.6 288.7L578.2 289.7L577.6 290.8ZM614.4 290.8L612.9 289.7L614.4 288.2L616.0 289.7L614.4 290.8ZM619.0 290.8L617.9 289.7L619.0 289.0L620.0 289.7L619.0 290.8ZM655.8 291.2L654.4 289.7L655.8 288.6L658.0 289.7L655.8 291.2ZM669.6 290.3L668.7 289.7L669.6 289.1L670.1 289.7L669.6 290.3ZM575.3 293.7L573.0 292.8L570.7 293.0L568.7 292.0L570.7 291.3L573.0 290.9L575.3 290.2L577.1 292.0L575.3 293.7ZM605.0 294.3L603.0 292.0L602.9 291.1L602.7 292.0L601.5 294.3L602.9 295.3L605.0 294.3ZM616.7 293.5L615.6 292.0L616.7 290.4L618.2 292.0L616.7 293.5ZM648.9 293.0L648.3 292.0L648.9 290.2L649.5 292.0L648.9 293.0ZM577.6 295.4L576.5 294.3L577.6 293.1L579.6 294.3L577.6 295.4ZM596.9 294.3L596.0 292.6L595.0 294.3L596.0 295.3L596.9 294.3ZM658.1 296.3L657.5 294.3L658.1 292.2L659.0 294.3L658.1 296.3ZM556.9 297.7L554.9 296.6L556.9 294.5L557.6 296.6L556.9 297.7ZM651.2 297.7L649.0 296.6L651.2 295.6L652.2 296.6L651.2 297.7ZM665.0 299.5L664.0 298.9L662.7 298.0L661.6 296.6L662.7 295.5L665.0 296.3L665.0 296.6L665.6 298.9L665.0 299.5ZM601.0 298.9L600.6 298.6L598.8 298.9L600.6 299.1L601.0 298.9ZM616.2 298.9L614.4 297.9L612.5 298.9L614.4 299.2L616.2 298.9ZM629.0 298.9L628.2 298.1L627.9 298.9L628.2 300.7L629.0 298.9ZM527.0 302.0L526.5 301.2L527.0 300.6L527.5 301.2L527.0 302.0ZM578.3 301.2L577.6 300.4L576.6 301.2L577.6 301.8L578.3 301.2ZM594.6 301.2L593.7 299.8L592.4 301.2L593.7 302.1L594.6 301.2ZM625.4 301.2L623.6 300.3L622.7 301.2L623.6 301.6L625.4 301.2ZM568.3 303.5L566.1 302.0L565.3 303.5L566.1 304.3L568.3 303.5ZM667.3 306.6L665.0 307.3L663.9 305.8L665.0 304.7L666.6 303.5L667.3 301.6L668.4 303.5L669.6 305.8L667.3 306.6ZM671.9 304.5L670.9 303.5L671.9 302.9L672.8 303.5L671.9 304.5ZM561.8 305.8L561.5 304.0L561.1 305.8L561.5 307.5L561.8 305.8ZM659.2 310.4L658.8 308.1L658.1 307.6L655.8 305.9L655.7 305.8L653.5 303.8L652.6 305.8L653.5 306.8L654.4 308.1L655.8 310.4L658.1 311.6L659.2 310.4ZM647.2 308.1L646.6 307.9L644.3 307.9L643.8 308.1L644.3 308.3L646.6 308.3L647.2 308.1ZM669.6 308.8L668.9 308.1L669.6 305.8L671.8 308.1L669.6 308.8ZM543.1 312.6L540.8 310.4L543.1 309.3L544.2 310.4L543.1 312.6ZM667.3 312.3L666.3 310.4L667.3 309.7L667.9 310.4L667.3 312.3ZM559.4 315.0L559.2 314.7L559.0 315.0L559.2 315.2L559.4 315.0ZM658.7 315.0L658.1 313.9L657.5 315.0L658.1 317.1L658.7 315.0ZM531.6 321.1L530.1 319.6L531.6 317.8L533.9 319.6L531.6 321.1ZM662.7 322.9L662.0 321.9L661.6 319.6L662.7 318.5L664.6 319.6L663.7 321.9L662.7 322.9ZM536.2 324.1L534.0 321.9L536.2 320.8L537.3 321.9L536.2 324.1ZM658.1 326.5L657.0 324.2L658.1 323.1L660.3 324.2L658.1 326.5ZM665.0 329.8L663.9 328.8L663.0 326.5L665.0 325.8L665.7 326.5L666.0 328.8L665.0 329.8ZM536.2 331.7L535.6 331.1L536.2 330.2L537.2 331.1L536.2 331.7ZM642.7 333.4L642.0 333.2L641.7 333.4L642.0 335.5L642.7 333.4ZM665.0 337.4L662.7 335.8L661.6 335.7L662.7 335.6L665.0 334.4L667.3 335.7L665.0 337.4ZM639.5 347.2L637.4 345.6L636.4 344.9L637.4 343.9L638.6 342.6L639.7 341.9L642.0 341.1L643.8 342.6L642.0 344.4L639.9 344.9L642.0 345.1L642.2 344.9L644.3 342.8L646.1 342.6L644.3 341.8L643.0 340.3L642.2 338.0L642.0 335.9L640.9 338.0L639.7 338.7L638.6 338.0L637.4 337.0L636.4 338.0L636.2 340.3L635.1 341.4L632.8 341.1L631.3 342.6L630.8 344.9L632.8 346.1L634.9 347.2L635.1 348.3L637.4 348.3L639.5 347.2ZM660.4 346.4L659.2 344.9L658.1 344.0L656.7 342.6L658.1 340.8L660.4 340.3L662.1 342.6L661.9 344.9L660.4 346.4ZM631.6 349.5L630.5 347.2L628.2 346.6L626.3 344.9L625.9 344.5L625.7 344.9L624.2 347.2L625.4 349.5L625.9 350.2L628.2 350.6L630.5 350.1L631.6 349.5ZM655.8 346.3L654.7 344.9L655.8 343.8L656.9 344.9L655.8 346.3ZM667.3 345.9L666.3 344.9L667.3 344.0L667.9 344.9L667.3 345.9ZM529.3 348.1L528.3 347.2L529.3 345.0L530.3 347.2L529.3 348.1ZM536.2 350.4L535.6 349.5L536.2 348.6L536.8 349.5L536.2 350.4ZM544.0 349.5L543.1 348.5L542.4 349.5L543.1 351.7L544.0 349.5ZM649.9 349.5L648.9 348.9L647.5 349.5L648.9 350.3L649.9 349.5ZM669.6 351.4L667.7 349.5L669.6 347.2L671.3 349.5L669.6 351.4ZM676.5 350.6L674.2 350.5L673.4 349.5L674.2 347.5L676.5 348.0L677.5 349.5L676.5 350.6ZM621.3 351.8L619.0 351.5L617.8 351.8L619.0 352.7L621.3 351.8ZM643.0 354.1L642.7 351.8L642.0 350.8L640.1 351.8L641.2 354.1L642.0 354.9L643.0 354.1ZM662.7 354.0L661.2 351.8L662.7 350.3L664.8 351.8L662.7 354.0ZM538.5 355.6L537.4 354.1L538.5 351.8L540.0 354.1L538.5 355.6ZM554.7 354.1L554.6 353.9L554.0 354.1L554.6 354.3L554.7 354.1ZM617.4 367.9L618.9 365.6L619.0 365.5L621.3 364.3L621.9 363.3L623.6 361.6L624.5 361.0L624.7 358.7L625.9 357.5L626.4 356.4L626.4 354.1L625.9 353.4L623.7 354.1L623.6 355.4L623.5 356.4L621.6 358.7L623.1 361.0L621.3 362.8L619.0 362.2L617.6 361.0L616.7 360.7L616.1 361.0L614.9 363.3L616.4 365.6L614.4 367.6L612.1 366.0L609.8 365.9L609.5 367.9L609.8 368.3L612.1 368.9L614.4 368.3L616.7 368.9L617.4 367.9ZM634.7 358.7L633.8 356.4L633.4 354.1L632.8 353.0L632.2 354.1L632.5 356.4L631.8 358.7L632.8 360.6L634.7 358.7ZM669.6 358.5L668.9 356.4L668.6 354.1L669.6 353.0L670.3 354.1L670.6 356.4L669.6 358.5ZM531.6 358.3L531.0 356.4L531.6 354.4L532.6 356.4L531.6 358.3ZM638.3 356.4L637.4 355.9L636.0 356.4L637.4 358.5L638.3 356.4ZM658.1 359.8L655.8 360.4L654.4 358.7L655.8 357.3L658.1 358.0L659.2 358.7L658.1 359.8ZM638.4 370.2L637.9 367.9L637.4 366.9L635.2 365.6L635.1 365.3L633.5 363.3L632.8 362.5L630.5 362.6L628.2 362.3L627.5 363.3L625.9 365.6L625.4 367.9L625.9 368.9L626.9 367.9L628.2 366.7L629.4 365.6L630.5 364.5L631.2 365.6L632.8 367.1L635.0 367.9L633.1 370.2L635.1 372.0L637.4 370.9L638.4 370.2ZM551.2 367.9L550.0 367.3L548.7 367.9L550.0 368.9L551.2 367.9ZM660.4 371.5L658.7 370.2L660.4 368.5L662.1 370.2L660.4 371.5ZM610.1 395.5L609.8 395.1L607.5 393.2L608.7 390.9L609.8 388.6L610.7 390.9L612.1 392.1L612.7 390.9L614.4 389.2L616.7 390.7L616.8 390.9L619.0 391.6L619.6 390.9L619.2 388.6L619.7 386.3L619.0 385.7L618.0 386.3L616.7 387.5L614.4 387.8L612.1 388.4L609.9 386.3L610.7 384.0L611.2 381.7L612.1 380.6L614.4 381.6L616.7 379.4L616.5 377.1L616.7 377.0L617.2 374.8L619.0 372.7L619.7 372.5L619.0 372.3L616.7 371.5L616.0 372.5L615.2 374.8L614.4 375.9L612.1 375.9L610.9 374.8L609.8 373.8L607.8 374.8L608.6 377.1L608.6 379.4L607.5 380.2L606.0 381.7L607.5 382.9L608.7 384.0L607.5 386.3L605.2 384.1L605.1 384.0L602.9 383.0L602.3 384.0L602.9 385.0L604.2 386.3L604.9 388.6L602.9 389.4L601.8 390.9L602.9 393.2L602.3 395.5L602.9 396.0L605.2 396.2L607.5 396.6L609.8 396.0L610.1 395.5ZM667.3 373.1L666.4 372.5L667.3 371.6L668.3 372.5L667.3 373.1ZM671.9 373.5L670.5 372.5L671.9 371.1L672.9 372.5L671.9 373.5ZM533.9 377.1L532.8 374.8L533.9 372.6L536.1 374.8L533.9 377.1ZM623.6 377.1L625.8 374.8L623.6 372.7L621.7 374.8L621.3 375.4L621.0 377.1L621.3 377.7L623.6 377.1ZM629.2 374.8L628.2 373.8L626.0 374.8L628.2 375.7L629.2 374.8ZM658.1 376.7L657.5 374.8L658.1 373.9L658.7 374.8L658.1 376.7ZM522.4 378.1L521.4 377.1L522.4 376.1L523.4 377.1L522.4 378.1ZM636.9 377.1L635.1 376.1L634.1 377.1L635.1 378.8L636.9 377.1ZM529.3 383.5L528.6 381.7L528.2 379.4L529.3 378.3L530.8 379.4L530.4 381.7L529.3 383.5ZM538.5 382.9L536.2 382.8L534.0 381.7L536.2 379.4L538.5 378.7L539.5 379.4L539.7 381.7L538.5 382.9ZM552.5 379.4L552.3 379.2L550.0 378.9L549.6 379.4L550.0 379.8L552.3 379.5L552.5 379.4ZM603.5 379.4L602.9 378.8L602.1 379.4L602.9 380.3L603.5 379.4ZM635.6 393.2L636.2 390.9L637.4 389.7L638.7 390.9L639.7 391.3L642.0 390.9L640.6 388.6L640.0 386.3L642.0 384.2L642.4 384.0L642.0 383.2L639.7 383.3L637.6 381.7L639.7 379.7L640.5 379.4L639.7 378.6L639.4 379.4L637.4 381.5L637.2 381.7L637.4 382.1L638.6 384.0L637.4 385.1L635.1 384.9L634.0 386.3L632.8 387.8L631.3 386.3L631.5 384.0L632.2 381.7L630.5 381.5L629.6 381.7L630.0 384.0L628.7 386.3L629.6 388.6L630.5 390.8L632.8 390.9L634.5 393.2L635.1 394.2L635.6 393.2ZM662.7 381.6L660.6 379.4L662.7 378.0L663.8 379.4L662.7 381.6ZM627.3 381.7L625.9 380.3L624.9 381.7L625.9 382.7L627.3 381.7ZM544.1 386.3L543.1 385.3L540.9 386.3L543.1 387.3L544.1 386.3ZM627.3 390.9L625.9 388.6L625.8 388.6L625.1 386.3L623.6 385.2L622.5 386.3L622.6 388.6L623.6 390.6L623.8 390.9L625.9 392.4L627.3 390.9ZM651.2 396.5L650.5 395.5L649.0 393.2L650.4 390.9L648.9 388.6L651.1 386.3L651.2 385.2L651.3 386.3L653.4 388.6L652.0 390.9L651.9 393.2L652.2 395.5L651.2 396.5ZM536.2 390.8L534.3 388.6L536.2 388.0L536.9 388.6L536.2 390.8ZM596.7 388.6L596.0 388.1L595.1 388.6L596.0 389.5L596.7 388.6ZM635.1 390.1L633.6 388.6L635.1 387.5L636.6 388.6L635.1 390.1ZM655.8 391.4L655.2 390.9L655.8 390.4L656.3 390.9L655.8 391.4ZM543.4 393.2L543.1 392.4L542.6 393.2L543.1 393.6L543.4 393.2ZM548.2 395.5L547.7 395.2L545.8 395.5L547.7 396.1L548.2 395.5ZM591.6 473.7L593.1 471.4L593.7 470.8L594.8 471.4L596.0 472.0L598.3 472.5L600.6 472.4L602.4 471.4L600.6 470.7L599.5 469.1L600.6 467.5L601.2 466.8L602.9 465.1L603.5 464.5L605.2 462.8L605.8 462.2L607.5 460.7L608.8 462.2L609.8 462.7L611.2 462.2L609.8 461.2L608.3 459.9L609.8 457.6L607.5 456.5L606.4 457.6L605.2 459.1L602.9 458.9L601.2 457.6L600.6 455.4L598.3 456.7L596.5 455.3L596.4 453.0L596.0 452.4L593.7 452.5L592.3 450.7L591.5 448.4L593.7 447.2L596.0 448.1L597.1 446.1L596.0 445.1L593.7 444.6L591.4 444.9L590.7 443.8L590.4 441.5L591.4 440.8L593.7 440.2L596.0 439.9L598.3 440.2L599.4 439.2L600.6 436.9L602.9 439.2L605.2 439.2L607.4 436.9L605.2 435.3L602.9 434.7L600.6 436.9L598.3 434.8L597.2 436.9L596.0 438.1L593.7 436.9L594.4 434.6L596.0 433.1L598.3 433.7L599.6 432.3L599.8 430.0L599.4 427.7L599.4 425.4L600.6 423.2L602.9 424.0L605.2 424.3L606.4 425.4L605.2 426.2L604.6 427.7L605.2 428.5L606.2 427.7L607.5 426.0L608.0 425.4L607.5 423.1L605.2 422.1L602.9 422.8L601.2 420.8L600.6 418.7L599.1 420.8L600.5 423.1L598.3 424.3L597.0 423.1L596.3 420.8L597.5 418.5L596.0 416.9L593.7 416.2L596.0 415.5L598.3 416.0L600.6 414.0L602.2 416.2L602.9 416.7L605.2 418.0L607.0 416.2L605.2 415.5L603.6 413.9L602.9 412.8L601.7 411.6L601.8 409.3L602.9 408.1L605.2 409.0L606.3 407.0L607.5 405.6L607.8 404.7L607.5 404.2L606.6 404.7L605.2 405.9L602.9 406.3L601.8 407.0L600.6 408.2L598.3 408.2L597.1 407.0L598.3 404.7L599.4 402.4L600.6 401.2L602.7 400.1L600.6 398.9L599.5 397.8L600.4 395.5L598.3 394.9L597.3 395.5L597.2 397.8L597.7 400.1L597.6 402.4L596.0 404.0L594.3 402.4L593.7 401.6L593.2 402.4L593.7 402.8L595.5 404.7L595.0 407.0L596.0 408.1L597.2 409.3L598.2 411.6L596.0 412.8L593.7 413.4L592.7 413.9L593.7 416.2L591.4 417.4L590.4 418.5L591.0 420.8L590.5 423.1L591.4 423.7L591.8 423.1L593.7 421.2L595.6 423.1L596.0 424.1L597.2 425.4L596.0 427.6L593.9 427.7L593.7 427.9L591.6 430.0L591.4 430.0L589.1 432.3L591.3 434.6L589.1 435.7L588.0 436.9L586.8 439.2L586.8 439.7L584.5 440.4L582.2 441.5L582.2 441.7L581.6 443.8L580.2 446.1L582.2 448.4L582.5 448.4L582.2 448.4L581.8 450.7L579.9 452.3L577.8 453.0L579.2 455.3L579.9 455.8L581.0 455.3L582.2 453.1L583.4 455.3L584.5 456.0L585.6 457.6L584.5 459.1L582.5 459.9L584.4 462.2L582.2 463.7L579.9 464.5L577.6 462.6L576.5 464.5L575.3 465.7L574.6 466.8L573.2 469.1L575.3 471.4L573.7 473.7L575.3 474.0L577.6 474.2L578.7 473.7L579.9 471.4L581.0 473.7L582.2 475.7L583.3 473.7L584.5 471.6L586.8 472.0L588.6 473.7L589.1 474.6L591.4 473.7L591.6 473.7ZM615.0 395.5L614.4 394.9L613.9 395.5L614.4 396.8L615.0 395.5ZM628.0 407.0L625.9 405.5L625.2 404.7L625.6 402.4L625.9 400.7L628.2 400.1L629.9 402.4L629.9 404.7L630.5 405.2L631.5 404.7L632.8 403.5L635.0 402.4L635.1 402.3L635.8 400.1L635.1 399.4L632.8 398.3L632.7 397.8L630.5 397.2L628.2 395.6L628.0 395.5L625.9 394.3L623.6 394.4L622.9 395.5L622.8 397.8L622.7 400.1L623.1 402.4L621.4 404.7L623.6 407.0L623.6 407.1L625.9 407.9L628.0 407.0ZM643.1 395.5L642.0 393.4L641.2 395.5L642.0 397.0L643.1 395.5ZM621.1 400.1L619.0 397.9L616.7 399.5L615.8 400.1L616.7 400.6L619.0 401.0L621.1 400.1ZM642.6 400.1L642.0 398.6L639.7 397.9L638.6 400.1L639.7 401.0L642.0 401.1L642.6 400.1ZM589.5 404.7L589.1 404.4L588.9 404.7L589.1 404.9L589.5 404.7ZM621.0 404.7L619.0 404.3L618.4 404.7L619.0 405.7L621.0 404.7ZM540.8 407.0L538.5 408.9L536.9 407.0L538.5 405.1L540.8 407.0ZM620.0 409.3L619.0 408.3L618.3 409.3L619.0 411.0L620.0 409.3ZM638.4 409.3L637.4 407.2L636.8 409.3L637.4 409.9L638.4 409.3ZM589.3 411.6L589.1 411.5L589.0 411.6L589.1 411.8L589.3 411.6ZM633.7 416.2L632.8 413.9L630.5 413.3L628.5 413.9L628.2 414.2L625.9 414.6L623.6 413.9L625.9 413.1L626.6 411.6L625.9 410.8L624.5 411.6L623.6 413.9L621.3 412.5L620.8 413.9L621.3 416.2L622.0 416.2L623.6 416.3L625.9 416.8L628.2 417.9L629.0 416.2L630.5 414.6L632.2 416.2L632.8 416.8L633.7 416.2ZM617.2 413.9L616.7 412.5L614.4 412.8L612.1 412.1L611.1 413.9L612.1 415.9L614.4 414.4L616.7 414.9L617.2 413.9ZM641.8 416.2L640.3 413.9L639.7 413.3L639.3 413.9L639.0 416.2L639.7 416.9L641.8 416.2ZM646.6 414.8L646.0 413.9L646.6 413.3L647.5 413.9L646.6 414.8ZM585.1 418.5L584.5 417.5L582.6 416.2L582.2 415.9L582.0 416.2L582.2 416.5L583.8 418.5L584.5 419.0L585.1 418.5ZM611.3 418.5L609.8 417.0L608.9 418.5L609.8 420.8L611.3 418.5ZM522.4 421.3L521.8 420.8L522.4 420.0L522.9 420.8L522.4 421.3ZM538.5 424.7L536.2 423.5L533.9 424.4L532.2 423.1L533.9 421.4L536.2 422.7L536.7 420.8L538.5 419.4L540.3 420.8L540.4 423.1L538.5 424.7ZM619.4 420.8L619.0 419.8L616.9 420.8L619.0 422.7L619.4 420.8ZM627.0 423.1L625.9 421.7L625.0 420.8L623.6 419.5L622.9 420.8L623.6 421.9L624.8 423.1L625.9 424.2L627.0 423.1ZM644.3 421.8L643.2 420.8L644.3 418.5L644.9 420.8L644.3 421.8ZM662.7 421.3L662.2 420.8L662.7 420.3L663.2 420.8L662.7 421.3ZM580.6 425.4L579.9 425.0L579.6 425.4L579.9 426.6L580.6 425.4ZM586.6 425.4L584.5 424.6L584.1 425.4L584.5 425.8L586.6 425.4ZM615.5 425.4L614.4 424.5L612.1 424.4L611.6 425.4L612.1 425.8L614.4 427.5L615.5 425.4ZM642.0 429.9L640.4 427.7L639.7 427.0L637.4 427.1L635.1 426.5L633.0 425.4L635.1 423.1L637.4 423.6L639.7 423.1L642.0 425.3L642.9 425.4L643.5 427.7L642.0 429.9ZM623.6 430.0L623.6 427.7L621.3 425.7L619.2 427.7L619.0 428.7L616.7 428.5L615.2 430.0L616.7 431.5L619.0 431.3L621.3 431.1L623.6 430.0ZM529.3 430.6L527.4 430.0L529.3 429.4L530.3 430.0L529.3 430.6ZM549.1 430.0L547.7 429.1L545.8 430.0L547.7 431.0L549.1 430.0ZM586.0 434.6L586.8 433.5L589.1 432.3L587.9 430.0L586.8 428.0L584.9 430.0L584.5 432.3L583.1 434.6L584.5 436.1L586.0 434.6ZM610.2 430.0L609.8 429.5L608.2 430.0L609.8 430.5L610.2 430.0ZM637.4 431.0L636.8 430.0L637.4 427.8L638.4 430.0L637.4 431.0ZM605.6 432.3L605.2 431.9L603.3 432.3L605.2 433.3L605.6 432.3ZM630.5 433.6L629.3 432.3L630.5 430.2L631.6 432.3L630.5 433.6ZM536.2 435.3L533.9 436.5L532.9 434.6L533.9 433.5L536.2 433.6L538.5 434.6L536.2 435.3ZM632.8 438.1L630.5 438.4L629.3 436.9L630.5 435.2L631.5 434.6L632.8 433.5L633.8 434.6L633.5 436.9L632.8 438.1ZM576.7 436.9L575.3 436.8L575.1 436.9L575.3 437.2L576.7 436.9ZM536.2 440.2L535.2 439.2L536.2 438.5L538.4 439.2L536.2 440.2ZM540.8 440.2L538.7 439.2L540.8 438.5L541.5 439.2L540.8 440.2ZM557.2 439.2L556.9 438.9L556.4 439.2L556.9 439.5L557.2 439.2ZM637.4 442.2L636.3 441.5L636.4 439.2L637.4 438.6L638.0 439.2L638.4 441.5L637.4 442.2ZM610.2 441.5L609.8 439.5L609.5 441.5L609.8 443.1L610.2 441.5ZM632.8 442.6L631.7 441.5L632.8 440.0L634.3 441.5L632.8 442.6ZM570.9 443.8L570.7 443.7L570.6 443.8L570.7 443.9L570.9 443.8ZM630.5 446.7L629.4 446.1L630.5 445.5L632.5 446.1L630.5 446.7ZM635.1 447.9L633.0 446.1L635.1 445.1L636.1 446.1L635.1 447.9ZM598.3 466.8L596.0 467.5L593.7 466.8L596.0 465.6L596.6 464.5L596.0 463.5L593.7 464.4L591.4 462.3L589.2 462.2L589.1 462.1L588.9 459.9L587.9 457.6L586.8 455.3L584.5 454.3L582.3 453.0L583.3 450.7L584.5 448.5L585.2 450.7L586.8 451.9L589.1 453.0L589.5 453.0L590.3 455.3L590.7 457.6L591.4 458.7L592.6 459.9L593.7 461.0L595.1 459.9L593.7 458.1L593.2 457.6L592.6 455.3L593.7 454.1L595.1 455.3L596.0 455.5L597.9 457.6L598.3 458.1L600.6 457.9L602.4 459.9L602.9 460.7L604.7 462.2L602.9 464.1L602.0 464.5L600.6 465.8L598.3 466.8ZM601.5 453.0L600.6 451.2L600.2 453.0L600.6 455.1L601.5 453.0ZM575.9 455.3L575.3 454.9L573.8 455.3L575.3 456.3L575.9 455.3ZM575.8 459.9L575.3 459.0L575.0 459.9L575.3 460.7L575.8 459.9ZM552.6 464.5L552.3 464.0L551.9 464.5L552.3 466.1L552.6 464.5ZM567.5 464.5L566.1 462.6L565.6 464.5L566.1 465.5L567.5 464.5ZM589.1 470.1L588.4 469.1L586.9 466.8L589.0 464.5L589.1 463.3L589.1 464.5L591.4 465.7L593.7 466.8L591.4 467.5L589.7 469.1L589.1 470.1ZM616.7 466.9L616.6 466.8L614.8 464.5L616.7 462.6L618.5 464.5L616.8 466.8L616.7 466.9ZM630.5 465.0L629.7 464.5L630.5 463.9L631.0 464.5L630.5 465.0ZM529.3 467.7L528.7 466.8L529.3 465.9L529.9 466.8L529.3 467.7ZM559.2 466.8L559.2 466.7L559.2 466.8ZM577.6 467.5L576.5 466.8L577.6 465.7L578.6 466.8L577.6 467.5ZM621.3 473.5L620.6 471.4L620.3 469.1L620.3 466.8L621.3 465.8L622.0 466.8L622.0 469.1L621.9 471.4L621.3 473.5ZM572.7 469.1L570.7 468.7L569.8 469.1L570.7 469.6L572.7 469.1ZM582.2 469.8L579.9 471.4L579.2 469.1L579.9 468.0L582.2 468.1L583.2 469.1L582.2 469.8ZM614.4 471.5L612.1 472.9L609.8 471.4L611.3 469.1L612.1 468.0L614.3 469.1L614.4 470.2L615.1 471.4L614.4 471.5ZM566.6 471.4L566.1 471.1L566.0 471.4L566.1 471.6L566.6 471.4ZM616.7 474.3L615.7 473.7L616.7 471.6L617.7 473.7L616.7 474.3ZM630.5 474.6L629.9 473.7L630.5 472.8L631.4 473.7L630.5 474.6ZM598.2 476.0L596.0 475.7L595.7 476.0L596.0 476.2L598.2 476.0ZM602.5 476.0L600.6 474.9L598.3 476.0L600.6 478.1L602.5 476.0ZM533.9 479.3L531.9 478.3L533.9 476.0L534.6 478.3L533.9 479.3ZM546.8 478.3L545.4 477.7L543.1 478.3L545.4 478.6L546.8 478.3ZM529.3 482.5L528.3 480.6L529.3 480.0L530.3 480.6L529.3 482.5ZM571.4 482.9L571.4 480.6L570.7 478.4L570.0 480.6L570.1 482.9L570.7 484.9L571.4 482.9ZM545.7 482.9L545.4 482.7L545.2 482.9L545.4 483.5L545.7 482.9ZM584.5 487.2L583.5 485.2L584.5 484.1L585.6 485.2L584.5 487.2ZM598.3 494.1L596.0 492.1L593.7 490.2L592.5 492.1L591.4 494.2L590.3 492.1L589.1 490.9L586.8 490.5L585.8 489.8L586.8 488.7L588.0 487.5L589.1 486.4L589.9 487.5L591.4 489.0L592.1 487.5L591.4 485.2L591.4 485.1L593.7 483.8L595.5 485.2L596.0 486.2L597.2 487.5L598.3 489.7L598.6 489.8L599.4 492.1L598.3 494.1ZM612.1 485.7L611.3 485.2L612.1 484.6L612.7 485.2L612.1 485.7ZM538.5 491.2L537.4 489.8L536.2 488.1L535.6 487.5L536.2 486.9L538.5 487.4L540.2 487.5L539.6 489.8L538.5 491.2ZM557.6 487.5L556.9 485.6L556.3 487.5L556.9 489.7L557.6 487.5ZM533.9 490.4L531.6 490.4L531.0 489.8L531.6 488.9L533.9 489.2L534.6 489.8L533.9 490.4ZM550.3 489.8L550.0 488.2L549.6 489.8L550.0 490.2L550.3 489.8ZM561.9 489.8L561.5 488.2L560.9 489.8L561.5 490.4L561.9 489.8ZM567.1 489.8L566.1 489.0L565.3 489.8L566.1 490.6L567.1 489.8ZM540.8 496.7L539.8 494.4L540.8 493.7L541.9 494.4L540.8 496.7ZM586.8 497.3L586.2 496.7L584.5 495.9L582.6 494.4L584.5 492.6L586.8 494.4L587.4 496.7L586.8 497.3ZM545.4 501.4L545.3 501.3L544.0 499.0L544.3 496.7L545.4 495.3L547.1 496.7L547.7 497.9L547.7 499.0L547.7 499.4L545.8 501.3L545.4 501.4ZM593.7 501.2L593.0 499.0L593.0 496.7L593.7 496.5L596.0 495.2L597.1 496.7L596.0 497.8L594.4 499.0L593.7 501.2ZM559.2 504.5L558.2 503.6L556.9 502.3L555.8 501.3L556.9 500.2L558.1 499.0L559.2 496.8L560.3 499.0L559.2 501.3L560.2 503.6L559.2 504.5ZM529.3 501.9L528.4 501.3L529.3 500.4L529.9 501.3L529.3 501.9ZM543.1 505.8L540.9 503.6L543.1 502.1L544.6 503.6L543.1 505.8ZM570.7 508.1L569.6 505.9L570.7 503.6L572.2 505.9L570.7 508.1ZM550.0 511.1L549.1 510.5L550.0 509.9L550.9 510.5L550.0 511.1ZM538.5 513.3L538.0 512.8L538.5 512.3L539.0 512.8L538.5 513.3ZM554.6 513.7L554.0 512.8L554.6 511.9L555.5 512.8L554.6 513.7ZM577.6 513.4L576.7 512.8L577.6 511.9L579.4 512.8L577.6 513.4ZM554.6 519.2L554.0 517.4L554.6 516.4L555.5 517.4L554.6 519.2Z" fill="none" stroke="#404040" stroke-width="0.72" stroke-linejoin="round" stroke-linecap="round"/>
<path d="M625.9 315.3L625.8 315.0L625.9 314.9L626.1 315.0L625.9 315.3ZM596.0 317.7L595.5 317.3L596.0 317.0L596.3 317.3L596.0 317.7ZM586.8 319.7L586.7 319.6L586.8 319.3L587.3 319.6L586.8 319.7ZM614.4 319.7L614.3 319.6L614.4 319.5L614.5 319.6L614.4 319.7ZM570.7 413.5L569.1 411.6L569.0 409.3L568.4 407.2L568.3 407.0L566.8 404.7L566.4 402.4L566.2 400.1L566.1 399.9L564.3 397.8L564.4 395.5L563.9 393.2L563.8 391.2L563.8 390.9L563.8 390.7L563.9 388.6L564.6 386.3L565.5 384.0L565.5 381.7L566.1 381.1L568.1 379.4L568.4 379.0L569.1 377.1L569.7 374.8L570.7 373.6L571.1 372.5L570.9 370.2L572.3 367.9L573.0 366.7L573.1 365.6L573.6 363.3L575.3 361.4L576.1 361.0L577.0 358.7L576.8 356.4L577.6 354.8L578.7 354.1L579.9 353.1L580.7 351.8L582.2 350.6L582.8 349.5L583.8 347.2L584.5 346.4L586.2 344.9L586.8 344.1L589.0 342.6L589.1 342.4L589.5 340.3L591.4 338.3L591.7 338.0L593.7 336.2L594.4 335.7L596.0 334.4L598.0 333.4L598.3 331.9L600.6 331.9L602.3 331.1L602.9 330.6L605.2 328.9L605.4 328.8L607.5 328.1L609.8 327.0L610.8 326.5L612.1 325.3L614.4 324.9L616.7 325.3L619.0 324.6L620.1 324.2L621.3 323.0L623.6 323.5L625.8 321.9L625.9 321.5L628.2 320.0L630.5 320.9L632.8 320.2L635.0 319.6L635.1 319.5L637.4 318.7L639.7 318.2L642.0 319.5L642.0 319.6L642.0 319.7L639.7 321.6L639.4 321.9L639.5 324.2L637.4 325.5L636.5 326.5L635.1 327.8L632.9 328.8L632.8 328.9L630.5 331.0L630.2 331.1L628.6 333.4L628.2 333.6L625.9 335.5L625.7 335.7L623.6 337.2L623.0 338.0L621.3 340.0L620.4 340.3L619.0 341.4L617.7 342.6L617.3 344.9L616.7 345.5L614.4 346.8L613.7 347.2L612.1 347.8L610.5 349.5L609.9 351.8L609.8 352.0L607.5 353.6L607.1 354.1L605.2 356.2L604.9 356.4L602.9 358.1L602.6 358.7L601.3 361.0L600.6 361.8L598.9 363.3L598.3 364.5L597.3 365.6L596.0 367.2L595.5 367.9L594.6 370.2L593.7 371.4L593.3 372.5L591.4 374.5L591.2 374.8L590.4 377.1L591.2 379.4L589.2 381.7L589.1 381.8L587.8 384.0L587.0 386.3L586.8 386.5L586.0 388.6L585.9 390.9L584.9 393.2L584.5 393.8L583.5 395.5L582.5 397.8L582.2 398.4L581.8 400.1L579.9 402.0L579.3 402.4L577.9 404.7L577.6 405.2L576.4 407.0L575.3 407.8L574.0 409.3L573.0 411.0L572.5 411.6L570.7 413.5ZM579.9 345.4L578.5 344.9L579.9 344.6L580.2 344.9L579.9 345.4ZM566.1 351.9L566.0 351.8L566.1 351.6L566.6 351.8L566.1 351.9ZM575.3 354.3L575.0 354.1L575.3 353.6L576.0 354.1L575.3 354.3Z" fill="none" stroke="#404040" stroke-width="0.72" stroke-linejoin="round" stroke-linecap="round"/>
</g>
<path d="M40.34 219.9v-2.6M40.34 1.4v2.6M47.48 219.9v-2.6M47.48 1.4v2.6M54.62 219.9v-2.6M54.62 1.4v2.6M61.76 219.9v-2.6M61.76 1.4v2.6M68.9 219.9v-4.5M68.9 1.4v4.5M76.04 219.9v-2.6M76.04 1.4v2.6M83.18 219.9v-2.6M83.18 1.4v2.6M90.32 219.9v-2.6M90.32 1.4v2.6M97.46 219.9v-2.6M97.46 1.4v2.6M104.6 219.9v-4.5M104.6 1.4v4.5M111.74 219.9v-2.6M111.74 1.4v2.6M118.88 219.9v-2.6M118.88 1.4v2.6M126.02 219.9v-2.6M126.02 1.4v2.6M133.16 219.9v-2.6M133.16 1.4v2.6M140.3 219.9v-4.5M140.3 1.4v4.5M147.44 219.9v-2.6M147.44 1.4v2.6M154.58 219.9v-2.6M154.58 1.4v2.6M161.72 219.9v-2.6M161.72 1.4v2.6M168.86 219.9v-2.6M168.86 1.4v2.6M176 219.9v-4.5M176 1.4v4.5M183.14 219.9v-2.6M183.14 1.4v2.6M190.28 219.9v-2.6M190.28 1.4v2.6M197.42 219.9v-2.6M197.42 1.4v2.6M204.56 219.9v-2.6M204.56 1.4v2.6M33.2 212.85h4M211.7 212.85h-4M33.2 205.8h2.4M211.7 205.8h-2.4M33.2 198.75h2.4M211.7 198.75h-2.4M33.2 191.71h2.4M211.7 191.71h-2.4M33.2 184.66h2.4M211.7 184.66h-2.4M33.2 177.61h4M211.7 177.61h-4M33.2 170.56h2.4M211.7 170.56h-2.4M33.2 163.51h2.4M211.7 163.51h-2.4M33.2 156.46h2.4M211.7 156.46h-2.4M33.2 149.42h2.4M211.7 149.42h-2.4M33.2 142.37h4M211.7 142.37h-4M33.2 135.32h2.4M211.7 135.32h-2.4M33.2 128.27h2.4M211.7 128.27h-2.4M33.2 121.22h2.4M211.7 121.22h-2.4M33.2 114.17h2.4M211.7 114.17h-2.4M33.2 107.13h4M211.7 107.13h-4M33.2 100.08h2.4M211.7 100.08h-2.4M33.2 93.03h2.4M211.7 93.03h-2.4M33.2 85.98h2.4M211.7 85.98h-2.4M33.2 78.93h2.4M211.7 78.93h-2.4M33.2 71.88h4M211.7 71.88h-4M33.2 64.84h2.4M211.7 64.84h-2.4M33.2 57.79h2.4M211.7 57.79h-2.4M33.2 50.74h2.4M211.7 50.74h-2.4M33.2 43.69h2.4M211.7 43.69h-2.4M33.2 36.64h4M211.7 36.64h-4M33.2 29.59h2.4M211.7 29.59h-2.4M33.2 22.55h2.4M211.7 22.55h-2.4M33.2 15.5h2.4M211.7 15.5h-2.4M33.2 8.45h2.4M211.7 8.45h-2.4" stroke="#858585" stroke-width="1" fill="none"/>
<rect x="33.2" y="1.4" width="178.5" height="218.5" fill="none" stroke="#a4a4a4" stroke-width="1.25"/>
<path d="M289.94 219.9v-2.6M289.94 1.4v2.6M297.08 219.9v-2.6M297.08 1.4v2.6M304.22 219.9v-2.6M304.22 1.4v2.6M311.36 219.9v-2.6M311.36 1.4v2.6M318.5 219.9v-4.5M318.5 1.4v4.5M325.64 219.9v-2.6M325.64 1.4v2.6M332.78 219.9v-2.6M332.78 1.4v2.6M339.92 219.9v-2.6M339.92 1.4v2.6M347.06 219.9v-2.6M347.06 1.4v2.6M354.2 219.9v-4.5M354.2 1.4v4.5M361.34 219.9v-2.6M361.34 1.4v2.6M368.48 219.9v-2.6M368.48 1.4v2.6M375.62 219.9v-2.6M375.62 1.4v2.6M382.76 219.9v-2.6M382.76 1.4v2.6M389.9 219.9v-4.5M389.9 1.4v4.5M397.04 219.9v-2.6M397.04 1.4v2.6M404.18 219.9v-2.6M404.18 1.4v2.6M411.32 219.9v-2.6M411.32 1.4v2.6M418.46 219.9v-2.6M418.46 1.4v2.6M425.6 219.9v-4.5M425.6 1.4v4.5M432.74 219.9v-2.6M432.74 1.4v2.6M439.88 219.9v-2.6M439.88 1.4v2.6M447.02 219.9v-2.6M447.02 1.4v2.6M454.16 219.9v-2.6M454.16 1.4v2.6M282.8 212.85h4M461.3 212.85h-4M282.8 205.8h2.4M461.3 205.8h-2.4M282.8 198.75h2.4M461.3 198.75h-2.4M282.8 191.71h2.4M461.3 191.71h-2.4M282.8 184.66h2.4M461.3 184.66h-2.4M282.8 177.61h4M461.3 177.61h-4M282.8 170.56h2.4M461.3 170.56h-2.4M282.8 163.51h2.4M461.3 163.51h-2.4M282.8 156.46h2.4M461.3 156.46h-2.4M282.8 149.42h2.4M461.3 149.42h-2.4M282.8 142.37h4M461.3 142.37h-4M282.8 135.32h2.4M461.3 135.32h-2.4M282.8 128.27h2.4M461.3 128.27h-2.4M282.8 121.22h2.4M461.3 121.22h-2.4M282.8 114.17h2.4M461.3 114.17h-2.4M282.8 107.13h4M461.3 107.13h-4M282.8 100.08h2.4M461.3 100.08h-2.4M282.8 93.03h2.4M461.3 93.03h-2.4M282.8 85.98h2.4M461.3 85.98h-2.4M282.8 78.93h2.4M461.3 78.93h-2.4M282.8 71.88h4M461.3 71.88h-4M282.8 64.84h2.4M461.3 64.84h-2.4M282.8 57.79h2.4M461.3 57.79h-2.4M282.8 50.74h2.4M461.3 50.74h-2.4M282.8 43.69h2.4M461.3 43.69h-2.4M282.8 36.64h4M461.3 36.64h-4M282.8 29.59h2.4M461.3 29.59h-2.4M282.8 22.55h2.4M461.3 22.55h-2.4M282.8 15.5h2.4M461.3 15.5h-2.4M282.8 8.45h2.4M461.3 8.45h-2.4" stroke="#858585" stroke-width="1" fill="none"/>
<rect x="282.8" y="1.4" width="178.5" height="218.5" fill="none" stroke="#a4a4a4" stroke-width="1.25"/>
<path d="M539.44 219.9v-2.6M539.44 1.4v2.6M546.58 219.9v-2.6M546.58 1.4v2.6M553.72 219.9v-2.6M553.72 1.4v2.6M560.86 219.9v-2.6M560.86 1.4v2.6M568 219.9v-4.5M568 1.4v4.5M575.14 219.9v-2.6M575.14 1.4v2.6M582.28 219.9v-2.6M582.28 1.4v2.6M589.42 219.9v-2.6M589.42 1.4v2.6M596.56 219.9v-2.6M596.56 1.4v2.6M603.7 219.9v-4.5M603.7 1.4v4.5M610.84 219.9v-2.6M610.84 1.4v2.6M617.98 219.9v-2.6M617.98 1.4v2.6M625.12 219.9v-2.6M625.12 1.4v2.6M632.26 219.9v-2.6M632.26 1.4v2.6M639.4 219.9v-4.5M639.4 1.4v4.5M646.54 219.9v-2.6M646.54 1.4v2.6M653.68 219.9v-2.6M653.68 1.4v2.6M660.82 219.9v-2.6M660.82 1.4v2.6M667.96 219.9v-2.6M667.96 1.4v2.6M675.1 219.9v-4.5M675.1 1.4v4.5M682.24 219.9v-2.6M682.24 1.4v2.6M689.38 219.9v-2.6M689.38 1.4v2.6M696.52 219.9v-2.6M696.52 1.4v2.6M703.66 219.9v-2.6M703.66 1.4v2.6M532.3 212.85h4M710.8 212.85h-4M532.3 205.8h2.4M710.8 205.8h-2.4M532.3 198.75h2.4M710.8 198.75h-2.4M532.3 191.71h2.4M710.8 191.71h-2.4M532.3 184.66h2.4M710.8 184.66h-2.4M532.3 177.61h4M710.8 177.61h-4M532.3 170.56h2.4M710.8 170.56h-2.4M532.3 163.51h2.4M710.8 163.51h-2.4M532.3 156.46h2.4M710.8 156.46h-2.4M532.3 149.42h2.4M710.8 149.42h-2.4M532.3 142.37h4M710.8 142.37h-4M532.3 135.32h2.4M710.8 135.32h-2.4M532.3 128.27h2.4M710.8 128.27h-2.4M532.3 121.22h2.4M710.8 121.22h-2.4M532.3 114.17h2.4M710.8 114.17h-2.4M532.3 107.13h4M710.8 107.13h-4M532.3 100.08h2.4M710.8 100.08h-2.4M532.3 93.03h2.4M710.8 93.03h-2.4M532.3 85.98h2.4M710.8 85.98h-2.4M532.3 78.93h2.4M710.8 78.93h-2.4M532.3 71.88h4M710.8 71.88h-4M532.3 64.84h2.4M710.8 64.84h-2.4M532.3 57.79h2.4M710.8 57.79h-2.4M532.3 50.74h2.4M710.8 50.74h-2.4M532.3 43.69h2.4M710.8 43.69h-2.4M532.3 36.64h4M710.8 36.64h-4M532.3 29.59h2.4M710.8 29.59h-2.4M532.3 22.55h2.4M710.8 22.55h-2.4M532.3 15.5h2.4M710.8 15.5h-2.4M532.3 8.45h2.4M710.8 8.45h-2.4" stroke="#858585" stroke-width="1" fill="none"/>
<rect x="532.3" y="1.4" width="178.5" height="218.5" fill="none" stroke="#a4a4a4" stroke-width="1.25"/>
<path d="M39.15 490.1v-2.6M39.15 271.6v2.6M45.1 490.1v-2.6M45.1 271.6v2.6M51.05 490.1v-2.6M51.05 271.6v2.6M57 490.1v-2.6M57 271.6v2.6M62.95 490.1v-4.5M62.95 271.6v4.5M68.9 490.1v-2.6M68.9 271.6v2.6M74.85 490.1v-2.6M74.85 271.6v2.6M80.8 490.1v-2.6M80.8 271.6v2.6M86.75 490.1v-2.6M86.75 271.6v2.6M92.7 490.1v-4.5M92.7 271.6v4.5M98.65 490.1v-2.6M98.65 271.6v2.6M104.6 490.1v-2.6M104.6 271.6v2.6M110.55 490.1v-2.6M110.55 271.6v2.6M116.5 490.1v-2.6M116.5 271.6v2.6M122.45 490.1v-4.5M122.45 271.6v4.5M128.4 490.1v-2.6M128.4 271.6v2.6M134.35 490.1v-2.6M134.35 271.6v2.6M140.3 490.1v-2.6M140.3 271.6v2.6M146.25 490.1v-2.6M146.25 271.6v2.6M152.2 490.1v-4.5M152.2 271.6v4.5M158.15 490.1v-2.6M158.15 271.6v2.6M164.1 490.1v-2.6M164.1 271.6v2.6M170.05 490.1v-2.6M170.05 271.6v2.6M176 490.1v-2.6M176 271.6v2.6M181.95 490.1v-4.5M181.95 271.6v4.5M187.9 490.1v-2.6M187.9 271.6v2.6M193.85 490.1v-2.6M193.85 271.6v2.6M199.8 490.1v-2.6M199.8 271.6v2.6M205.75 490.1v-2.6M205.75 271.6v2.6M33.2 485.24h2.4M211.7 485.24h-2.4M33.2 480.39h2.4M211.7 480.39h-2.4M33.2 475.53h2.4M211.7 475.53h-2.4M33.2 470.68h2.4M211.7 470.68h-2.4M33.2 465.82h2.4M211.7 465.82h-2.4M33.2 460.97h2.4M211.7 460.97h-2.4M33.2 456.11h2.4M211.7 456.11h-2.4M33.2 451.26h2.4M211.7 451.26h-2.4M33.2 446.4h2.4M211.7 446.4h-2.4M33.2 441.54h4M211.7 441.54h-4M33.2 436.69h2.4M211.7 436.69h-2.4M33.2 431.83h2.4M211.7 431.83h-2.4M33.2 426.98h2.4M211.7 426.98h-2.4M33.2 422.12h2.4M211.7 422.12h-2.4M33.2 417.27h2.4M211.7 417.27h-2.4M33.2 412.41h2.4M211.7 412.41h-2.4M33.2 407.56h2.4M211.7 407.56h-2.4M33.2 402.7h2.4M211.7 402.7h-2.4M33.2 397.84h2.4M211.7 397.84h-2.4M33.2 392.99h4M211.7 392.99h-4M33.2 388.13h2.4M211.7 388.13h-2.4M33.2 383.28h2.4M211.7 383.28h-2.4M33.2 378.42h2.4M211.7 378.42h-2.4M33.2 373.57h2.4M211.7 373.57h-2.4M33.2 368.71h2.4M211.7 368.71h-2.4M33.2 363.86h2.4M211.7 363.86h-2.4M33.2 359h2.4M211.7 359h-2.4M33.2 354.14h2.4M211.7 354.14h-2.4M33.2 349.29h2.4M211.7 349.29h-2.4M33.2 344.43h4M211.7 344.43h-4M33.2 339.58h2.4M211.7 339.58h-2.4M33.2 334.72h2.4M211.7 334.72h-2.4M33.2 329.87h2.4M211.7 329.87h-2.4M33.2 325.01h2.4M211.7 325.01h-2.4M33.2 320.16h2.4M211.7 320.16h-2.4M33.2 315.3h2.4M211.7 315.3h-2.4M33.2 310.44h2.4M211.7 310.44h-2.4M33.2 305.59h2.4M211.7 305.59h-2.4M33.2 300.73h2.4M211.7 300.73h-2.4M33.2 295.88h4M211.7 295.88h-4M33.2 291.02h2.4M211.7 291.02h-2.4M33.2 286.17h2.4M211.7 286.17h-2.4M33.2 281.31h2.4M211.7 281.31h-2.4M33.2 276.46h2.4M211.7 276.46h-2.4" stroke="#858585" stroke-width="1" fill="none"/>
<rect x="33.2" y="271.6" width="178.5" height="218.5" fill="none" stroke="#a4a4a4" stroke-width="1.25"/>
<path d="M288.75 490.1v-2.6M288.75 271.6v2.6M294.7 490.1v-2.6M294.7 271.6v2.6M300.65 490.1v-2.6M300.65 271.6v2.6M306.6 490.1v-2.6M306.6 271.6v2.6M312.55 490.1v-4.5M312.55 271.6v4.5M318.5 490.1v-2.6M318.5 271.6v2.6M324.45 490.1v-2.6M324.45 271.6v2.6M330.4 490.1v-2.6M330.4 271.6v2.6M336.35 490.1v-2.6M336.35 271.6v2.6M342.3 490.1v-4.5M342.3 271.6v4.5M348.25 490.1v-2.6M348.25 271.6v2.6M354.2 490.1v-2.6M354.2 271.6v2.6M360.15 490.1v-2.6M360.15 271.6v2.6M366.1 490.1v-2.6M366.1 271.6v2.6M372.05 490.1v-4.5M372.05 271.6v4.5M378 490.1v-2.6M378 271.6v2.6M383.95 490.1v-2.6M383.95 271.6v2.6M389.9 490.1v-2.6M389.9 271.6v2.6M395.85 490.1v-2.6M395.85 271.6v2.6M401.8 490.1v-4.5M401.8 271.6v4.5M407.75 490.1v-2.6M407.75 271.6v2.6M413.7 490.1v-2.6M413.7 271.6v2.6M419.65 490.1v-2.6M419.65 271.6v2.6M425.6 490.1v-2.6M425.6 271.6v2.6M431.55 490.1v-4.5M431.55 271.6v4.5M437.5 490.1v-2.6M437.5 271.6v2.6M443.45 490.1v-2.6M443.45 271.6v2.6M449.4 490.1v-2.6M449.4 271.6v2.6M455.35 490.1v-2.6M455.35 271.6v2.6M282.8 485.24h2.4M461.3 485.24h-2.4M282.8 480.39h2.4M461.3 480.39h-2.4M282.8 475.53h2.4M461.3 475.53h-2.4M282.8 470.68h2.4M461.3 470.68h-2.4M282.8 465.82h2.4M461.3 465.82h-2.4M282.8 460.97h2.4M461.3 460.97h-2.4M282.8 456.11h2.4M461.3 456.11h-2.4M282.8 451.26h2.4M461.3 451.26h-2.4M282.8 446.4h2.4M461.3 446.4h-2.4M282.8 441.54h4M461.3 441.54h-4M282.8 436.69h2.4M461.3 436.69h-2.4M282.8 431.83h2.4M461.3 431.83h-2.4M282.8 426.98h2.4M461.3 426.98h-2.4M282.8 422.12h2.4M461.3 422.12h-2.4M282.8 417.27h2.4M461.3 417.27h-2.4M282.8 412.41h2.4M461.3 412.41h-2.4M282.8 407.56h2.4M461.3 407.56h-2.4M282.8 402.7h2.4M461.3 402.7h-2.4M282.8 397.84h2.4M461.3 397.84h-2.4M282.8 392.99h4M461.3 392.99h-4M282.8 388.13h2.4M461.3 388.13h-2.4M282.8 383.28h2.4M461.3 383.28h-2.4M282.8 378.42h2.4M461.3 378.42h-2.4M282.8 373.57h2.4M461.3 373.57h-2.4M282.8 368.71h2.4M461.3 368.71h-2.4M282.8 363.86h2.4M461.3 363.86h-2.4M282.8 359h2.4M461.3 359h-2.4M282.8 354.14h2.4M461.3 354.14h-2.4M282.8 349.29h2.4M461.3 349.29h-2.4M282.8 344.43h4M461.3 344.43h-4M282.8 339.58h2.4M461.3 339.58h-2.4M282.8 334.72h2.4M461.3 334.72h-2.4M282.8 329.87h2.4M461.3 329.87h-2.4M282.8 325.01h2.4M461.3 325.01h-2.4M282.8 320.16h2.4M461.3 320.16h-2.4M282.8 315.3h2.4M461.3 315.3h-2.4M282.8 310.44h2.4M461.3 310.44h-2.4M282.8 305.59h2.4M461.3 305.59h-2.4M282.8 300.73h2.4M461.3 300.73h-2.4M282.8 295.88h4M461.3 295.88h-4M282.8 291.02h2.4M461.3 291.02h-2.4M282.8 286.17h2.4M461.3 286.17h-2.4M282.8 281.31h2.4M461.3 281.31h-2.4M282.8 276.46h2.4M461.3 276.46h-2.4" stroke="#858585" stroke-width="1" fill="none"/>
<rect x="282.8" y="271.6" width="178.5" height="218.5" fill="none" stroke="#a4a4a4" stroke-width="1.25"/>
<path d="M538.25 490.1v-2.6M538.25 271.6v2.6M544.2 490.1v-2.6M544.2 271.6v2.6M550.15 490.1v-2.6M550.15 271.6v2.6M556.1 490.1v-2.6M556.1 271.6v2.6M562.05 490.1v-4.5M562.05 271.6v4.5M568 490.1v-2.6M568 271.6v2.6M573.95 490.1v-2.6M573.95 271.6v2.6M579.9 490.1v-2.6M579.9 271.6v2.6M585.85 490.1v-2.6M585.85 271.6v2.6M591.8 490.1v-4.5M591.8 271.6v4.5M597.75 490.1v-2.6M597.75 271.6v2.6M603.7 490.1v-2.6M603.7 271.6v2.6M609.65 490.1v-2.6M609.65 271.6v2.6M615.6 490.1v-2.6M615.6 271.6v2.6M621.55 490.1v-4.5M621.55 271.6v4.5M627.5 490.1v-2.6M627.5 271.6v2.6M633.45 490.1v-2.6M633.45 271.6v2.6M639.4 490.1v-2.6M639.4 271.6v2.6M645.35 490.1v-2.6M645.35 271.6v2.6M651.3 490.1v-4.5M651.3 271.6v4.5M657.25 490.1v-2.6M657.25 271.6v2.6M663.2 490.1v-2.6M663.2 271.6v2.6M669.15 490.1v-2.6M669.15 271.6v2.6M675.1 490.1v-2.6M675.1 271.6v2.6M681.05 490.1v-4.5M681.05 271.6v4.5M687 490.1v-2.6M687 271.6v2.6M692.95 490.1v-2.6M692.95 271.6v2.6M698.9 490.1v-2.6M698.9 271.6v2.6M704.85 490.1v-2.6M704.85 271.6v2.6M532.3 485.24h2.4M710.8 485.24h-2.4M532.3 480.39h2.4M710.8 480.39h-2.4M532.3 475.53h2.4M710.8 475.53h-2.4M532.3 470.68h2.4M710.8 470.68h-2.4M532.3 465.82h2.4M710.8 465.82h-2.4M532.3 460.97h2.4M710.8 460.97h-2.4M532.3 456.11h2.4M710.8 456.11h-2.4M532.3 451.26h2.4M710.8 451.26h-2.4M532.3 446.4h2.4M710.8 446.4h-2.4M532.3 441.54h4M710.8 441.54h-4M532.3 436.69h2.4M710.8 436.69h-2.4M532.3 431.83h2.4M710.8 431.83h-2.4M532.3 426.98h2.4M710.8 426.98h-2.4M532.3 422.12h2.4M710.8 422.12h-2.4M532.3 417.27h2.4M710.8 417.27h-2.4M532.3 412.41h2.4M710.8 412.41h-2.4M532.3 407.56h2.4M710.8 407.56h-2.4M532.3 402.7h2.4M710.8 402.7h-2.4M532.3 397.84h2.4M710.8 397.84h-2.4M532.3 392.99h4M710.8 392.99h-4M532.3 388.13h2.4M710.8 388.13h-2.4M532.3 383.28h2.4M710.8 383.28h-2.4M532.3 378.42h2.4M710.8 378.42h-2.4M532.3 373.57h2.4M710.8 373.57h-2.4M532.3 368.71h2.4M710.8 368.71h-2.4M532.3 363.86h2.4M710.8 363.86h-2.4M532.3 359h2.4M710.8 359h-2.4M532.3 354.14h2.4M710.8 354.14h-2.4M532.3 349.29h2.4M710.8 349.29h-2.4M532.3 344.43h4M710.8 344.43h-4M532.3 339.58h2.4M710.8 339.58h-2.4M532.3 334.72h2.4M710.8 334.72h-2.4M532.3 329.87h2.4M710.8 329.87h-2.4M532.3 325.01h2.4M710.8 325.01h-2.4M532.3 320.16h2.4M710.8 320.16h-2.4M532.3 315.3h2.4M710.8 315.3h-2.4M532.3 310.44h2.4M710.8 310.44h-2.4M532.3 305.59h2.4M710.8 305.59h-2.4M532.3 300.73h2.4M710.8 300.73h-2.4M532.3 295.88h4M710.8 295.88h-4M532.3 291.02h2.4M710.8 291.02h-2.4M532.3 286.17h2.4M710.8 286.17h-2.4M532.3 281.31h2.4M710.8 281.31h-2.4M532.3 276.46h2.4M710.8 276.46h-2.4" stroke="#858585" stroke-width="1" fill="none"/>
<rect x="532.3" y="271.6" width="178.5" height="218.5" fill="none" stroke="#a4a4a4" stroke-width="1.25"/>
<g opacity="0.995">
<text x="26.35" y="233" class="tl" textLength="13.7" lengthAdjust="spacingAndGlyphs">0.0</text>
<text x="62.05" y="233" class="tl" textLength="13.7" lengthAdjust="spacingAndGlyphs">0.5</text>
<text x="97.75" y="233" class="tl" textLength="13.7" lengthAdjust="spacingAndGlyphs">1.0</text>
<text x="133.45" y="233" class="tl" textLength="13.7" lengthAdjust="spacingAndGlyphs">1.5</text>
<text x="169.15" y="233" class="tl" textLength="13.7" lengthAdjust="spacingAndGlyphs">2.0</text>
<text x="204.85" y="233" class="tl" textLength="13.7" lengthAdjust="spacingAndGlyphs">2.5</text>
<text x="17" y="216.45" class="tl" textLength="13.6" lengthAdjust="spacingAndGlyphs">0.0</text>
<text x="17" y="181.21" class="tl" textLength="13.6" lengthAdjust="spacingAndGlyphs">0.5</text>
<text x="17" y="145.97" class="tl" textLength="13.6" lengthAdjust="spacingAndGlyphs">1.0</text>
<text x="17" y="110.73" class="tl" textLength="13.6" lengthAdjust="spacingAndGlyphs">1.5</text>
<text x="17" y="75.48" class="tl" textLength="13.6" lengthAdjust="spacingAndGlyphs">2.0</text>
<text x="17" y="40.24" class="tl" textLength="13.6" lengthAdjust="spacingAndGlyphs">2.5</text>
<text x="17" y="5" class="tl" textLength="13.6" lengthAdjust="spacingAndGlyphs">3.0</text>
<text x="104.25" y="244.2" class="al" textLength="23.3" lengthAdjust="spacingAndGlyphs">(g−r)</text><text x="128.05" y="246.1" class="sub" textLength="12.6" lengthAdjust="spacingAndGlyphs">DR7</text>
<g transform="translate(7.8 110.65) rotate(-90)"><text x="-18.2" y="0" class="al" textLength="23.3" lengthAdjust="spacingAndGlyphs">(r−z)</text><text x="5.6" y="1.9" class="sub" textLength="12.6" lengthAdjust="spacingAndGlyphs">DR7</text></g>
<text x="275.95" y="233" class="tl" textLength="13.7" lengthAdjust="spacingAndGlyphs">0.0</text>
<text x="311.65" y="233" class="tl" textLength="13.7" lengthAdjust="spacingAndGlyphs">0.5</text>
<text x="347.35" y="233" class="tl" textLength="13.7" lengthAdjust="spacingAndGlyphs">1.0</text>
<text x="383.05" y="233" class="tl" textLength="13.7" lengthAdjust="spacingAndGlyphs">1.5</text>
<text x="418.75" y="233" class="tl" textLength="13.7" lengthAdjust="spacingAndGlyphs">2.0</text>
<text x="454.45" y="233" class="tl" textLength="13.7" lengthAdjust="spacingAndGlyphs">2.5</text>
<text x="266.6" y="216.45" class="tl" textLength="13.6" lengthAdjust="spacingAndGlyphs">0.0</text>
<text x="266.6" y="181.21" class="tl" textLength="13.6" lengthAdjust="spacingAndGlyphs">0.5</text>
<text x="266.6" y="145.97" class="tl" textLength="13.6" lengthAdjust="spacingAndGlyphs">1.0</text>
<text x="266.6" y="110.73" class="tl" textLength="13.6" lengthAdjust="spacingAndGlyphs">1.5</text>
<text x="266.6" y="75.48" class="tl" textLength="13.6" lengthAdjust="spacingAndGlyphs">2.0</text>
<text x="266.6" y="40.24" class="tl" textLength="13.6" lengthAdjust="spacingAndGlyphs">2.5</text>
<text x="266.6" y="5" class="tl" textLength="13.6" lengthAdjust="spacingAndGlyphs">3.0</text>
<text x="353.85" y="244.2" class="al" textLength="23.3" lengthAdjust="spacingAndGlyphs">(g−r)</text><text x="377.65" y="246.1" class="sub" textLength="12.6" lengthAdjust="spacingAndGlyphs">DR7</text>
<g transform="translate(257.4 110.65) rotate(-90)"><text x="-18.2" y="0" class="al" textLength="23.3" lengthAdjust="spacingAndGlyphs">(r−z)</text><text x="5.6" y="1.9" class="sub" textLength="12.6" lengthAdjust="spacingAndGlyphs">DR7</text></g>
<text x="525.45" y="233" class="tl" textLength="13.7" lengthAdjust="spacingAndGlyphs">0.0</text>
<text x="561.15" y="233" class="tl" textLength="13.7" lengthAdjust="spacingAndGlyphs">0.5</text>
<text x="596.85" y="233" class="tl" textLength="13.7" lengthAdjust="spacingAndGlyphs">1.0</text>
<text x="632.55" y="233" class="tl" textLength="13.7" lengthAdjust="spacingAndGlyphs">1.5</text>
<text x="668.25" y="233" class="tl" textLength="13.7" lengthAdjust="spacingAndGlyphs">2.0</text>
<text x="703.95" y="233" class="tl" textLength="13.7" lengthAdjust="spacingAndGlyphs">2.5</text>
<text x="516.1" y="216.45" class="tl" textLength="13.6" lengthAdjust="spacingAndGlyphs">0.0</text>
<text x="516.1" y="181.21" class="tl" textLength="13.6" lengthAdjust="spacingAndGlyphs">0.5</text>
<text x="516.1" y="145.97" class="tl" textLength="13.6" lengthAdjust="spacingAndGlyphs">1.0</text>
<text x="516.1" y="110.73" class="tl" textLength="13.6" lengthAdjust="spacingAndGlyphs">1.5</text>
<text x="516.1" y="75.48" class="tl" textLength="13.6" lengthAdjust="spacingAndGlyphs">2.0</text>
<text x="516.1" y="40.24" class="tl" textLength="13.6" lengthAdjust="spacingAndGlyphs">2.5</text>
<text x="516.1" y="5" class="tl" textLength="13.6" lengthAdjust="spacingAndGlyphs">3.0</text>
<text x="603.35" y="244.2" class="al" textLength="23.3" lengthAdjust="spacingAndGlyphs">(g−r)</text><text x="627.15" y="246.1" class="sub" textLength="12.6" lengthAdjust="spacingAndGlyphs">DR7</text>
<g transform="translate(506.9 110.65) rotate(-90)"><text x="-18.2" y="0" class="al" textLength="23.3" lengthAdjust="spacingAndGlyphs">(r−z)</text><text x="5.6" y="1.9" class="sub" textLength="12.6" lengthAdjust="spacingAndGlyphs">DR7</text></g>
<text x="26.35" y="503.2" class="tl" textLength="13.7" lengthAdjust="spacingAndGlyphs">0.0</text>
<text x="56.1" y="503.2" class="tl" textLength="13.7" lengthAdjust="spacingAndGlyphs">0.5</text>
<text x="85.85" y="503.2" class="tl" textLength="13.7" lengthAdjust="spacingAndGlyphs">1.0</text>
<text x="115.6" y="503.2" class="tl" textLength="13.7" lengthAdjust="spacingAndGlyphs">1.5</text>
<text x="145.35" y="503.2" class="tl" textLength="13.7" lengthAdjust="spacingAndGlyphs">2.0</text>
<text x="175.1" y="503.2" class="tl" textLength="13.7" lengthAdjust="spacingAndGlyphs">2.5</text>
<text x="204.85" y="503.2" class="tl" textLength="13.7" lengthAdjust="spacingAndGlyphs">3.0</text>
<text x="18.7" y="491.1" class="tl" textLength="11.9" lengthAdjust="spacingAndGlyphs">−2</text>
<text x="19.6" y="445.14" class="tl" textLength="11" lengthAdjust="spacingAndGlyphs">−1</text>
<text x="24.8" y="396.59" class="tl" textLength="5.8" lengthAdjust="spacingAndGlyphs">0</text>
<text x="25.6" y="348.03" class="tl" textLength="5" lengthAdjust="spacingAndGlyphs">1</text>
<text x="24.8" y="299.48" class="tl" textLength="5.8" lengthAdjust="spacingAndGlyphs">2</text>
<text x="104.25" y="514.4" class="al" textLength="23.3" lengthAdjust="spacingAndGlyphs">(r−z)</text><text x="128.05" y="516.3" class="sub" textLength="12.6" lengthAdjust="spacingAndGlyphs">DR7</text>
<g transform="translate(7.8 380.85) rotate(-90)"><text x="-23.8" y="0" class="al" textLength="34.5" lengthAdjust="spacingAndGlyphs">(z−W1)</text><text x="11.2" y="1.9" class="sub" textLength="12.6" lengthAdjust="spacingAndGlyphs">DR7</text></g>
<text x="275.95" y="503.2" class="tl" textLength="13.7" lengthAdjust="spacingAndGlyphs">0.0</text>
<text x="305.7" y="503.2" class="tl" textLength="13.7" lengthAdjust="spacingAndGlyphs">0.5</text>
<text x="335.45" y="503.2" class="tl" textLength="13.7" lengthAdjust="spacingAndGlyphs">1.0</text>
<text x="365.2" y="503.2" class="tl" textLength="13.7" lengthAdjust="spacingAndGlyphs">1.5</text>
<text x="394.95" y="503.2" class="tl" textLength="13.7" lengthAdjust="spacingAndGlyphs">2.0</text>
<text x="424.7" y="503.2" class="tl" textLength="13.7" lengthAdjust="spacingAndGlyphs">2.5</text>
<text x="454.45" y="503.2" class="tl" textLength="13.7" lengthAdjust="spacingAndGlyphs">3.0</text>
<text x="268.3" y="491.1" class="tl" textLength="11.9" lengthAdjust="spacingAndGlyphs">−2</text>
<text x="269.2" y="445.14" class="tl" textLength="11" lengthAdjust="spacingAndGlyphs">−1</text>
<text x="274.4" y="396.59" class="tl" textLength="5.8" lengthAdjust="spacingAndGlyphs">0</text>
<text x="275.2" y="348.03" class="tl" textLength="5" lengthAdjust="spacingAndGlyphs">1</text>
<text x="274.4" y="299.48" class="tl" textLength="5.8" lengthAdjust="spacingAndGlyphs">2</text>
<text x="353.85" y="514.4" class="al" textLength="23.3" lengthAdjust="spacingAndGlyphs">(r−z)</text><text x="377.65" y="516.3" class="sub" textLength="12.6" lengthAdjust="spacingAndGlyphs">DR7</text>
<g transform="translate(257.4 380.85) rotate(-90)"><text x="-23.8" y="0" class="al" textLength="34.5" lengthAdjust="spacingAndGlyphs">(z−W1)</text><text x="11.2" y="1.9" class="sub" textLength="12.6" lengthAdjust="spacingAndGlyphs">DR7</text></g>
<text x="525.45" y="503.2" class="tl" textLength="13.7" lengthAdjust="spacingAndGlyphs">0.0</text>
<text x="555.2" y="503.2" class="tl" textLength="13.7" lengthAdjust="spacingAndGlyphs">0.5</text>
<text x="584.95" y="503.2" class="tl" textLength="13.7" lengthAdjust="spacingAndGlyphs">1.0</text>
<text x="614.7" y="503.2" class="tl" textLength="13.7" lengthAdjust="spacingAndGlyphs">1.5</text>
<text x="644.45" y="503.2" class="tl" textLength="13.7" lengthAdjust="spacingAndGlyphs">2.0</text>
<text x="674.2" y="503.2" class="tl" textLength="13.7" lengthAdjust="spacingAndGlyphs">2.5</text>
<text x="703.95" y="503.2" class="tl" textLength="13.7" lengthAdjust="spacingAndGlyphs">3.0</text>
<text x="517.8" y="491.1" class="tl" textLength="11.9" lengthAdjust="spacingAndGlyphs">−2</text>
<text x="518.7" y="445.14" class="tl" textLength="11" lengthAdjust="spacingAndGlyphs">−1</text>
<text x="523.9" y="396.59" class="tl" textLength="5.8" lengthAdjust="spacingAndGlyphs">0</text>
<text x="524.7" y="348.03" class="tl" textLength="5" lengthAdjust="spacingAndGlyphs">1</text>
<text x="523.9" y="299.48" class="tl" textLength="5.8" lengthAdjust="spacingAndGlyphs">2</text>
<text x="603.35" y="514.4" class="al" textLength="23.3" lengthAdjust="spacingAndGlyphs">(r−z)</text><text x="627.15" y="516.3" class="sub" textLength="12.6" lengthAdjust="spacingAndGlyphs">DR7</text>
<g transform="translate(506.9 380.85) rotate(-90)"><text x="-23.8" y="0" class="al" textLength="34.5" lengthAdjust="spacingAndGlyphs">(z−W1)</text><text x="11.2" y="1.9" class="sub" textLength="12.6" lengthAdjust="spacingAndGlyphs">DR7</text></g>
<text x="48" y="22.8" class="pn" textLength="26.6" lengthAdjust="spacingAndGlyphs">PSF</text>
<text x="297.1" y="22.7" class="pn" textLength="28.8" lengthAdjust="spacingAndGlyphs">EXP</text>
<text x="546.9" y="22.8" class="pn" textLength="31" lengthAdjust="spacingAndGlyphs">DEV</text>
<text x="45.5" y="291.6" class="pn" textLength="26.6" lengthAdjust="spacingAndGlyphs">PSF</text>
<text x="425.4" y="475.8" class="pn" textLength="28.8" lengthAdjust="spacingAndGlyphs">EXP</text>
<text x="674.2" y="475.8" class="pn" textLength="31" lengthAdjust="spacingAndGlyphs">DEV</text>
</g>
</svg>
</body></html>
